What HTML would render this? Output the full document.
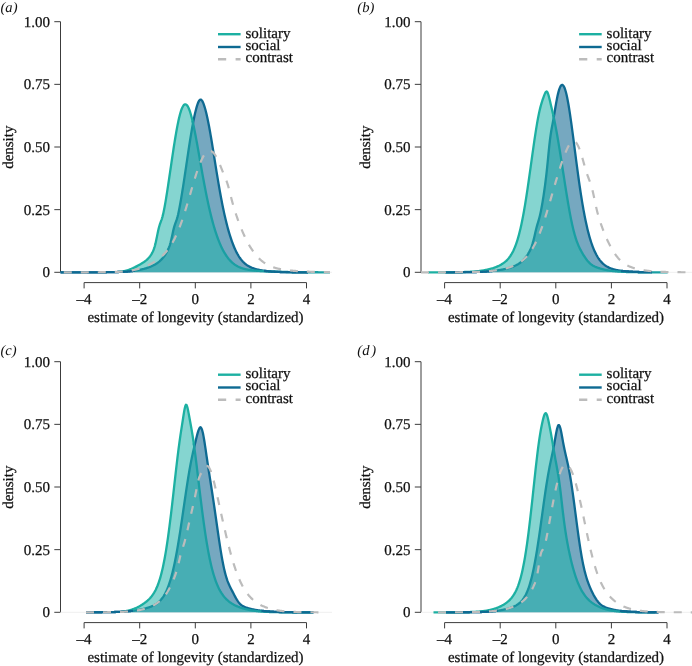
<!DOCTYPE html>
<html><head><meta charset="utf-8"><style>
html,body{margin:0;padding:0;background:#fff;}
svg{display:block;will-change:transform;text-rendering:geometricPrecision;}
.tk{font-family:"Liberation Serif",serif;font-size:15px;fill:#111;stroke:#111;stroke-width:0.25px;}
.it{font-family:"Liberation Serif",serif;font-style:italic;font-size:14.6px;fill:#111;}
.ax{stroke:#3c3c3c;stroke-width:1.0;fill:none;}
</style></head><body>
<svg width="692" height="666" viewBox="0 0 692 666">
<rect width="692" height="666" fill="#fff"/>
<g transform="translate(0,0)">
<text x="0.5" y="11.9" class="it">(a<tspan dx="0">)</tspan></text>
<line x1="60.5" y1="21.7" x2="60.5" y2="272.3" class="ax"/>
<line x1="54.3" y1="272.30" x2="60.5" y2="272.30" class="ax"/>
<text x="50" y="277.20" class="tk" text-anchor="end">0</text>
<line x1="54.3" y1="209.65" x2="60.5" y2="209.65" class="ax"/>
<text x="50" y="214.55" class="tk" text-anchor="end">0.25</text>
<line x1="54.3" y1="147.00" x2="60.5" y2="147.00" class="ax"/>
<text x="50" y="151.90" class="tk" text-anchor="end">0.50</text>
<line x1="54.3" y1="84.35" x2="60.5" y2="84.35" class="ax"/>
<text x="50" y="89.25" class="tk" text-anchor="end">0.75</text>
<line x1="54.3" y1="21.70" x2="60.5" y2="21.70" class="ax"/>
<text x="50" y="26.60" class="tk" text-anchor="end">1.00</text>
<line x1="84.10" y1="282.6" x2="306.50" y2="282.6" class="ax"/>
<line x1="84.10" y1="282.6" x2="84.10" y2="288.40000000000003" class="ax"/>
<text x="84.10" y="304.3" class="tk" text-anchor="middle">–4</text>
<line x1="139.70" y1="282.6" x2="139.70" y2="288.40000000000003" class="ax"/>
<text x="139.70" y="304.3" class="tk" text-anchor="middle">–2</text>
<line x1="195.30" y1="282.6" x2="195.30" y2="288.40000000000003" class="ax"/>
<text x="195.30" y="304.3" class="tk" text-anchor="middle">0</text>
<line x1="250.90" y1="282.6" x2="250.90" y2="288.40000000000003" class="ax"/>
<text x="250.90" y="304.3" class="tk" text-anchor="middle">2</text>
<line x1="306.50" y1="282.6" x2="306.50" y2="288.40000000000003" class="ax"/>
<text x="306.50" y="304.3" class="tk" text-anchor="middle">4</text>
<text x="195.5" y="322.1" class="tk" text-anchor="middle">estimate of longevity (standardized)</text>
<text transform="translate(13.3,147.2) rotate(-90)" class="tk" text-anchor="middle">density</text>
<line x1="60.5" y1="272.3" x2="332" y2="272.3" stroke="#efefef" stroke-width="1"/>
<path d="M60.50,272.30 L61.00,272.30 L61.50,272.30 L62.00,272.30 L62.50,272.30 L63.00,272.30 L63.50,272.30 L64.00,272.30 L64.50,272.30 L65.00,272.30 L65.50,272.30 L66.00,272.30 L66.50,272.30 L67.00,272.30 L67.50,272.30 L68.00,272.30 L68.50,272.30 L69.00,272.30 L69.50,272.30 L70.00,272.30 L70.50,272.30 L71.00,272.30 L71.50,272.30 L72.00,272.30 L72.50,272.30 L73.00,272.30 L73.50,272.30 L74.00,272.30 L74.50,272.30 L75.00,272.30 L75.50,272.30 L76.00,272.30 L76.50,272.30 L77.00,272.30 L77.50,272.30 L78.00,272.30 L78.50,272.30 L79.00,272.30 L79.50,272.30 L80.00,272.30 L80.50,272.30 L81.00,272.30 L81.50,272.30 L82.00,272.30 L82.50,272.30 L83.00,272.30 L83.50,272.30 L84.00,272.30 L84.50,272.30 L85.00,272.30 L85.50,272.30 L86.00,272.30 L86.50,272.30 L87.00,272.30 L87.50,272.30 L88.00,272.29 L88.50,272.29 L89.00,272.29 L89.50,272.29 L90.00,272.29 L90.50,272.29 L91.00,272.29 L91.50,272.29 L92.00,272.29 L92.50,272.29 L93.00,272.29 L93.50,272.29 L94.00,272.29 L94.50,272.29 L95.00,272.28 L95.50,272.28 L96.00,272.28 L96.50,272.28 L97.00,272.28 L97.50,272.28 L98.00,272.28 L98.50,272.27 L99.00,272.27 L99.50,272.27 L100.00,272.27 L100.50,272.27 L101.00,272.26 L101.50,272.26 L102.00,272.26 L102.50,272.26 L103.00,272.25 L103.50,272.25 L104.00,272.25 L104.50,272.24 L105.00,272.24 L105.50,272.24 L106.00,272.23 L106.50,272.23 L107.00,272.22 L107.50,272.22 L108.00,272.21 L108.50,272.21 L109.00,272.20 L109.50,272.19 L110.00,272.19 L110.50,272.18 L111.00,272.17 L111.50,272.16 L112.00,272.15 L112.50,272.15 L113.00,272.14 L113.50,272.13 L114.00,272.12 L114.50,272.10 L115.00,272.09 L115.50,272.08 L116.00,272.07 L116.50,272.05 L117.00,272.04 L117.50,272.02 L118.00,272.01 L118.50,271.99 L119.00,271.97 L119.50,271.95 L120.00,271.93 L120.50,271.91 L121.00,271.89 L121.50,271.87 L122.00,271.85 L122.50,271.82 L123.00,271.79 L123.50,271.77 L124.00,271.74 L124.50,271.71 L125.00,271.68 L125.50,271.65 L126.00,271.61 L126.50,271.58 L127.00,271.54 L127.50,271.50 L128.00,271.46 L128.50,271.42 L129.00,271.37 L129.50,271.33 L130.00,271.28 L130.50,271.23 L131.00,271.18 L131.50,271.12 L132.00,271.06 L132.50,271.01 L133.00,270.94 L133.50,270.88 L134.00,270.82 L134.50,270.75 L135.00,270.68 L135.50,270.60 L136.00,270.53 L136.50,270.45 L137.00,270.36 L137.50,270.28 L138.00,270.19 L138.50,270.10 L139.00,270.00 L139.50,269.90 L140.00,269.80 L140.50,269.70 L141.00,269.59 L141.50,269.48 L142.00,269.36 L142.50,269.24 L143.00,269.12 L143.50,268.99 L144.00,268.86 L144.50,268.72 L145.00,268.58 L145.50,268.43 L146.00,268.28 L146.50,268.12 L147.00,267.96 L147.50,267.80 L148.00,267.62 L148.50,267.45 L149.00,267.26 L149.50,267.07 L150.00,266.88 L150.50,266.67 L151.00,266.46 L151.50,266.25 L152.00,266.02 L152.50,265.79 L153.00,265.54 L153.50,265.29 L154.00,265.03 L154.50,264.76 L155.00,264.47 L155.50,264.18 L156.00,263.87 L156.50,263.55 L157.00,263.22 L157.50,262.87 L158.00,262.51 L158.50,262.13 L159.00,261.73 L159.50,261.31 L160.00,260.87 L160.50,260.41 L161.00,259.93 L161.50,259.42 L162.00,258.88 L162.50,258.32 L163.00,257.73 L163.50,257.11 L164.00,256.45 L164.50,255.76 L165.00,255.03 L165.50,254.27 L166.00,253.46 L166.50,252.60 L167.00,251.69 L167.50,250.73 L168.00,249.70 L168.50,248.59 L169.00,247.38 L169.50,246.04 L170.00,244.53 L170.50,242.83 L171.00,240.91 L171.50,238.79 L172.00,236.51 L172.50,234.15 L173.00,231.81 L173.50,229.60 L174.00,227.60 L174.50,225.85 L175.00,224.32 L175.50,222.95 L176.00,221.62 L176.50,220.22 L177.00,218.67 L177.50,216.90 L178.00,214.91 L178.50,212.70 L179.00,210.29 L179.50,207.73 L180.00,205.03 L180.50,202.23 L181.00,199.34 L181.50,196.37 L182.00,193.33 L182.50,190.23 L183.00,187.08 L183.50,183.87 L184.00,180.62 L184.50,177.33 L185.00,174.01 L185.50,170.66 L186.00,167.30 L186.50,163.93 L187.00,160.55 L187.50,157.19 L188.00,153.84 L188.50,150.51 L189.00,147.22 L189.50,143.97 L190.00,140.78 L190.50,137.65 L191.00,134.59 L191.50,131.60 L192.00,128.71 L192.50,125.91 L193.00,123.22 L193.50,120.63 L194.00,118.15 L194.50,115.78 L195.00,113.54 L195.50,111.42 L196.00,109.43 L196.50,107.58 L197.00,105.88 L197.50,104.35 L198.00,102.99 L198.50,101.84 L199.00,100.91 L199.50,100.22 L200.00,99.78 L200.50,99.60 L201.00,99.68 L201.50,100.02 L202.00,100.60 L202.50,101.41 L203.00,102.43 L203.50,103.64 L204.00,105.02 L204.50,106.56 L205.00,108.23 L205.50,110.05 L206.00,111.98 L206.50,114.04 L207.00,116.22 L207.50,118.51 L208.00,120.91 L208.50,123.41 L209.00,126.01 L209.50,128.70 L210.00,131.48 L210.50,134.33 L211.00,137.25 L211.50,140.23 L212.00,143.26 L212.50,146.32 L213.00,149.42 L213.50,152.54 L214.00,155.68 L214.50,158.82 L215.00,161.96 L215.50,165.10 L216.00,168.21 L216.50,171.31 L217.00,174.38 L217.50,177.42 L218.00,180.42 L218.50,183.38 L219.00,186.30 L219.50,189.16 L220.00,191.98 L220.50,194.74 L221.00,197.44 L221.50,200.08 L222.00,202.67 L222.50,205.19 L223.00,207.65 L223.50,210.05 L224.00,212.38 L224.50,214.65 L225.00,216.86 L225.50,219.01 L226.00,221.10 L226.50,223.12 L227.00,225.09 L227.50,226.99 L228.00,228.84 L228.50,230.63 L229.00,232.36 L229.50,234.03 L230.00,235.65 L230.50,237.22 L231.00,238.73 L231.50,240.19 L232.00,241.61 L232.50,242.97 L233.00,244.28 L233.50,245.54 L234.00,246.76 L234.50,247.93 L235.00,249.05 L235.50,250.14 L236.00,251.17 L236.50,252.17 L237.00,253.12 L237.50,254.04 L238.00,254.91 L238.50,255.75 L239.00,256.54 L239.50,257.31 L240.00,258.03 L240.50,258.72 L241.00,259.38 L241.50,260.01 L242.00,260.61 L242.50,261.17 L243.00,261.71 L243.50,262.22 L244.00,262.71 L244.50,263.17 L245.00,263.60 L245.50,264.02 L246.00,264.41 L246.50,264.78 L247.00,265.13 L247.50,265.46 L248.00,265.78 L248.50,266.08 L249.00,266.36 L249.50,266.63 L250.00,266.89 L250.50,267.13 L251.00,267.36 L251.50,267.58 L252.00,267.78 L252.50,267.98 L253.00,268.17 L253.50,268.35 L254.00,268.52 L254.50,268.68 L255.00,268.83 L255.50,268.98 L256.00,269.12 L256.50,269.26 L257.00,269.39 L257.50,269.51 L258.00,269.63 L258.50,269.74 L259.00,269.85 L259.50,269.96 L260.00,270.06 L260.50,270.16 L261.00,270.25 L261.50,270.34 L262.00,270.42 L262.50,270.51 L263.00,270.58 L263.50,270.66 L264.00,270.73 L264.50,270.80 L265.00,270.87 L265.50,270.93 L266.00,271.00 L266.50,271.06 L267.00,271.11 L267.50,271.17 L268.00,271.22 L268.50,271.27 L269.00,271.32 L269.50,271.37 L270.00,271.41 L270.50,271.45 L271.00,271.49 L271.50,271.53 L272.00,271.57 L272.50,271.61 L273.00,271.64 L273.50,271.67 L274.00,271.71 L274.50,271.74 L275.00,271.76 L275.50,271.79 L276.00,271.82 L276.50,271.84 L277.00,271.87 L277.50,271.89 L278.00,271.91 L278.50,271.93 L279.00,271.95 L279.50,271.97 L280.00,271.99 L280.50,272.01 L281.00,272.02 L281.50,272.04 L282.00,272.05 L282.50,272.07 L283.00,272.08 L283.50,272.09 L284.00,272.10 L284.50,272.11 L285.00,272.12 L285.50,272.14 L286.00,272.14 L286.50,272.15 L287.00,272.16 L287.50,272.17 L288.00,272.18 L288.50,272.19 L289.00,272.19 L289.50,272.20 L290.00,272.20 L290.50,272.21 L291.00,272.22 L291.50,272.22 L292.00,272.23 L292.50,272.23 L293.00,272.24 L293.50,272.24 L294.00,272.24 L294.50,272.25 L295.00,272.25 L295.50,272.25 L296.00,272.26 L296.50,272.26 L297.00,272.26 L297.50,272.26 L298.00,272.27 L298.50,272.27 L299.00,272.27 L299.50,272.27 L300.00,272.27 L300.50,272.28 L301.00,272.28 L301.50,272.28 L302.00,272.28 L302.50,272.28 L303.00,272.28 L303.50,272.28 L304.00,272.29 L304.50,272.29 L305.00,272.29 L305.50,272.29 L306.00,272.29 L306.50,272.29 L307.00,272.29 L307.50,272.29 L308.00,272.29 L308.00,272.30 L60.50,272.30 Z" fill="#1a6e96" fill-opacity="0.6" stroke="none"/>
<path d="M60.50,272.30 L61.00,272.30 L61.50,272.30 L62.00,272.30 L62.50,272.30 L63.00,272.30 L63.50,272.30 L64.00,272.30 L64.50,272.30 L65.00,272.30 L65.50,272.30 L66.00,272.30 L66.50,272.30 L67.00,272.30 L67.50,272.30 L68.00,272.30 L68.50,272.30 L69.00,272.30 L69.50,272.30 L70.00,272.30 L70.50,272.30 L71.00,272.30 L71.50,272.30 L72.00,272.30 L72.50,272.30 L73.00,272.30 L73.50,272.30 L74.00,272.30 L74.50,272.30 L75.00,272.30 L75.50,272.30 L76.00,272.30 L76.50,272.30 L77.00,272.30 L77.50,272.30 L78.00,272.30 L78.50,272.30 L79.00,272.30 L79.50,272.30 L80.00,272.30 L80.50,272.30 L81.00,272.30 L81.50,272.30 L82.00,272.30 L82.50,272.30 L83.00,272.30 L83.50,272.30 L84.00,272.30 L84.50,272.30 L85.00,272.30 L85.50,272.30 L86.00,272.30 L86.50,272.30 L87.00,272.30 L87.50,272.30 L88.00,272.29 L88.50,272.29 L89.00,272.29 L89.50,272.29 L90.00,272.29 L90.50,272.29 L91.00,272.29 L91.50,272.29 L92.00,272.29 L92.50,272.29 L93.00,272.29 L93.50,272.29 L94.00,272.29 L94.50,272.29 L95.00,272.28 L95.50,272.28 L96.00,272.28 L96.50,272.28 L97.00,272.28 L97.50,272.28 L98.00,272.28 L98.50,272.27 L99.00,272.27 L99.50,272.27 L100.00,272.27 L100.50,272.27 L101.00,272.26 L101.50,272.26 L102.00,272.26 L102.50,272.26 L103.00,272.25 L103.50,272.25 L104.00,272.25 L104.50,272.24 L105.00,272.24 L105.50,272.24 L106.00,272.23 L106.50,272.23 L107.00,272.22 L107.50,272.22 L108.00,272.21 L108.50,272.21 L109.00,272.20 L109.50,272.19 L110.00,272.19 L110.50,272.18 L111.00,272.17 L111.50,272.16 L112.00,272.15 L112.50,272.15 L113.00,272.14 L113.50,272.13 L114.00,272.12 L114.50,272.10 L115.00,272.09 L115.50,272.08 L116.00,272.07 L116.50,272.05 L117.00,272.04 L117.50,272.02 L118.00,272.01 L118.50,271.99 L119.00,271.97 L119.50,271.95 L120.00,271.93 L120.50,271.91 L121.00,271.89 L121.50,271.87 L122.00,271.85 L122.50,271.82 L123.00,271.79 L123.50,271.77 L124.00,271.74 L124.50,271.71 L125.00,271.68 L125.50,271.65 L126.00,271.61 L126.50,271.58 L127.00,271.54 L127.50,271.50 L128.00,271.46 L128.50,271.42 L129.00,271.37 L129.50,271.33 L130.00,271.28 L130.50,271.23 L131.00,271.18 L131.50,271.12 L132.00,271.06 L132.50,271.01 L133.00,270.94 L133.50,270.88 L134.00,270.82 L134.50,270.75 L135.00,270.68 L135.50,270.60 L136.00,270.53 L136.50,270.45 L137.00,270.36 L137.50,270.28 L138.00,270.19 L138.50,270.10 L139.00,270.00 L139.50,269.90 L140.00,269.80 L140.50,269.70 L141.00,269.59 L141.50,269.48 L142.00,269.36 L142.50,269.24 L143.00,269.12 L143.50,268.99 L144.00,268.86 L144.50,268.72 L145.00,268.58 L145.50,268.43 L146.00,268.28 L146.50,268.12 L147.00,267.96 L147.50,267.80 L148.00,267.62 L148.50,267.45 L149.00,267.26 L149.50,267.07 L150.00,266.88 L150.50,266.67 L151.00,266.46 L151.50,266.25 L152.00,266.02 L152.50,265.79 L153.00,265.54 L153.50,265.29 L154.00,265.03 L154.50,264.76 L155.00,264.47 L155.50,264.18 L156.00,263.87 L156.50,263.55 L157.00,263.22 L157.50,262.87 L158.00,262.51 L158.50,262.13 L159.00,261.73 L159.50,261.31 L160.00,260.87 L160.50,260.41 L161.00,259.93 L161.50,259.42 L162.00,258.88 L162.50,258.32 L163.00,257.73 L163.50,257.11 L164.00,256.45 L164.50,255.76 L165.00,255.03 L165.50,254.27 L166.00,253.46 L166.50,252.60 L167.00,251.69 L167.50,250.73 L168.00,249.70 L168.50,248.59 L169.00,247.38 L169.50,246.04 L170.00,244.53 L170.50,242.83 L171.00,240.91 L171.50,238.79 L172.00,236.51 L172.50,234.15 L173.00,231.81 L173.50,229.60 L174.00,227.60 L174.50,225.85 L175.00,224.32 L175.50,222.95 L176.00,221.62 L176.50,220.22 L177.00,218.67 L177.50,216.90 L178.00,214.91 L178.50,212.70 L179.00,210.29 L179.50,207.73 L180.00,205.03 L180.50,202.23 L181.00,199.34 L181.50,196.37 L182.00,193.33 L182.50,190.23 L183.00,187.08 L183.50,183.87 L184.00,180.62 L184.50,177.33 L185.00,174.01 L185.50,170.66 L186.00,167.30 L186.50,163.93 L187.00,160.55 L187.50,157.19 L188.00,153.84 L188.50,150.51 L189.00,147.22 L189.50,143.97 L190.00,140.78 L190.50,137.65 L191.00,134.59 L191.50,131.60 L192.00,128.71 L192.50,125.91 L193.00,123.22 L193.50,120.63 L194.00,118.15 L194.50,115.78 L195.00,113.54 L195.50,111.42 L196.00,109.43 L196.50,107.58 L197.00,105.88 L197.50,104.35 L198.00,102.99 L198.50,101.84 L199.00,100.91 L199.50,100.22 L200.00,99.78 L200.50,99.60 L201.00,99.68 L201.50,100.02 L202.00,100.60 L202.50,101.41 L203.00,102.43 L203.50,103.64 L204.00,105.02 L204.50,106.56 L205.00,108.23 L205.50,110.05 L206.00,111.98 L206.50,114.04 L207.00,116.22 L207.50,118.51 L208.00,120.91 L208.50,123.41 L209.00,126.01 L209.50,128.70 L210.00,131.48 L210.50,134.33 L211.00,137.25 L211.50,140.23 L212.00,143.26 L212.50,146.32 L213.00,149.42 L213.50,152.54 L214.00,155.68 L214.50,158.82 L215.00,161.96 L215.50,165.10 L216.00,168.21 L216.50,171.31 L217.00,174.38 L217.50,177.42 L218.00,180.42 L218.50,183.38 L219.00,186.30 L219.50,189.16 L220.00,191.98 L220.50,194.74 L221.00,197.44 L221.50,200.08 L222.00,202.67 L222.50,205.19 L223.00,207.65 L223.50,210.05 L224.00,212.38 L224.50,214.65 L225.00,216.86 L225.50,219.01 L226.00,221.10 L226.50,223.12 L227.00,225.09 L227.50,226.99 L228.00,228.84 L228.50,230.63 L229.00,232.36 L229.50,234.03 L230.00,235.65 L230.50,237.22 L231.00,238.73 L231.50,240.19 L232.00,241.61 L232.50,242.97 L233.00,244.28 L233.50,245.54 L234.00,246.76 L234.50,247.93 L235.00,249.05 L235.50,250.14 L236.00,251.17 L236.50,252.17 L237.00,253.12 L237.50,254.04 L238.00,254.91 L238.50,255.75 L239.00,256.54 L239.50,257.31 L240.00,258.03 L240.50,258.72 L241.00,259.38 L241.50,260.01 L242.00,260.61 L242.50,261.17 L243.00,261.71 L243.50,262.22 L244.00,262.71 L244.50,263.17 L245.00,263.60 L245.50,264.02 L246.00,264.41 L246.50,264.78 L247.00,265.13 L247.50,265.46 L248.00,265.78 L248.50,266.08 L249.00,266.36 L249.50,266.63 L250.00,266.89 L250.50,267.13 L251.00,267.36 L251.50,267.58 L252.00,267.78 L252.50,267.98 L253.00,268.17 L253.50,268.35 L254.00,268.52 L254.50,268.68 L255.00,268.83 L255.50,268.98 L256.00,269.12 L256.50,269.26 L257.00,269.39 L257.50,269.51 L258.00,269.63 L258.50,269.74 L259.00,269.85 L259.50,269.96 L260.00,270.06 L260.50,270.16 L261.00,270.25 L261.50,270.34 L262.00,270.42 L262.50,270.51 L263.00,270.58 L263.50,270.66 L264.00,270.73 L264.50,270.80 L265.00,270.87 L265.50,270.93 L266.00,271.00 L266.50,271.06 L267.00,271.11 L267.50,271.17 L268.00,271.22 L268.50,271.27 L269.00,271.32 L269.50,271.37 L270.00,271.41 L270.50,271.45 L271.00,271.49 L271.50,271.53 L272.00,271.57 L272.50,271.61 L273.00,271.64 L273.50,271.67 L274.00,271.71 L274.50,271.74 L275.00,271.76 L275.50,271.79 L276.00,271.82 L276.50,271.84 L277.00,271.87 L277.50,271.89 L278.00,271.91 L278.50,271.93 L279.00,271.95 L279.50,271.97 L280.00,271.99 L280.50,272.01 L281.00,272.02 L281.50,272.04 L282.00,272.05 L282.50,272.07 L283.00,272.08 L283.50,272.09 L284.00,272.10 L284.50,272.11 L285.00,272.12 L285.50,272.14 L286.00,272.14 L286.50,272.15 L287.00,272.16 L287.50,272.17 L288.00,272.18 L288.50,272.19 L289.00,272.19 L289.50,272.20 L290.00,272.20 L290.50,272.21 L291.00,272.22 L291.50,272.22 L292.00,272.23 L292.50,272.23 L293.00,272.24 L293.50,272.24 L294.00,272.24 L294.50,272.25 L295.00,272.25 L295.50,272.25 L296.00,272.26 L296.50,272.26 L297.00,272.26 L297.50,272.26 L298.00,272.27 L298.50,272.27 L299.00,272.27 L299.50,272.27 L300.00,272.27 L300.50,272.28 L301.00,272.28 L301.50,272.28 L302.00,272.28 L302.50,272.28 L303.00,272.28 L303.50,272.28 L304.00,272.29 L304.50,272.29 L305.00,272.29 L305.50,272.29 L306.00,272.29 L306.50,272.29 L307.00,272.29 L307.50,272.29 L308.00,272.29" fill="none" stroke="#0e6a92" stroke-width="2.3"/>
<path d="M118.00,271.94 L118.50,271.90 L119.00,271.86 L119.50,271.81 L120.00,271.75 L120.50,271.69 L121.00,271.63 L121.50,271.56 L122.00,271.49 L122.50,271.41 L123.00,271.32 L123.50,271.23 L124.00,271.13 L124.50,271.02 L125.00,270.91 L125.50,270.79 L126.00,270.66 L126.50,270.52 L127.00,270.38 L127.50,270.23 L128.00,270.07 L128.50,269.91 L129.00,269.73 L129.50,269.55 L130.00,269.36 L130.50,269.17 L131.00,268.97 L131.50,268.76 L132.00,268.54 L132.50,268.32 L133.00,268.10 L133.50,267.86 L134.00,267.63 L134.50,267.38 L135.00,267.14 L135.50,266.88 L136.00,266.63 L136.50,266.37 L137.00,266.11 L137.50,265.84 L138.00,265.57 L138.50,265.30 L139.00,265.02 L139.50,264.74 L140.00,264.46 L140.50,264.17 L141.00,263.88 L141.50,263.58 L142.00,263.27 L142.50,262.96 L143.00,262.64 L143.50,262.31 L144.00,261.97 L144.50,261.61 L145.00,261.25 L145.50,260.86 L146.00,260.46 L146.50,260.04 L147.00,259.59 L147.50,259.12 L148.00,258.62 L148.50,258.09 L149.00,257.52 L149.50,256.92 L150.00,256.28 L150.50,255.59 L151.00,254.85 L151.50,254.05 L152.00,253.19 L152.50,252.24 L153.00,251.18 L153.50,249.99 L154.00,248.65 L154.50,247.11 L155.00,245.36 L155.50,243.39 L156.00,241.20 L156.50,238.84 L157.00,236.37 L157.50,233.88 L158.00,231.48 L158.50,229.25 L159.00,227.24 L159.50,225.48 L160.00,223.94 L160.50,222.55 L161.00,221.21 L161.50,219.82 L162.00,218.31 L162.50,216.60 L163.00,214.66 L163.50,212.48 L164.00,210.08 L164.50,207.49 L165.00,204.73 L165.50,201.84 L166.00,198.84 L166.50,195.74 L167.00,192.58 L167.50,189.35 L168.00,186.07 L168.50,182.75 L169.00,179.40 L169.50,176.02 L170.00,172.62 L170.50,169.21 L171.00,165.80 L171.50,162.40 L172.00,159.01 L172.50,155.64 L173.00,152.31 L173.50,149.03 L174.00,145.79 L174.50,142.62 L175.00,139.52 L175.50,136.50 L176.00,133.57 L176.50,130.73 L177.00,128.00 L177.50,125.39 L178.00,122.90 L178.50,120.54 L179.00,118.32 L179.50,116.25 L180.00,114.32 L180.50,112.55 L181.00,110.95 L181.50,109.50 L182.00,108.23 L182.50,107.14 L183.00,106.22 L183.50,105.47 L184.00,104.91 L184.50,104.52 L185.00,104.32 L185.50,104.29 L186.00,104.45 L186.50,104.78 L187.00,105.28 L187.50,105.95 L188.00,106.78 L188.50,107.78 L189.00,108.93 L189.50,110.24 L190.00,111.69 L190.50,113.28 L191.00,115.00 L191.50,116.85 L192.00,118.81 L192.50,120.89 L193.00,123.07 L193.50,125.35 L194.00,127.71 L194.50,130.16 L195.00,132.68 L195.50,135.26 L196.00,137.90 L196.50,140.59 L197.00,143.33 L197.50,146.10 L198.00,148.89 L198.50,151.71 L199.00,154.55 L199.50,157.39 L200.00,160.24 L200.50,163.08 L201.00,165.92 L201.50,168.74 L202.00,171.55 L202.50,174.34 L203.00,177.10 L203.50,179.82 L204.00,182.52 L204.50,185.18 L205.00,187.80 L205.50,190.38 L206.00,192.92 L206.50,195.41 L207.00,197.86 L207.50,200.26 L208.00,202.60 L208.50,204.90 L209.00,207.15 L209.50,209.34 L210.00,211.48 L210.50,213.57 L211.00,215.61 L211.50,217.60 L212.00,219.53 L212.50,221.41 L213.00,223.24 L213.50,225.02 L214.00,226.75 L214.50,228.43 L215.00,230.06 L215.50,231.65 L216.00,233.18 L216.50,234.67 L217.00,236.11 L217.50,237.51 L218.00,238.87 L218.50,240.18 L219.00,241.45 L219.50,242.67 L220.00,243.86 L220.50,245.01 L221.00,246.11 L221.50,247.18 L222.00,248.22 L222.50,249.21 L223.00,250.18 L223.50,251.10 L224.00,252.00 L224.50,252.86 L225.00,253.68 L225.50,254.48 L226.00,255.25 L226.50,255.99 L227.00,256.69 L227.50,257.37 L228.00,258.03 L228.50,258.66 L229.00,259.26 L229.50,259.83 L230.00,260.39 L230.50,260.91 L231.00,261.42 L231.50,261.90 L232.00,262.37 L232.50,262.81 L233.00,263.23 L233.50,263.64 L234.00,264.02 L234.50,264.39 L235.00,264.74 L235.50,265.07 L236.00,265.39 L236.50,265.69 L237.00,265.98 L237.50,266.26 L238.00,266.52 L238.50,266.76 L239.00,267.00 L239.50,267.22 L240.00,267.44 L240.50,267.64 L241.00,267.83 L241.50,268.01 L242.00,268.18 L242.50,268.35 L243.00,268.50 L243.50,268.65 L244.00,268.79 L244.50,268.92 L245.00,269.05 L245.50,269.17 L246.00,269.28 L246.50,269.39 L247.00,269.49 L247.50,269.59 L248.00,269.68 L248.50,269.77 L249.00,269.85 L249.50,269.93 L250.00,270.00 L250.50,270.08 L251.00,270.14 L251.50,270.21 L252.00,270.27 L252.50,270.33 L253.00,270.39 L253.50,270.44 L254.00,270.50 L254.50,270.55 L255.00,270.59 L255.50,270.64 L256.00,270.69 L256.50,270.73 L257.00,270.77 L257.50,270.81 L258.00,270.85 L258.50,270.88 L259.00,270.92 L259.50,270.96 L260.00,270.99 L260.50,271.02 L261.00,271.05 L261.50,271.08 L262.00,271.11 L262.50,271.14 L263.00,271.17 L263.50,271.20 L264.00,271.23 L264.50,271.25 L265.00,271.28 L265.50,271.30 L266.00,271.33 L266.50,271.35 L267.00,271.38 L267.50,271.40 L268.00,271.42 L268.50,271.44 L269.00,271.46 L269.50,271.49 L270.00,271.51 L270.50,271.53 L271.00,271.55 L271.50,271.57 L272.00,271.58 L272.50,271.60 L273.00,271.62 L273.50,271.64 L274.00,271.66 L274.50,271.67 L275.00,271.69 L275.50,271.71 L276.00,271.72 L276.50,271.74 L277.00,271.76 L277.50,271.77 L278.00,271.79 L278.50,271.80 L279.00,271.81 L279.50,271.83 L280.00,271.84 L280.50,271.86 L281.00,271.87 L281.50,271.88 L282.00,271.89 L282.50,271.91 L283.00,271.92 L283.50,271.93 L284.00,271.94 L284.50,271.95 L285.00,271.96 L285.50,271.97 L286.00,271.98 L286.50,271.99 L287.00,272.00 L287.50,272.01 L288.00,272.02 L288.50,272.03 L289.00,272.04 L289.50,272.05 L290.00,272.06 L290.50,272.06 L291.00,272.07 L291.50,272.08 L292.00,272.09 L292.50,272.10 L293.00,272.10 L293.50,272.11 L294.00,272.12 L294.50,272.12 L295.00,272.13 L295.50,272.13 L296.00,272.14 L296.50,272.15 L297.00,272.15 L297.50,272.16 L298.00,272.16 L298.50,272.17 L299.00,272.17 L299.50,272.18 L300.00,272.18 L300.50,272.19 L301.00,272.19 L301.50,272.20 L302.00,272.20 L302.50,272.20 L303.00,272.21 L303.50,272.21 L304.00,272.21 L304.50,272.22 L305.00,272.22 L305.50,272.22 L306.00,272.23 L306.50,272.23 L307.00,272.23 L307.50,272.24 L308.00,272.24 L308.50,272.24 L309.00,272.24 L309.50,272.25 L310.00,272.25 L310.50,272.25 L311.00,272.25 L311.50,272.25 L312.00,272.26 L312.50,272.26 L313.00,272.26 L313.50,272.26 L314.00,272.26 L314.50,272.27 L315.00,272.27 L315.50,272.27 L316.00,272.27 L316.50,272.27 L317.00,272.27 L317.50,272.27 L318.00,272.27 L318.50,272.28 L319.00,272.28 L319.50,272.28 L320.00,272.28 L320.50,272.28 L321.00,272.28 L321.50,272.28 L322.00,272.28 L322.50,272.28 L323.00,272.28 L323.50,272.29 L324.00,272.29 L324.50,272.29 L325.00,272.29 L325.50,272.29 L326.00,272.29 L326.50,272.29 L327.00,272.29 L327.50,272.29 L328.00,272.29 L328.50,272.29 L329.00,272.29 L329.50,272.29 L330.00,272.29 L330.00,272.30 L118.00,272.30 Z" fill="#20b2aa" fill-opacity="0.55" stroke="none"/>
<path d="M118.00,271.94 L118.50,271.90 L119.00,271.86 L119.50,271.81 L120.00,271.75 L120.50,271.69 L121.00,271.63 L121.50,271.56 L122.00,271.49 L122.50,271.41 L123.00,271.32 L123.50,271.23 L124.00,271.13 L124.50,271.02 L125.00,270.91 L125.50,270.79 L126.00,270.66 L126.50,270.52 L127.00,270.38 L127.50,270.23 L128.00,270.07 L128.50,269.91 L129.00,269.73 L129.50,269.55 L130.00,269.36 L130.50,269.17 L131.00,268.97 L131.50,268.76 L132.00,268.54 L132.50,268.32 L133.00,268.10 L133.50,267.86 L134.00,267.63 L134.50,267.38 L135.00,267.14 L135.50,266.88 L136.00,266.63 L136.50,266.37 L137.00,266.11 L137.50,265.84 L138.00,265.57 L138.50,265.30 L139.00,265.02 L139.50,264.74 L140.00,264.46 L140.50,264.17 L141.00,263.88 L141.50,263.58 L142.00,263.27 L142.50,262.96 L143.00,262.64 L143.50,262.31 L144.00,261.97 L144.50,261.61 L145.00,261.25 L145.50,260.86 L146.00,260.46 L146.50,260.04 L147.00,259.59 L147.50,259.12 L148.00,258.62 L148.50,258.09 L149.00,257.52 L149.50,256.92 L150.00,256.28 L150.50,255.59 L151.00,254.85 L151.50,254.05 L152.00,253.19 L152.50,252.24 L153.00,251.18 L153.50,249.99 L154.00,248.65 L154.50,247.11 L155.00,245.36 L155.50,243.39 L156.00,241.20 L156.50,238.84 L157.00,236.37 L157.50,233.88 L158.00,231.48 L158.50,229.25 L159.00,227.24 L159.50,225.48 L160.00,223.94 L160.50,222.55 L161.00,221.21 L161.50,219.82 L162.00,218.31 L162.50,216.60 L163.00,214.66 L163.50,212.48 L164.00,210.08 L164.50,207.49 L165.00,204.73 L165.50,201.84 L166.00,198.84 L166.50,195.74 L167.00,192.58 L167.50,189.35 L168.00,186.07 L168.50,182.75 L169.00,179.40 L169.50,176.02 L170.00,172.62 L170.50,169.21 L171.00,165.80 L171.50,162.40 L172.00,159.01 L172.50,155.64 L173.00,152.31 L173.50,149.03 L174.00,145.79 L174.50,142.62 L175.00,139.52 L175.50,136.50 L176.00,133.57 L176.50,130.73 L177.00,128.00 L177.50,125.39 L178.00,122.90 L178.50,120.54 L179.00,118.32 L179.50,116.25 L180.00,114.32 L180.50,112.55 L181.00,110.95 L181.50,109.50 L182.00,108.23 L182.50,107.14 L183.00,106.22 L183.50,105.47 L184.00,104.91 L184.50,104.52 L185.00,104.32 L185.50,104.29 L186.00,104.45 L186.50,104.78 L187.00,105.28 L187.50,105.95 L188.00,106.78 L188.50,107.78 L189.00,108.93 L189.50,110.24 L190.00,111.69 L190.50,113.28 L191.00,115.00 L191.50,116.85 L192.00,118.81 L192.50,120.89 L193.00,123.07" fill="none" stroke="#1cb0a2" stroke-width="2.3"/>
<path d="M192.50,120.89 L193.00,123.07 L193.50,125.35 L194.00,127.71 L194.50,130.16 L195.00,132.68 L195.50,135.26 L196.00,137.90 L196.50,140.59 L197.00,143.33 L197.50,146.10 L198.00,148.89 L198.50,151.71 L199.00,154.55 L199.50,157.39 L200.00,160.24 L200.50,163.08 L201.00,165.92 L201.50,168.74 L202.00,171.55 L202.50,174.34 L203.00,177.10 L203.50,179.82 L204.00,182.52 L204.50,185.18 L205.00,187.80 L205.50,190.38 L206.00,192.92 L206.50,195.41 L207.00,197.86 L207.50,200.26 L208.00,202.60 L208.50,204.90 L209.00,207.15 L209.50,209.34 L210.00,211.48 L210.50,213.57 L211.00,215.61 L211.50,217.60 L212.00,219.53 L212.50,221.41 L213.00,223.24 L213.50,225.02 L214.00,226.75 L214.50,228.43 L215.00,230.06 L215.50,231.65 L216.00,233.18 L216.50,234.67 L217.00,236.11 L217.50,237.51 L218.00,238.87 L218.50,240.18 L219.00,241.45 L219.50,242.67 L220.00,243.86 L220.50,245.01 L221.00,246.11 L221.50,247.18 L222.00,248.22 L222.50,249.21 L223.00,250.18 L223.50,251.10 L224.00,252.00 L224.50,252.86 L225.00,253.68 L225.50,254.48 L226.00,255.25 L226.50,255.99 L227.00,256.69 L227.50,257.37 L228.00,258.03 L228.50,258.66 L229.00,259.26 L229.50,259.83 L230.00,260.39 L230.50,260.91 L231.00,261.42 L231.50,261.90 L232.00,262.37 L232.50,262.81 L233.00,263.23 L233.50,263.64 L234.00,264.02 L234.50,264.39 L235.00,264.74 L235.50,265.07 L236.00,265.39 L236.50,265.69 L237.00,265.98 L237.50,266.26 L238.00,266.52 L238.50,266.76 L239.00,267.00 L239.50,267.22 L240.00,267.44 L240.50,267.64 L241.00,267.83 L241.50,268.01 L242.00,268.18 L242.50,268.35 L243.00,268.50 L243.50,268.65 L244.00,268.79 L244.50,268.92 L245.00,269.05 L245.50,269.17 L246.00,269.28 L246.50,269.39 L247.00,269.49 L247.50,269.59 L248.00,269.68 L248.50,269.77 L249.00,269.85 L249.50,269.93 L250.00,270.00 L250.50,270.08 L251.00,270.14 L251.50,270.21 L252.00,270.27 L252.50,270.33 L253.00,270.39 L253.50,270.44 L254.00,270.50 L254.50,270.55 L255.00,270.59 L255.50,270.64 L256.00,270.69 L256.50,270.73 L257.00,270.77 L257.50,270.81 L258.00,270.85 L258.50,270.88 L259.00,270.92 L259.50,270.96 L260.00,270.99 L260.50,271.02 L261.00,271.05 L261.50,271.08 L262.00,271.11 L262.50,271.14 L263.00,271.17 L263.50,271.20 L264.00,271.23 L264.50,271.25 L265.00,271.28 L265.50,271.30 L266.00,271.33 L266.50,271.35 L267.00,271.38 L267.50,271.40 L268.00,271.42 L268.50,271.44 L269.00,271.46 L269.50,271.49 L270.00,271.51 L270.50,271.53 L271.00,271.55 L271.50,271.57 L272.00,271.58 L272.50,271.60 L273.00,271.62 L273.50,271.64 L274.00,271.66 L274.50,271.67 L275.00,271.69 L275.50,271.71 L276.00,271.72 L276.50,271.74 L277.00,271.76 L277.50,271.77 L278.00,271.79 L278.50,271.80 L279.00,271.81 L279.50,271.83 L280.00,271.84 L280.50,271.86 L281.00,271.87 L281.50,271.88 L282.00,271.89 L282.50,271.91 L283.00,271.92 L283.50,271.93 L284.00,271.94 L284.50,271.95 L285.00,271.96 L285.50,271.97 L286.00,271.98 L286.50,271.99 L287.00,272.00 L287.50,272.01 L288.00,272.02 L288.50,272.03 L289.00,272.04 L289.50,272.05 L290.00,272.06 L290.50,272.06 L291.00,272.07 L291.50,272.08 L292.00,272.09 L292.50,272.10 L293.00,272.10 L293.50,272.11 L294.00,272.12 L294.50,272.12 L295.00,272.13 L295.50,272.13 L296.00,272.14 L296.50,272.15 L297.00,272.15 L297.50,272.16 L298.00,272.16 L298.50,272.17 L299.00,272.17 L299.50,272.18 L300.00,272.18 L300.50,272.19 L301.00,272.19 L301.50,272.20 L302.00,272.20 L302.50,272.20 L303.00,272.21 L303.50,272.21 L304.00,272.21 L304.50,272.22 L305.00,272.22 L305.50,272.22 L306.00,272.23 L306.50,272.23 L307.00,272.23 L307.50,272.24 L308.00,272.24 L308.50,272.24 L309.00,272.24 L309.50,272.25 L310.00,272.25 L310.50,272.25 L311.00,272.25 L311.50,272.25 L312.00,272.26 L312.50,272.26 L313.00,272.26 L313.50,272.26 L314.00,272.26 L314.50,272.27 L315.00,272.27 L315.50,272.27 L316.00,272.27 L316.50,272.27 L317.00,272.27 L317.50,272.27 L318.00,272.27 L318.50,272.28 L319.00,272.28 L319.50,272.28 L320.00,272.28 L320.50,272.28 L321.00,272.28 L321.50,272.28 L322.00,272.28 L322.50,272.28 L323.00,272.28 L323.50,272.29 L324.00,272.29 L324.50,272.29 L325.00,272.29 L325.50,272.29 L326.00,272.29 L326.50,272.29 L327.00,272.29 L327.50,272.29 L328.00,272.29 L328.50,272.29 L329.00,272.29 L329.50,272.29 L330.00,272.29" fill="none" stroke="#1a9fa3" stroke-width="2.3"/>
<path d="M60.50,272.30 L61.00,272.30 L61.50,272.30 L62.00,272.30 L62.50,272.30 L63.00,272.30 L63.50,272.30 L64.00,272.30 L64.50,272.30 L65.00,272.30 L65.50,272.30 L66.00,272.30 L66.50,272.30 L67.00,272.30 L67.50,272.30 L68.00,272.30 L68.50,272.30 L69.00,272.30 L69.50,272.30 L70.00,272.30 L70.50,272.30 L71.00,272.30 L71.50,272.30 L72.00,272.30 L72.50,272.30 L73.00,272.30 L73.50,272.30 L74.00,272.30 L74.50,272.30 L75.00,272.30 L75.50,272.30 L76.00,272.30 L76.50,272.30 L77.00,272.30 L77.50,272.30 L78.00,272.30 L78.50,272.30 L79.00,272.30 L79.50,272.30 L80.00,272.30 L80.50,272.30 L81.00,272.30 L81.50,272.30 L82.00,272.30 L82.50,272.30 L83.00,272.30 L83.50,272.30 L84.00,272.30 L84.50,272.30 L85.00,272.30 L85.50,272.30 L86.00,272.30 L86.50,272.30 L87.00,272.30 L87.50,272.30 L88.00,272.29 L88.50,272.29 L89.00,272.29 L89.50,272.29 L90.00,272.29 L90.50,272.29 L91.00,272.29 L91.50,272.29 L92.00,272.29 L92.50,272.29 L93.00,272.29 L93.50,272.29 L94.00,272.29 L94.50,272.29 L95.00,272.28 L95.50,272.28 L96.00,272.28 L96.50,272.28 L97.00,272.28 L97.50,272.28 L98.00,272.28 L98.50,272.27 L99.00,272.27 L99.50,272.27 L100.00,272.27 L100.50,272.27 L101.00,272.26 L101.50,272.26 L102.00,272.26 L102.50,272.26 L103.00,272.25 L103.50,272.25 L104.00,272.25 L104.50,272.24 L105.00,272.24 L105.50,272.24 L106.00,272.23 L106.50,272.23 L107.00,272.22 L107.50,272.22 L108.00,272.21 L108.50,272.21 L109.00,272.20 L109.50,272.19 L110.00,272.19 L110.50,272.18 L111.00,272.17 L111.50,272.16 L112.00,272.15 L112.50,272.15 L113.00,272.14 L113.50,272.13 L114.00,272.12 L114.50,272.10 L115.00,272.09 L115.50,272.08 L116.00,272.07 L116.50,272.05 L117.00,272.04 L117.50,272.02 L118.00,272.01 L118.50,271.99 L119.00,271.97 L119.50,271.95 L120.00,271.93 L120.50,271.91 L121.00,271.89 L121.50,271.87 L122.00,271.85 L122.50,271.82 L123.00,271.79 L123.50,271.77 L124.00,271.74 L124.50,271.71 L125.00,271.68 L125.50,271.65 L126.00,271.61 L126.50,271.58 L127.00,271.54 L127.50,271.50 L128.00,271.46 L128.50,271.42 L129.00,271.37 L129.50,271.33 L130.00,271.28 L130.50,271.23 L131.00,271.18 L131.50,271.12 L132.00,271.06 L132.50,271.01 L133.00,270.94 L133.50,270.88 L134.00,270.82 L134.50,270.75" fill="none" stroke="#0e6a92" stroke-width="2.3"/>
<path d="M264.00,270.73 L264.50,270.80 L265.00,270.87 L265.50,270.93 L266.00,271.00 L266.50,271.06 L267.00,271.11 L267.50,271.17 L268.00,271.22 L268.50,271.27 L269.00,271.32 L269.50,271.37 L270.00,271.41 L270.50,271.45 L271.00,271.49 L271.50,271.53 L272.00,271.57 L272.50,271.61 L273.00,271.64 L273.50,271.67 L274.00,271.71 L274.50,271.74 L275.00,271.76 L275.50,271.79 L276.00,271.82 L276.50,271.84 L277.00,271.87 L277.50,271.89 L278.00,271.91 L278.50,271.93 L279.00,271.95 L279.50,271.97 L280.00,271.99 L280.50,272.01 L281.00,272.02 L281.50,272.04 L282.00,272.05 L282.50,272.07 L283.00,272.08 L283.50,272.09 L284.00,272.10 L284.50,272.11 L285.00,272.12 L285.50,272.14 L286.00,272.14 L286.50,272.15 L287.00,272.16 L287.50,272.17 L288.00,272.18 L288.50,272.19 L289.00,272.19 L289.50,272.20 L290.00,272.20 L290.50,272.21 L291.00,272.22 L291.50,272.22 L292.00,272.23 L292.50,272.23 L293.00,272.24 L293.50,272.24 L294.00,272.24 L294.50,272.25 L295.00,272.25 L295.50,272.25 L296.00,272.26 L296.50,272.26 L297.00,272.26 L297.50,272.26 L298.00,272.27 L298.50,272.27 L299.00,272.27 L299.50,272.27 L300.00,272.27 L300.50,272.28 L301.00,272.28 L301.50,272.28 L302.00,272.28 L302.50,272.28 L303.00,272.28 L303.50,272.28 L304.00,272.29 L304.50,272.29 L305.00,272.29 L305.50,272.29 L306.00,272.29 L306.50,272.29 L307.00,272.29 L307.50,272.29 L308.00,272.29" fill="none" stroke="#0e6a92" stroke-width="2.3"/>
<path d="M60.50,272.30 L61.00,272.30 L61.50,272.30 L62.00,272.30 L62.50,272.30 L63.00,272.30 L63.50,272.30 L64.00,272.30 L64.50,272.30 L65.00,272.30 L65.50,272.30 L66.00,272.30 L66.50,272.30 L67.00,272.30 L67.50,272.30 L68.00,272.30 L68.50,272.30 L69.00,272.30 L69.50,272.30 L70.00,272.30 L70.50,272.30 L71.00,272.30 L71.50,272.29 L72.00,272.29 L72.50,272.29 L73.00,272.29 L73.50,272.29 L74.00,272.29 L74.50,272.29 L75.00,272.29 L75.50,272.29 L76.00,272.29 L76.50,272.29 L77.00,272.29 L77.50,272.29 L78.00,272.29 L78.50,272.29 L79.00,272.29 L79.50,272.29 L80.00,272.29 L80.50,272.29 L81.00,272.29 L81.50,272.29 L82.00,272.29 L82.50,272.28 L83.00,272.28 L83.50,272.28 L84.00,272.28 L84.50,272.28 L85.00,272.28 L85.50,272.28 L86.00,272.28 L86.50,272.28 L87.00,272.28 L87.50,272.27 L88.00,272.27 L88.50,272.27 L89.00,272.27 L89.50,272.27 L90.00,272.27 L90.50,272.27 L91.00,272.26 L91.50,272.26 L92.00,272.26 L92.50,272.26 L93.00,272.26 L93.50,272.26 L94.00,272.25 L94.50,272.25 L95.00,272.25 L95.50,272.25 L96.00,272.24 L96.50,272.24 L97.00,272.24 L97.50,272.24 L98.00,272.23 L98.50,272.23 L99.00,272.23 L99.50,272.22 L100.00,272.22 L100.50,272.22 L101.00,272.21 L101.50,272.21 L102.00,272.20 L102.50,272.20 L103.00,272.19 L103.50,272.19 L104.00,272.18 L104.50,272.18 L105.00,272.17 L105.50,272.17 L106.00,272.16 L106.50,272.15 L107.00,272.14 L107.50,272.14 L108.00,272.13 L108.50,272.12 L109.00,272.11 L109.50,272.10 L110.00,272.09 L110.50,272.08 L111.00,272.07 L111.50,272.06 L112.00,272.05 L112.50,272.03 L113.00,272.02 L113.50,272.01 L114.00,271.99 L114.50,271.98 L115.00,271.96 L115.50,271.94 L116.00,271.92 L116.50,271.90 L117.00,271.88 L117.50,271.86 L118.00,271.84 L118.50,271.81 L119.00,271.79 L119.50,271.76 L120.00,271.73 L120.50,271.70 L121.00,271.67 L121.50,271.63 L122.00,271.60 L122.50,271.56 L123.00,271.52 L123.50,271.48 L124.00,271.44 L124.50,271.39 L125.00,271.35 L125.50,271.30 L126.00,271.24 L126.50,271.19 L127.00,271.13 L127.50,271.07 L128.00,271.01 L128.50,270.94 L129.00,270.87 L129.50,270.80 L130.00,270.73 L130.50,270.65 L131.00,270.57 L131.50,270.48 L132.00,270.39 L132.50,270.30 L133.00,270.20 L133.50,270.10 L134.00,270.00 L134.50,269.89 L135.00,269.78 L135.50,269.66 L136.00,269.54 L136.50,269.42 L137.00,269.29 L137.50,269.16 L138.00,269.02 L138.50,268.88 L139.00,268.73 L139.50,268.58 L140.00,268.42 L140.50,268.26 L141.00,268.10 L141.50,267.93 L142.00,267.75 L142.50,267.57 L143.00,267.39 L143.50,267.20 L144.00,267.00 L144.50,266.80 L145.00,266.60 L145.50,266.39 L146.00,266.17 L146.50,265.95 L147.00,265.73 L147.50,265.50 L148.00,265.27 L148.50,265.03 L149.00,264.78 L149.50,264.53 L150.00,264.27 L150.50,264.01 L151.00,263.75 L151.50,263.47 L152.00,263.20 L152.50,262.91 L153.00,262.62 L153.50,262.33 L154.00,262.02 L154.50,261.71 L155.00,261.40 L155.50,261.07 L156.00,260.74 L156.50,260.41 L157.00,260.06 L157.50,259.70 L158.00,259.34 L158.50,258.97 L159.00,258.59 L159.50,258.20 L160.00,257.80 L160.50,257.38 L161.00,256.96 L161.50,256.53 L162.00,256.08 L162.50,255.62 L163.00,255.14 L163.50,254.65 L164.00,254.15 L164.50,253.63 L165.00,253.10 L165.50,252.55 L166.00,251.98 L166.50,251.39 L167.00,250.78 L167.50,250.16 L168.00,249.51 L168.50,248.84 L169.00,248.15 L169.50,247.44 L170.00,246.70 L170.50,245.94 L171.00,245.15 L171.50,244.34 L172.00,243.50 L172.50,242.64 L173.00,241.74 L173.50,240.82 L174.00,239.87 L174.50,238.90 L175.00,237.89 L175.50,236.85 L176.00,235.78 L176.50,234.68 L177.00,233.56 L177.50,232.40 L178.00,231.21 L178.50,229.98 L179.00,228.73 L179.50,227.45 L180.00,226.14 L180.50,224.79 L181.00,223.42 L181.50,222.02 L182.00,220.59 L182.50,219.13 L183.00,217.65 L183.50,216.14 L184.00,214.61 L184.50,213.05 L185.00,211.47 L185.50,209.87 L186.00,208.25 L186.50,206.61 L187.00,204.96 L187.50,203.29 L188.00,201.61 L188.50,199.91 L189.00,198.21 L189.50,196.51 L190.00,194.79 L190.50,193.08 L191.00,191.37 L191.50,189.66 L192.00,187.95 L192.50,186.25 L193.00,184.56 L193.50,182.89 L194.00,181.23 L194.50,179.58 L195.00,177.96 L195.50,176.36 L196.00,174.79 L196.50,173.24 L197.00,171.73 L197.50,170.25 L198.00,168.81 L198.50,167.41 L199.00,166.05 L199.50,164.73 L200.00,163.46 L200.50,162.24 L201.00,161.07 L201.50,159.95 L202.00,158.89 L202.50,157.89 L203.00,156.94 L203.50,156.06 L204.00,155.24 L204.50,154.49 L205.00,153.80 L205.50,153.18 L206.00,152.63 L206.50,152.14 L207.00,151.73 L207.50,151.39 L208.00,151.12 L208.50,150.92 L209.00,150.80 L209.50,150.75 L210.00,150.77 L210.50,150.86 L211.00,151.02 L211.50,151.26 L212.00,151.57 L212.50,151.94 L213.00,152.39 L213.50,152.90 L214.00,153.49 L214.50,154.13 L215.00,154.84 L215.50,155.62 L216.00,156.45 L216.50,157.34 L217.00,158.29 L217.50,159.29 L218.00,160.35 L218.50,161.45 L219.00,162.59 L219.50,163.77 L220.00,164.98 L220.50,166.21 L221.00,167.45 L221.50,168.70 L222.00,169.94 L222.50,171.16 L223.00,172.37 L223.50,173.56 L224.00,174.73 L224.50,175.89 L225.00,177.06 L225.50,178.26 L226.00,179.51 L226.50,180.84 L227.00,182.26 L227.50,183.80 L228.00,185.44 L228.50,187.20 L229.00,189.06 L229.50,190.99 L230.00,192.97 L230.50,194.97 L231.00,196.97 L231.50,198.94 L232.00,200.86 L232.50,202.73 L233.00,204.54 L233.50,206.28 L234.00,207.97 L234.50,209.61 L235.00,211.19 L235.50,212.74 L236.00,214.25 L236.50,215.73 L237.00,217.18 L237.50,218.61 L238.00,220.01 L238.50,221.39 L239.00,222.74 L239.50,224.07 L240.00,225.38 L240.50,226.66 L241.00,227.92 L241.50,229.16 L242.00,230.37 L242.50,231.56 L243.00,232.72 L243.50,233.86 L244.00,234.98 L244.50,236.07 L245.00,237.14 L245.50,238.19 L246.00,239.21 L246.50,240.21 L247.00,241.18 L247.50,242.14 L248.00,243.07 L248.50,243.98 L249.00,244.86 L249.50,245.73 L250.00,246.57 L250.50,247.39 L251.00,248.19 L251.50,248.98 L252.00,249.73 L252.50,250.47 L253.00,251.19 L253.50,251.89 L254.00,252.57 L254.50,253.24 L255.00,253.88 L255.50,254.50 L256.00,255.11 L256.50,255.70 L257.00,256.27 L257.50,256.82 L258.00,257.36 L258.50,257.88 L259.00,258.38 L259.50,258.87 L260.00,259.35 L260.50,259.80 L261.00,260.24 L261.50,260.67 L262.00,261.08 L262.50,261.48 L263.00,261.87 L263.50,262.24 L264.00,262.60 L264.50,262.94 L265.00,263.27 L265.50,263.60 L266.00,263.90 L266.50,264.20 L267.00,264.49 L267.50,264.76 L268.00,265.03 L268.50,265.28 L269.00,265.53 L269.50,265.76 L270.00,265.99 L270.50,266.21 L271.00,266.41 L271.50,266.62 L272.00,266.81 L272.50,266.99 L273.00,267.17 L273.50,267.34 L274.00,267.50 L274.50,267.66 L275.00,267.81 L275.50,267.96 L276.00,268.10 L276.50,268.23 L277.00,268.36 L277.50,268.48 L278.00,268.60 L278.50,268.71 L279.00,268.82 L279.50,268.93 L280.00,269.03 L280.50,269.13 L281.00,269.22 L281.50,269.31 L282.00,269.40 L282.50,269.49 L283.00,269.57 L283.50,269.65 L284.00,269.72 L284.50,269.80 L285.00,269.87 L285.50,269.94 L286.00,270.00 L286.50,270.07 L287.00,270.13 L287.50,270.19 L288.00,270.25 L288.50,270.31 L289.00,270.36 L289.50,270.42 L290.00,270.47 L290.50,270.52 L291.00,270.57 L291.50,270.62 L292.00,270.67 L292.50,270.71 L293.00,270.76 L293.50,270.80 L294.00,270.84 L294.50,270.88 L295.00,270.92 L295.50,270.96 L296.00,271.00 L296.50,271.04 L297.00,271.07 L297.50,271.11 L298.00,271.14 L298.50,271.18 L299.00,271.21 L299.50,271.24 L300.00,271.27 L300.50,271.30 L301.00,271.33 L301.50,271.36 L302.00,271.39 L302.50,271.41 L303.00,271.44 L303.50,271.47 L304.00,271.49 L304.50,271.52 L305.00,271.54 L305.50,271.56 L306.00,271.59 L306.50,271.61 L307.00,271.63 L307.50,271.65 L308.00,271.67 L308.50,271.69 L309.00,271.71 L309.50,271.73 L310.00,271.75 L310.50,271.77 L311.00,271.78 L311.50,271.80 L312.00,271.82 L312.50,271.83 L313.00,271.85 L313.50,271.86 L314.00,271.88 L314.50,271.89 L315.00,271.91 L315.50,271.92 L316.00,271.93 L316.50,271.95 L317.00,271.96 L317.50,271.97 L318.00,271.98 L318.50,271.99 L319.00,272.00 L319.50,272.01 L320.00,272.03 L320.50,272.03 L321.00,272.04 L321.50,272.05 L322.00,272.06 L322.50,272.07 L323.00,272.08 L323.50,272.09 L324.00,272.10 L324.50,272.10 L325.00,272.11 L325.50,272.12 L326.00,272.12 L326.50,272.13 L327.00,272.14 L327.50,272.14 L328.00,272.15 L328.50,272.16 L329.00,272.16 L329.50,272.17 L330.00,272.17" fill="none" stroke="#bcbcbc" stroke-width="2.2" stroke-dasharray="8 9" stroke-dashoffset="13.7"/>
<g transform="translate(0,0)">
<line x1="218" y1="34.2" x2="240.6" y2="34.2" stroke="#1cb0a2" stroke-width="2.4"/>
<line x1="218" y1="47.0" x2="240.6" y2="47.0" stroke="#0e6a92" stroke-width="2.4"/>
<line x1="218" y1="59.2" x2="240.6" y2="59.2" stroke="#bcbcbc" stroke-width="2.4" stroke-dasharray="8.2 9.4"/>
<text x="245.5" y="37.8" class="tk">solitary</text>
<text x="245.5" y="49.9" class="tk">social</text>
<text x="245.5" y="62" class="tk">contrast</text>
</g>
</g>
<g transform="translate(360.5,0)">
<text x="-3.2" y="11.9" class="it">(b<tspan dx="0">)</tspan></text>
<line x1="60.5" y1="21.7" x2="60.5" y2="272.3" class="ax"/>
<line x1="54.3" y1="272.30" x2="60.5" y2="272.30" class="ax"/>
<text x="50" y="277.20" class="tk" text-anchor="end">0</text>
<line x1="54.3" y1="209.65" x2="60.5" y2="209.65" class="ax"/>
<text x="50" y="214.55" class="tk" text-anchor="end">0.25</text>
<line x1="54.3" y1="147.00" x2="60.5" y2="147.00" class="ax"/>
<text x="50" y="151.90" class="tk" text-anchor="end">0.50</text>
<line x1="54.3" y1="84.35" x2="60.5" y2="84.35" class="ax"/>
<text x="50" y="89.25" class="tk" text-anchor="end">0.75</text>
<line x1="54.3" y1="21.70" x2="60.5" y2="21.70" class="ax"/>
<text x="50" y="26.60" class="tk" text-anchor="end">1.00</text>
<line x1="84.10" y1="282.6" x2="306.50" y2="282.6" class="ax"/>
<line x1="84.10" y1="282.6" x2="84.10" y2="288.40000000000003" class="ax"/>
<text x="84.10" y="304.3" class="tk" text-anchor="middle">–4</text>
<line x1="139.70" y1="282.6" x2="139.70" y2="288.40000000000003" class="ax"/>
<text x="139.70" y="304.3" class="tk" text-anchor="middle">–2</text>
<line x1="195.30" y1="282.6" x2="195.30" y2="288.40000000000003" class="ax"/>
<text x="195.30" y="304.3" class="tk" text-anchor="middle">0</text>
<line x1="250.90" y1="282.6" x2="250.90" y2="288.40000000000003" class="ax"/>
<text x="250.90" y="304.3" class="tk" text-anchor="middle">2</text>
<line x1="306.50" y1="282.6" x2="306.50" y2="288.40000000000003" class="ax"/>
<text x="306.50" y="304.3" class="tk" text-anchor="middle">4</text>
<text x="195.5" y="322.1" class="tk" text-anchor="middle">estimate of longevity (standardized)</text>
<text transform="translate(9.8,147.2) rotate(-90)" class="tk" text-anchor="middle">density</text>
<line x1="60.5" y1="272.3" x2="332" y2="272.3" stroke="#efefef" stroke-width="1"/>
<path d="M84.50,272.29 L85.00,272.29 L85.50,272.29 L86.00,272.29 L86.50,272.29 L87.00,272.29 L87.50,272.29 L88.00,272.29 L88.50,272.29 L89.00,272.29 L89.50,272.28 L90.00,272.28 L90.50,272.28 L91.00,272.28 L91.50,272.28 L92.00,272.28 L92.50,272.28 L93.00,272.28 L93.50,272.27 L94.00,272.27 L94.50,272.27 L95.00,272.27 L95.50,272.27 L96.00,272.27 L96.50,272.26 L97.00,272.26 L97.50,272.26 L98.00,272.26 L98.50,272.25 L99.00,272.25 L99.50,272.25 L100.00,272.24 L100.50,272.24 L101.00,272.24 L101.50,272.23 L102.00,272.23 L102.50,272.22 L103.00,272.22 L103.50,272.22 L104.00,272.21 L104.50,272.21 L105.00,272.20 L105.50,272.19 L106.00,272.19 L106.50,272.18 L107.00,272.18 L107.50,272.17 L108.00,272.16 L108.50,272.15 L109.00,272.14 L109.50,272.14 L110.00,272.13 L110.50,272.12 L111.00,272.11 L111.50,272.10 L112.00,272.09 L112.50,272.08 L113.00,272.06 L113.50,272.05 L114.00,272.04 L114.50,272.03 L115.00,272.01 L115.50,272.00 L116.00,271.98 L116.50,271.97 L117.00,271.95 L117.50,271.93 L118.00,271.91 L118.50,271.89 L119.00,271.87 L119.50,271.85 L120.00,271.83 L120.50,271.81 L121.00,271.79 L121.50,271.76 L122.00,271.74 L122.50,271.71 L123.00,271.68 L123.50,271.66 L124.00,271.63 L124.50,271.60 L125.00,271.57 L125.50,271.53 L126.00,271.50 L126.50,271.46 L127.00,271.43 L127.50,271.39 L128.00,271.35 L128.50,271.31 L129.00,271.27 L129.50,271.22 L130.00,271.18 L130.50,271.13 L131.00,271.08 L131.50,271.03 L132.00,270.98 L132.50,270.93 L133.00,270.87 L133.50,270.82 L134.00,270.76 L134.50,270.70 L135.00,270.64 L135.50,270.57 L136.00,270.50 L136.50,270.44 L137.00,270.37 L137.50,270.29 L138.00,270.22 L138.50,270.14 L139.00,270.06 L139.50,269.98 L140.00,269.89 L140.50,269.80 L141.00,269.71 L141.50,269.62 L142.00,269.53 L142.50,269.43 L143.00,269.33 L143.50,269.22 L144.00,269.11 L144.50,269.00 L145.00,268.89 L145.50,268.77 L146.00,268.64 L146.50,268.52 L147.00,268.39 L147.50,268.25 L148.00,268.11 L148.50,267.97 L149.00,267.82 L149.50,267.66 L150.00,267.50 L150.50,267.34 L151.00,267.16 L151.50,266.99 L152.00,266.80 L152.50,266.61 L153.00,266.41 L153.50,266.20 L154.00,265.98 L154.50,265.76 L155.00,265.52 L155.50,265.28 L156.00,265.02 L156.50,264.75 L157.00,264.47 L157.50,264.18 L158.00,263.87 L158.50,263.55 L159.00,263.22 L159.50,262.86 L160.00,262.49 L160.50,262.11 L161.00,261.70 L161.50,261.27 L162.00,260.82 L162.50,260.35 L163.00,259.86 L163.50,259.34 L164.00,258.79 L164.50,258.21 L165.00,257.60 L165.50,256.96 L166.00,256.29 L166.50,255.58 L167.00,254.83 L167.50,254.04 L168.00,253.20 L168.50,252.32 L169.00,251.38 L169.50,250.38 L170.00,249.30 L170.50,248.14 L171.00,246.86 L171.50,245.45 L172.00,243.89 L172.50,242.18 L173.00,240.31 L173.50,238.30 L174.00,236.18 L174.50,234.02 L175.00,231.86 L175.50,229.77 L176.00,227.78 L176.50,225.92 L177.00,224.16 L177.50,222.48 L178.00,220.80 L178.50,219.07 L179.00,217.22 L179.50,215.21 L180.00,213.01 L180.50,210.62 L181.00,208.03 L181.50,205.27 L182.00,202.35 L182.50,199.28 L183.00,196.07 L183.50,192.73 L184.00,189.25 L184.50,185.60 L185.00,181.75 L185.50,177.68 L186.00,173.34 L186.50,168.72 L187.00,163.84 L187.50,158.78 L188.00,153.66 L188.50,148.66 L189.00,143.93 L189.50,139.63 L190.00,135.81 L190.50,132.46 L191.00,129.49 L191.50,126.74 L192.00,124.09 L192.50,121.39 L193.00,118.60 L193.50,115.71 L194.00,112.73 L194.50,109.72 L195.00,106.74 L195.50,103.85 L196.00,101.08 L196.50,98.48 L197.00,96.07 L197.50,93.86 L198.00,91.88 L198.50,90.13 L199.00,88.62 L199.50,87.36 L200.00,86.36 L200.50,85.62 L201.00,85.14 L201.50,84.92 L202.00,84.98 L202.50,85.29 L203.00,85.87 L203.50,86.71 L204.00,87.81 L204.50,89.15 L205.00,90.74 L205.50,92.56 L206.00,94.60 L206.50,96.85 L207.00,99.31 L207.50,101.95 L208.00,104.78 L208.50,107.76 L209.00,110.90 L209.50,114.17 L210.00,117.56 L210.50,121.07 L211.00,124.66 L211.50,128.34 L212.00,132.08 L212.50,135.88 L213.00,139.71 L213.50,143.57 L214.00,147.45 L214.50,151.32 L215.00,155.19 L215.50,159.05 L216.00,162.87 L216.50,166.66 L217.00,170.40 L217.50,174.10 L218.00,177.73 L218.50,181.30 L219.00,184.79 L219.50,188.22 L220.00,191.56 L220.50,194.82 L221.00,198.00 L221.50,201.09 L222.00,204.10 L222.50,207.01 L223.00,209.83 L223.50,212.56 L224.00,215.20 L224.50,217.75 L225.00,220.21 L225.50,222.59 L226.00,224.87 L226.50,227.07 L227.00,229.18 L227.50,231.21 L228.00,233.16 L228.50,235.03 L229.00,236.82 L229.50,238.54 L230.00,240.18 L230.50,241.76 L231.00,243.26 L231.50,244.70 L232.00,246.08 L232.50,247.39 L233.00,248.64 L233.50,249.83 L234.00,250.97 L234.50,252.06 L235.00,253.09 L235.50,254.07 L236.00,255.01 L236.50,255.89 L237.00,256.74 L237.50,257.54 L238.00,258.31 L238.50,259.03 L239.00,259.72 L239.50,260.37 L240.00,260.98 L240.50,261.57 L241.00,262.12 L241.50,262.65 L242.00,263.15 L242.50,263.62 L243.00,264.06 L243.50,264.48 L244.00,264.88 L244.50,265.26 L245.00,265.61 L245.50,265.95 L246.00,266.27 L246.50,266.57 L247.00,266.85 L247.50,267.12 L248.00,267.38 L248.50,267.62 L249.00,267.85 L249.50,268.06 L250.00,268.26 L250.50,268.46 L251.00,268.64 L251.50,268.81 L252.00,268.97 L252.50,269.13 L253.00,269.28 L253.50,269.42 L254.00,269.55 L254.50,269.67 L255.00,269.79 L255.50,269.90 L256.00,270.01 L256.50,270.11 L257.00,270.21 L257.50,270.30 L258.00,270.39 L258.50,270.48 L259.00,270.56 L259.50,270.63 L260.00,270.70 L260.50,270.77 L261.00,270.84 L261.50,270.90 L262.00,270.96 L262.50,271.02 L263.00,271.08 L263.50,271.13 L264.00,271.18 L264.50,271.23 L265.00,271.28 L265.50,271.32 L266.00,271.36 L266.50,271.41 L267.00,271.45 L267.50,271.48 L268.00,271.52 L268.50,271.55 L269.00,271.59 L269.50,271.62 L270.00,271.65 L270.50,271.68 L271.00,271.71 L271.50,271.73 L272.00,271.76 L272.50,271.78 L273.00,271.81 L273.50,271.83 L274.00,271.85 L274.50,271.87 L275.00,271.89 L275.50,271.91 L276.00,271.93 L276.50,271.95 L277.00,271.97 L277.50,271.98 L278.00,272.00 L278.50,272.01 L279.00,272.03 L279.50,272.04 L280.00,272.05 L280.50,272.06 L281.00,272.08 L281.50,272.09 L282.00,272.10 L282.50,272.11 L283.00,272.12 L283.50,272.13 L284.00,272.14 L284.50,272.15 L285.00,272.15 L285.50,272.16 L286.00,272.17 L286.50,272.18 L287.00,272.18 L287.50,272.19 L288.00,272.19 L288.50,272.20 L289.00,272.21 L289.50,272.21 L290.00,272.22 L290.50,272.22 L291.00,272.22 L291.50,272.23 L291.50,272.30 L84.50,272.30 Z" fill="#1a6e96" fill-opacity="0.6" stroke="none"/>
<path d="M84.50,272.29 L85.00,272.29 L85.50,272.29 L86.00,272.29 L86.50,272.29 L87.00,272.29 L87.50,272.29 L88.00,272.29 L88.50,272.29 L89.00,272.29 L89.50,272.28 L90.00,272.28 L90.50,272.28 L91.00,272.28 L91.50,272.28 L92.00,272.28 L92.50,272.28 L93.00,272.28 L93.50,272.27 L94.00,272.27 L94.50,272.27 L95.00,272.27 L95.50,272.27 L96.00,272.27 L96.50,272.26 L97.00,272.26 L97.50,272.26 L98.00,272.26 L98.50,272.25 L99.00,272.25 L99.50,272.25 L100.00,272.24 L100.50,272.24 L101.00,272.24 L101.50,272.23 L102.00,272.23 L102.50,272.22 L103.00,272.22 L103.50,272.22 L104.00,272.21 L104.50,272.21 L105.00,272.20 L105.50,272.19 L106.00,272.19 L106.50,272.18 L107.00,272.18 L107.50,272.17 L108.00,272.16 L108.50,272.15 L109.00,272.14 L109.50,272.14 L110.00,272.13 L110.50,272.12 L111.00,272.11 L111.50,272.10 L112.00,272.09 L112.50,272.08 L113.00,272.06 L113.50,272.05 L114.00,272.04 L114.50,272.03 L115.00,272.01 L115.50,272.00 L116.00,271.98 L116.50,271.97 L117.00,271.95 L117.50,271.93 L118.00,271.91 L118.50,271.89 L119.00,271.87 L119.50,271.85 L120.00,271.83 L120.50,271.81 L121.00,271.79 L121.50,271.76 L122.00,271.74 L122.50,271.71 L123.00,271.68 L123.50,271.66 L124.00,271.63 L124.50,271.60 L125.00,271.57 L125.50,271.53 L126.00,271.50 L126.50,271.46 L127.00,271.43 L127.50,271.39 L128.00,271.35 L128.50,271.31 L129.00,271.27 L129.50,271.22 L130.00,271.18 L130.50,271.13 L131.00,271.08 L131.50,271.03 L132.00,270.98 L132.50,270.93 L133.00,270.87 L133.50,270.82 L134.00,270.76 L134.50,270.70 L135.00,270.64 L135.50,270.57 L136.00,270.50 L136.50,270.44 L137.00,270.37 L137.50,270.29 L138.00,270.22 L138.50,270.14 L139.00,270.06 L139.50,269.98 L140.00,269.89 L140.50,269.80 L141.00,269.71 L141.50,269.62 L142.00,269.53 L142.50,269.43 L143.00,269.33 L143.50,269.22 L144.00,269.11 L144.50,269.00 L145.00,268.89 L145.50,268.77 L146.00,268.64 L146.50,268.52 L147.00,268.39 L147.50,268.25 L148.00,268.11 L148.50,267.97 L149.00,267.82 L149.50,267.66 L150.00,267.50 L150.50,267.34 L151.00,267.16 L151.50,266.99 L152.00,266.80 L152.50,266.61 L153.00,266.41 L153.50,266.20 L154.00,265.98 L154.50,265.76 L155.00,265.52 L155.50,265.28 L156.00,265.02 L156.50,264.75 L157.00,264.47 L157.50,264.18 L158.00,263.87 L158.50,263.55 L159.00,263.22 L159.50,262.86 L160.00,262.49 L160.50,262.11 L161.00,261.70 L161.50,261.27 L162.00,260.82 L162.50,260.35 L163.00,259.86 L163.50,259.34 L164.00,258.79 L164.50,258.21 L165.00,257.60 L165.50,256.96 L166.00,256.29 L166.50,255.58 L167.00,254.83 L167.50,254.04 L168.00,253.20 L168.50,252.32 L169.00,251.38 L169.50,250.38 L170.00,249.30 L170.50,248.14 L171.00,246.86 L171.50,245.45 L172.00,243.89 L172.50,242.18 L173.00,240.31 L173.50,238.30 L174.00,236.18 L174.50,234.02 L175.00,231.86 L175.50,229.77 L176.00,227.78 L176.50,225.92 L177.00,224.16 L177.50,222.48 L178.00,220.80 L178.50,219.07 L179.00,217.22 L179.50,215.21 L180.00,213.01 L180.50,210.62 L181.00,208.03 L181.50,205.27 L182.00,202.35 L182.50,199.28 L183.00,196.07 L183.50,192.73 L184.00,189.25 L184.50,185.60 L185.00,181.75 L185.50,177.68 L186.00,173.34 L186.50,168.72 L187.00,163.84 L187.50,158.78 L188.00,153.66 L188.50,148.66 L189.00,143.93 L189.50,139.63 L190.00,135.81 L190.50,132.46 L191.00,129.49 L191.50,126.74 L192.00,124.09 L192.50,121.39 L193.00,118.60 L193.50,115.71 L194.00,112.73 L194.50,109.72 L195.00,106.74 L195.50,103.85 L196.00,101.08 L196.50,98.48 L197.00,96.07 L197.50,93.86 L198.00,91.88 L198.50,90.13 L199.00,88.62 L199.50,87.36 L200.00,86.36 L200.50,85.62 L201.00,85.14 L201.50,84.92 L202.00,84.98 L202.50,85.29 L203.00,85.87 L203.50,86.71 L204.00,87.81 L204.50,89.15 L205.00,90.74 L205.50,92.56 L206.00,94.60 L206.50,96.85 L207.00,99.31 L207.50,101.95 L208.00,104.78 L208.50,107.76 L209.00,110.90 L209.50,114.17 L210.00,117.56 L210.50,121.07 L211.00,124.66 L211.50,128.34 L212.00,132.08 L212.50,135.88 L213.00,139.71 L213.50,143.57 L214.00,147.45 L214.50,151.32 L215.00,155.19 L215.50,159.05 L216.00,162.87 L216.50,166.66 L217.00,170.40 L217.50,174.10 L218.00,177.73 L218.50,181.30 L219.00,184.79 L219.50,188.22 L220.00,191.56 L220.50,194.82 L221.00,198.00 L221.50,201.09 L222.00,204.10 L222.50,207.01 L223.00,209.83 L223.50,212.56 L224.00,215.20 L224.50,217.75 L225.00,220.21 L225.50,222.59 L226.00,224.87 L226.50,227.07 L227.00,229.18 L227.50,231.21 L228.00,233.16 L228.50,235.03 L229.00,236.82 L229.50,238.54 L230.00,240.18 L230.50,241.76 L231.00,243.26 L231.50,244.70 L232.00,246.08 L232.50,247.39 L233.00,248.64 L233.50,249.83 L234.00,250.97 L234.50,252.06 L235.00,253.09 L235.50,254.07 L236.00,255.01 L236.50,255.89 L237.00,256.74 L237.50,257.54 L238.00,258.31 L238.50,259.03 L239.00,259.72 L239.50,260.37 L240.00,260.98 L240.50,261.57 L241.00,262.12 L241.50,262.65 L242.00,263.15 L242.50,263.62 L243.00,264.06 L243.50,264.48 L244.00,264.88 L244.50,265.26 L245.00,265.61 L245.50,265.95 L246.00,266.27 L246.50,266.57 L247.00,266.85 L247.50,267.12 L248.00,267.38 L248.50,267.62 L249.00,267.85 L249.50,268.06 L250.00,268.26 L250.50,268.46 L251.00,268.64 L251.50,268.81 L252.00,268.97 L252.50,269.13 L253.00,269.28 L253.50,269.42 L254.00,269.55 L254.50,269.67 L255.00,269.79 L255.50,269.90 L256.00,270.01 L256.50,270.11 L257.00,270.21 L257.50,270.30 L258.00,270.39 L258.50,270.48 L259.00,270.56 L259.50,270.63 L260.00,270.70 L260.50,270.77 L261.00,270.84 L261.50,270.90 L262.00,270.96 L262.50,271.02 L263.00,271.08 L263.50,271.13 L264.00,271.18 L264.50,271.23 L265.00,271.28 L265.50,271.32 L266.00,271.36 L266.50,271.41 L267.00,271.45 L267.50,271.48 L268.00,271.52 L268.50,271.55 L269.00,271.59 L269.50,271.62 L270.00,271.65 L270.50,271.68 L271.00,271.71 L271.50,271.73 L272.00,271.76 L272.50,271.78 L273.00,271.81 L273.50,271.83 L274.00,271.85 L274.50,271.87 L275.00,271.89 L275.50,271.91 L276.00,271.93 L276.50,271.95 L277.00,271.97 L277.50,271.98 L278.00,272.00 L278.50,272.01 L279.00,272.03 L279.50,272.04 L280.00,272.05 L280.50,272.06 L281.00,272.08 L281.50,272.09 L282.00,272.10 L282.50,272.11 L283.00,272.12 L283.50,272.13 L284.00,272.14 L284.50,272.15 L285.00,272.15 L285.50,272.16 L286.00,272.17 L286.50,272.18 L287.00,272.18 L287.50,272.19 L288.00,272.19 L288.50,272.20 L289.00,272.21 L289.50,272.21 L290.00,272.22 L290.50,272.22 L291.00,272.22 L291.50,272.23" fill="none" stroke="#0e6a92" stroke-width="2.3"/>
<path d="M67.50,272.30 L68.00,272.30 L68.50,272.30 L69.00,272.30 L69.50,272.30 L70.00,272.30 L70.50,272.30 L71.00,272.30 L71.50,272.30 L72.00,272.30 L72.50,272.30 L73.00,272.30 L73.50,272.30 L74.00,272.30 L74.50,272.29 L75.00,272.29 L75.50,272.29 L76.00,272.29 L76.50,272.29 L77.00,272.29 L77.50,272.29 L78.00,272.29 L78.50,272.29 L79.00,272.29 L79.50,272.29 L80.00,272.29 L80.50,272.29 L81.00,272.29 L81.50,272.28 L82.00,272.28 L82.50,272.28 L83.00,272.28 L83.50,272.28 L84.00,272.28 L84.50,272.28 L85.00,272.28 L85.50,272.27 L86.00,272.27 L86.50,272.27 L87.00,272.27 L87.50,272.26 L88.00,272.26 L88.50,272.26 L89.00,272.26 L89.50,272.25 L90.00,272.25 L90.50,272.25 L91.00,272.24 L91.50,272.24 L92.00,272.24 L92.50,272.23 L93.00,272.23 L93.50,272.22 L94.00,272.22 L94.50,272.21 L95.00,272.20 L95.50,272.20 L96.00,272.19 L96.50,272.18 L97.00,272.18 L97.50,272.17 L98.00,272.16 L98.50,272.15 L99.00,272.14 L99.50,272.13 L100.00,272.12 L100.50,272.11 L101.00,272.10 L101.50,272.09 L102.00,272.08 L102.50,272.06 L103.00,272.05 L103.50,272.03 L104.00,272.02 L104.50,272.00 L105.00,271.98 L105.50,271.96 L106.00,271.95 L106.50,271.92 L107.00,271.90 L107.50,271.88 L108.00,271.86 L108.50,271.83 L109.00,271.81 L109.50,271.78 L110.00,271.75 L110.50,271.72 L111.00,271.69 L111.50,271.66 L112.00,271.62 L112.50,271.59 L113.00,271.55 L113.50,271.51 L114.00,271.47 L114.50,271.43 L115.00,271.38 L115.50,271.34 L116.00,271.29 L116.50,271.24 L117.00,271.19 L117.50,271.13 L118.00,271.08 L118.50,271.02 L119.00,270.95 L119.50,270.89 L120.00,270.82 L120.50,270.75 L121.00,270.68 L121.50,270.61 L122.00,270.53 L122.50,270.45 L123.00,270.37 L123.50,270.28 L124.00,270.19 L124.50,270.10 L125.00,270.00 L125.50,269.90 L126.00,269.80 L126.50,269.69 L127.00,269.58 L127.50,269.46 L128.00,269.35 L128.50,269.22 L129.00,269.10 L129.50,268.97 L130.00,268.83 L130.50,268.69 L131.00,268.55 L131.50,268.40 L132.00,268.24 L132.50,268.09 L133.00,267.92 L133.50,267.75 L134.00,267.58 L134.50,267.39 L135.00,267.21 L135.50,267.01 L136.00,266.81 L136.50,266.60 L137.00,266.39 L137.50,266.17 L138.00,265.93 L138.50,265.69 L139.00,265.45 L139.50,265.19 L140.00,264.92 L140.50,264.64 L141.00,264.35 L141.50,264.04 L142.00,263.72 L142.50,263.39 L143.00,263.04 L143.50,262.68 L144.00,262.29 L144.50,261.89 L145.00,261.47 L145.50,261.03 L146.00,260.56 L146.50,260.07 L147.00,259.55 L147.50,259.00 L148.00,258.42 L148.50,257.81 L149.00,257.16 L149.50,256.48 L150.00,255.75 L150.50,254.98 L151.00,254.17 L151.50,253.30 L152.00,252.39 L152.50,251.42 L153.00,250.40 L153.50,249.31 L154.00,248.16 L154.50,246.95 L155.00,245.67 L155.50,244.31 L156.00,242.88 L156.50,241.37 L157.00,239.79 L157.50,238.11 L158.00,236.36 L158.50,234.51 L159.00,232.58 L159.50,230.55 L160.00,228.43 L160.50,226.21 L161.00,223.90 L161.50,221.50 L162.00,219.00 L162.50,216.40 L163.00,213.71 L163.50,210.93 L164.00,208.06 L164.50,205.10 L165.00,202.05 L165.50,198.92 L166.00,195.72 L166.50,192.45 L167.00,189.10 L167.50,185.70 L168.00,182.25 L168.50,178.74 L169.00,175.20 L169.50,171.63 L170.00,168.04 L170.50,164.43 L171.00,160.82 L171.50,157.22 L172.00,153.63 L172.50,150.07 L173.00,146.55 L173.50,143.08 L174.00,139.66 L174.50,136.32 L175.00,133.06 L175.50,129.89 L176.00,126.82 L176.50,123.85 L177.00,121.01 L177.50,118.30 L178.00,115.73 L178.50,113.30 L179.00,111.01 L179.50,108.88 L180.00,106.89 L180.50,105.05 L181.00,103.33 L181.50,101.72 L182.00,100.19 L182.50,98.72 L183.00,97.29 L183.50,95.91 L184.00,94.60 L184.50,93.42 L185.00,92.45 L185.50,91.78 L186.00,91.51 L186.50,91.71 L187.00,92.40 L187.50,93.55 L188.00,95.09 L188.50,96.93 L189.00,98.97 L189.50,101.10 L190.00,103.27 L190.50,105.43 L191.00,107.58 L191.50,109.72 L192.00,111.88 L192.50,114.08 L193.00,116.33 L193.50,118.65 L194.00,121.04 L194.50,123.52 L195.00,126.08 L195.50,128.71 L196.00,131.42 L196.50,134.19 L197.00,137.04 L197.50,139.94 L198.00,142.90 L198.50,145.90 L199.00,148.96 L199.50,152.05 L200.00,155.18 L200.50,158.34 L201.00,161.53 L201.50,164.73 L202.00,167.95 L202.50,171.18 L203.00,174.40 L203.50,177.63 L204.00,180.84 L204.50,184.04 L205.00,187.22 L205.50,190.37 L206.00,193.48 L206.50,196.55 L207.00,199.58 L207.50,202.55 L208.00,205.46 L208.50,208.31 L209.00,211.08 L209.50,213.78 L210.00,216.40 L210.50,218.94 L211.00,221.38 L211.50,223.73 L212.00,225.98 L212.50,228.14 L213.00,230.19 L213.50,232.14 L214.00,234.00 L214.50,235.75 L215.00,237.41 L215.50,238.97 L216.00,240.45 L216.50,241.84 L217.00,243.16 L217.50,244.40 L218.00,245.57 L218.50,246.69 L219.00,247.76 L219.50,248.78 L220.00,249.76 L220.50,250.70 L221.00,251.62 L221.50,252.51 L222.00,253.37 L222.50,254.22 L223.00,255.04 L223.50,255.85 L224.00,256.63 L224.50,257.38 L225.00,258.12 L225.50,258.83 L226.00,259.51 L226.50,260.16 L227.00,260.78 L227.50,261.37 L228.00,261.92 L228.50,262.45 L229.00,262.94 L229.50,263.40 L230.00,263.83 L230.50,264.23 L231.00,264.60 L231.50,264.95 L232.00,265.28 L232.50,265.58 L233.00,265.87 L233.50,266.13 L234.00,266.38 L234.50,266.62 L235.00,266.84 L235.50,267.06 L236.00,267.26 L236.50,267.45 L237.00,267.64 L237.50,267.81 L238.00,267.98 L238.50,268.15 L239.00,268.31 L239.50,268.46 L240.00,268.61 L240.50,268.75 L241.00,268.89 L241.50,269.02 L242.00,269.15 L242.50,269.27 L243.00,269.39 L243.50,269.51 L244.00,269.62 L244.50,269.73 L245.00,269.84 L245.50,269.94 L246.00,270.04 L246.50,270.13 L247.00,270.22 L247.50,270.31 L248.00,270.40 L248.50,270.48 L249.00,270.56 L249.50,270.64 L250.00,270.71 L250.50,270.78 L251.00,270.85 L251.50,270.91 L252.00,270.98 L252.50,271.04 L253.00,271.10 L253.50,271.15 L254.00,271.21 L254.50,271.26 L255.00,271.31 L255.50,271.35 L256.00,271.40 L256.50,271.44 L257.00,271.49 L257.50,271.53 L258.00,271.56 L258.50,271.60 L259.00,271.64 L259.50,271.67 L260.00,271.70 L260.50,271.73 L261.00,271.76 L261.50,271.79 L262.00,271.82 L262.50,271.84 L263.00,271.87 L263.50,271.89 L264.00,271.91 L264.50,271.93 L265.00,271.95 L265.50,271.97 L266.00,271.99 L266.50,272.01 L267.00,272.02 L267.50,272.04 L268.00,272.05 L268.50,272.07 L269.00,272.08 L269.50,272.09 L270.00,272.10 L270.50,272.12 L271.00,272.13 L271.50,272.14 L272.00,272.15 L272.50,272.16 L273.00,272.16 L273.50,272.17 L274.00,272.18 L274.50,272.19 L275.00,272.19 L275.50,272.20 L276.00,272.21 L276.50,272.21 L277.00,272.22 L277.50,272.22 L278.00,272.23 L278.50,272.23 L279.00,272.24 L279.50,272.24 L280.00,272.24 L280.50,272.25 L281.00,272.25 L281.50,272.25 L282.00,272.26 L282.50,272.26 L283.00,272.26 L283.50,272.27 L284.00,272.27 L284.50,272.27 L285.00,272.27 L285.50,272.27 L286.00,272.28 L286.50,272.28 L287.00,272.28 L287.50,272.28 L288.00,272.28 L288.50,272.28 L289.00,272.28 L289.50,272.29 L290.00,272.29 L290.50,272.29 L291.00,272.29 L291.50,272.29 L292.00,272.29 L292.50,272.29 L293.00,272.29 L293.50,272.29 L294.00,272.29 L294.50,272.29 L295.00,272.29 L295.50,272.29 L296.00,272.29 L296.50,272.29 L297.00,272.30 L297.50,272.30 L298.00,272.30 L298.50,272.30 L299.00,272.30 L299.50,272.30 L300.00,272.30 L300.50,272.30 L301.00,272.30 L301.50,272.30 L302.00,272.30 L302.50,272.30 L303.00,272.30 L303.50,272.30 L304.00,272.30 L304.50,272.30 L305.00,272.30 L305.50,272.30 L306.00,272.30 L306.50,272.30 L307.00,272.30 L307.50,272.30 L307.50,272.30 L67.50,272.30 Z" fill="#20b2aa" fill-opacity="0.55" stroke="none"/>
<path d="M67.50,272.30 L68.00,272.30 L68.50,272.30 L69.00,272.30 L69.50,272.30 L70.00,272.30 L70.50,272.30 L71.00,272.30 L71.50,272.30 L72.00,272.30 L72.50,272.30 L73.00,272.30 L73.50,272.30 L74.00,272.30 L74.50,272.29 L75.00,272.29 L75.50,272.29 L76.00,272.29 L76.50,272.29 L77.00,272.29 L77.50,272.29 L78.00,272.29 L78.50,272.29 L79.00,272.29 L79.50,272.29 L80.00,272.29 L80.50,272.29 L81.00,272.29 L81.50,272.28 L82.00,272.28 L82.50,272.28 L83.00,272.28 L83.50,272.28 L84.00,272.28 L84.50,272.28 L85.00,272.28 L85.50,272.27 L86.00,272.27 L86.50,272.27 L87.00,272.27 L87.50,272.26 L88.00,272.26 L88.50,272.26 L89.00,272.26 L89.50,272.25 L90.00,272.25 L90.50,272.25 L91.00,272.24 L91.50,272.24 L92.00,272.24 L92.50,272.23 L93.00,272.23 L93.50,272.22 L94.00,272.22 L94.50,272.21 L95.00,272.20 L95.50,272.20 L96.00,272.19 L96.50,272.18 L97.00,272.18 L97.50,272.17 L98.00,272.16 L98.50,272.15 L99.00,272.14 L99.50,272.13 L100.00,272.12 L100.50,272.11 L101.00,272.10 L101.50,272.09 L102.00,272.08 L102.50,272.06 L103.00,272.05 L103.50,272.03 L104.00,272.02 L104.50,272.00 L105.00,271.98 L105.50,271.96 L106.00,271.95 L106.50,271.92 L107.00,271.90 L107.50,271.88 L108.00,271.86 L108.50,271.83 L109.00,271.81 L109.50,271.78 L110.00,271.75 L110.50,271.72 L111.00,271.69 L111.50,271.66 L112.00,271.62 L112.50,271.59 L113.00,271.55 L113.50,271.51 L114.00,271.47 L114.50,271.43 L115.00,271.38 L115.50,271.34 L116.00,271.29 L116.50,271.24 L117.00,271.19 L117.50,271.13 L118.00,271.08 L118.50,271.02 L119.00,270.95 L119.50,270.89 L120.00,270.82 L120.50,270.75 L121.00,270.68 L121.50,270.61 L122.00,270.53 L122.50,270.45 L123.00,270.37 L123.50,270.28 L124.00,270.19 L124.50,270.10 L125.00,270.00 L125.50,269.90 L126.00,269.80 L126.50,269.69 L127.00,269.58 L127.50,269.46 L128.00,269.35 L128.50,269.22 L129.00,269.10 L129.50,268.97 L130.00,268.83 L130.50,268.69 L131.00,268.55 L131.50,268.40 L132.00,268.24 L132.50,268.09 L133.00,267.92 L133.50,267.75 L134.00,267.58 L134.50,267.39 L135.00,267.21 L135.50,267.01 L136.00,266.81 L136.50,266.60 L137.00,266.39 L137.50,266.17 L138.00,265.93 L138.50,265.69 L139.00,265.45 L139.50,265.19 L140.00,264.92 L140.50,264.64 L141.00,264.35 L141.50,264.04 L142.00,263.72 L142.50,263.39 L143.00,263.04 L143.50,262.68 L144.00,262.29 L144.50,261.89 L145.00,261.47 L145.50,261.03 L146.00,260.56 L146.50,260.07 L147.00,259.55 L147.50,259.00 L148.00,258.42 L148.50,257.81 L149.00,257.16 L149.50,256.48 L150.00,255.75 L150.50,254.98 L151.00,254.17 L151.50,253.30 L152.00,252.39 L152.50,251.42 L153.00,250.40 L153.50,249.31 L154.00,248.16 L154.50,246.95 L155.00,245.67 L155.50,244.31 L156.00,242.88 L156.50,241.37 L157.00,239.79 L157.50,238.11 L158.00,236.36 L158.50,234.51 L159.00,232.58 L159.50,230.55 L160.00,228.43 L160.50,226.21 L161.00,223.90 L161.50,221.50 L162.00,219.00 L162.50,216.40 L163.00,213.71 L163.50,210.93 L164.00,208.06 L164.50,205.10 L165.00,202.05 L165.50,198.92 L166.00,195.72 L166.50,192.45 L167.00,189.10 L167.50,185.70 L168.00,182.25 L168.50,178.74 L169.00,175.20 L169.50,171.63 L170.00,168.04 L170.50,164.43 L171.00,160.82 L171.50,157.22 L172.00,153.63 L172.50,150.07 L173.00,146.55 L173.50,143.08 L174.00,139.66 L174.50,136.32 L175.00,133.06 L175.50,129.89 L176.00,126.82 L176.50,123.85 L177.00,121.01 L177.50,118.30 L178.00,115.73 L178.50,113.30 L179.00,111.01 L179.50,108.88 L180.00,106.89 L180.50,105.05 L181.00,103.33 L181.50,101.72 L182.00,100.19 L182.50,98.72 L183.00,97.29 L183.50,95.91 L184.00,94.60 L184.50,93.42 L185.00,92.45 L185.50,91.78 L186.00,91.51 L186.50,91.71 L187.00,92.40 L187.50,93.55 L188.00,95.09 L188.50,96.93 L189.00,98.97 L189.50,101.10 L190.00,103.27 L190.50,105.43 L191.00,107.58 L191.50,109.72 L192.00,111.88 L192.50,114.08 L193.00,116.33" fill="none" stroke="#1cb0a2" stroke-width="2.3"/>
<path d="M192.70,114.97 L193.20,117.25 L193.70,119.60 L194.20,122.02 L194.70,124.53 L195.20,127.12 L195.70,129.78 L196.20,132.52 L196.70,135.32 L197.20,138.19 L197.70,141.12 L198.20,144.09 L198.70,147.12 L199.20,150.19 L199.70,153.30 L200.20,156.44 L200.70,159.61 L201.20,162.81 L201.70,166.02 L202.20,169.24 L202.70,172.47 L203.20,175.69 L203.70,178.92 L204.20,182.12 L204.70,185.31 L205.20,188.48 L205.70,191.61 L206.20,194.71 L206.70,197.77 L207.20,200.77 L207.70,203.72 L208.20,206.61 L208.70,209.43 L209.20,212.17 L209.70,214.84 L210.20,217.43 L210.70,219.92 L211.20,222.33 L211.70,224.64 L212.20,226.86 L212.70,228.97 L213.20,230.98 L213.70,232.90 L214.20,234.71 L214.70,236.43 L215.20,238.05 L215.70,239.58 L216.20,241.02 L216.70,242.38 L217.20,243.66 L217.70,244.87 L218.20,246.03 L218.70,247.12 L219.20,248.17 L219.70,249.17 L220.20,250.14 L220.70,251.07 L221.20,251.98 L221.70,252.86 L222.20,253.72 L222.70,254.55 L223.20,255.37 L223.70,256.16 L224.20,256.93 L224.70,257.68 L225.20,258.40 L225.70,259.10 L226.20,259.77 L226.70,260.41 L227.20,261.02 L227.70,261.59 L228.20,262.13 L228.70,262.65 L229.20,263.12 L229.70,263.57 L230.20,263.99 L230.70,264.38 L231.20,264.75 L231.70,265.08 L232.20,265.40 L232.70,265.70 L233.20,265.97 L233.70,266.23 L234.20,266.48 L234.70,266.71 L235.20,266.93 L235.70,267.14 L236.20,267.34 L236.70,267.53 L237.20,267.71 L237.70,267.88 L238.20,268.05 L238.70,268.21 L239.20,268.37 L239.70,268.52 L240.20,268.66 L240.70,268.80 L241.20,268.94 L241.70,269.07 L242.20,269.20 L242.70,269.32 L243.20,269.44 L243.70,269.56 L244.20,269.67 L244.70,269.77 L245.20,269.88 L245.70,269.98 L246.20,270.07 L246.70,270.17 L247.20,270.26 L247.70,270.35 L248.20,270.43 L248.70,270.51 L249.20,270.59 L249.70,270.66 L250.20,270.74 L250.70,270.81 L251.20,270.87 L251.70,270.94 L252.20,271.00 L252.70,271.06 L253.20,271.12 L253.70,271.17 L254.20,271.23 L254.70,271.28 L255.20,271.33 L255.70,271.37 L256.20,271.42 L256.70,271.46 L257.20,271.50 L257.70,271.54 L258.20,271.58 L258.70,271.62 L259.20,271.65 L259.70,271.68 L260.20,271.71 L260.70,271.74 L261.20,271.77 L261.70,271.80 L262.20,271.83 L262.70,271.85 L263.20,271.88 L263.70,271.90 L264.20,271.92 L264.70,271.94 L265.20,271.96 L265.70,271.98 L266.20,272.00 L266.70,272.01 L267.20,272.03 L267.70,272.04 L268.20,272.06 L268.70,272.07 L269.20,272.09 L269.70,272.10 L270.20,272.11 L270.70,272.12 L271.20,272.13 L271.70,272.14 L272.20,272.15 L272.70,272.16 L273.20,272.17 L273.70,272.18 L274.20,272.18 L274.70,272.19 L275.20,272.20 L275.70,272.20 L276.20,272.21 L276.70,272.21 L277.20,272.22 L277.70,272.23 L278.20,272.23 L278.70,272.23 L279.20,272.24 L279.70,272.24 L280.20,272.25 L280.70,272.25 L281.20,272.25 L281.70,272.26 L282.20,272.26 L282.70,272.26 L283.20,272.26 L283.70,272.27 L284.20,272.27 L284.70,272.27 L285.20,272.27 L285.70,272.27 L286.20,272.28 L286.70,272.28 L287.20,272.28 L287.70,272.28 L288.20,272.28 L288.70,272.28 L289.20,272.28 L289.70,272.29 L290.20,272.29 L290.70,272.29 L291.20,272.29 L291.70,272.29 L292.20,272.29 L292.70,272.29 L293.20,272.29 L293.70,272.29 L294.20,272.29 L294.70,272.29 L295.20,272.29 L295.70,272.29 L296.20,272.29 L296.70,272.30 L297.20,272.30 L297.70,272.30 L298.20,272.30 L298.70,272.30 L299.20,272.30 L299.70,272.30 L300.20,272.30 L300.70,272.30 L301.20,272.30 L301.70,272.30 L302.20,272.30 L302.70,272.30 L303.20,272.30 L303.70,272.30 L304.20,272.30 L304.70,272.30 L305.20,272.30 L305.70,272.30 L306.20,272.30 L306.70,272.30 L307.20,272.30" fill="none" stroke="#1a9fa3" stroke-width="2.3"/>
<path d="M84.50,272.29 L85.00,272.29 L85.50,272.29 L86.00,272.29 L86.50,272.29 L87.00,272.29 L87.50,272.29 L88.00,272.29 L88.50,272.29 L89.00,272.29 L89.50,272.28 L90.00,272.28 L90.50,272.28 L91.00,272.28 L91.50,272.28 L92.00,272.28 L92.50,272.28 L93.00,272.28 L93.50,272.27 L94.00,272.27 L94.50,272.27 L95.00,272.27 L95.50,272.27 L96.00,272.27 L96.50,272.26 L97.00,272.26 L97.50,272.26 L98.00,272.26 L98.50,272.25 L99.00,272.25 L99.50,272.25 L100.00,272.24 L100.50,272.24 L101.00,272.24 L101.50,272.23 L102.00,272.23 L102.50,272.22 L103.00,272.22 L103.50,272.22 L104.00,272.21 L104.50,272.21 L105.00,272.20 L105.50,272.19 L106.00,272.19 L106.50,272.18 L107.00,272.18 L107.50,272.17 L108.00,272.16 L108.50,272.15 L109.00,272.14 L109.50,272.14 L110.00,272.13 L110.50,272.12 L111.00,272.11 L111.50,272.10 L112.00,272.09 L112.50,272.08 L113.00,272.06 L113.50,272.05 L114.00,272.04 L114.50,272.03 L115.00,272.01 L115.50,272.00 L116.00,271.98 L116.50,271.97 L117.00,271.95 L117.50,271.93 L118.00,271.91 L118.50,271.89 L119.00,271.87 L119.50,271.85 L120.00,271.83 L120.50,271.81 L121.00,271.79 L121.50,271.76 L122.00,271.74 L122.50,271.71 L123.00,271.68 L123.50,271.66 L124.00,271.63 L124.50,271.60 L125.00,271.57 L125.50,271.53 L126.00,271.50 L126.50,271.46 L127.00,271.43 L127.50,271.39 L128.00,271.35 L128.50,271.31 L129.00,271.27 L129.50,271.22 L130.00,271.18 L130.50,271.13 L131.00,271.08 L131.50,271.03 L132.00,270.98 L132.50,270.93 L133.00,270.87 L133.50,270.82 L134.00,270.76" fill="none" stroke="#0e6a92" stroke-width="2.3"/>
<path d="M260.50,270.77 L261.00,270.84 L261.50,270.90 L262.00,270.96 L262.50,271.02 L263.00,271.08 L263.50,271.13 L264.00,271.18 L264.50,271.23 L265.00,271.28 L265.50,271.32 L266.00,271.36 L266.50,271.41 L267.00,271.45 L267.50,271.48 L268.00,271.52 L268.50,271.55 L269.00,271.59 L269.50,271.62 L270.00,271.65 L270.50,271.68 L271.00,271.71 L271.50,271.73 L272.00,271.76 L272.50,271.78 L273.00,271.81 L273.50,271.83 L274.00,271.85 L274.50,271.87 L275.00,271.89 L275.50,271.91 L276.00,271.93 L276.50,271.95 L277.00,271.97 L277.50,271.98 L278.00,272.00 L278.50,272.01 L279.00,272.03 L279.50,272.04 L280.00,272.05 L280.50,272.06 L281.00,272.08 L281.50,272.09 L282.00,272.10 L282.50,272.11 L283.00,272.12 L283.50,272.13 L284.00,272.14 L284.50,272.15 L285.00,272.15 L285.50,272.16 L286.00,272.17 L286.50,272.18 L287.00,272.18 L287.50,272.19 L288.00,272.19 L288.50,272.20 L289.00,272.21 L289.50,272.21 L290.00,272.22 L290.50,272.22 L291.00,272.22 L291.50,272.23" fill="none" stroke="#0e6a92" stroke-width="2.3"/>
<path d="M60.50,272.30 L61.00,272.30 L61.50,272.30 L62.00,272.30 L62.50,272.30 L63.00,272.30 L63.50,272.30 L64.00,272.30 L64.50,272.30 L65.00,272.30 L65.50,272.30 L66.00,272.30 L66.50,272.30 L67.00,272.30 L67.50,272.30 L68.00,272.30 L68.50,272.30 L69.00,272.30 L69.50,272.30 L70.00,272.30 L70.50,272.30 L71.00,272.30 L71.50,272.30 L72.00,272.30 L72.50,272.30 L73.00,272.30 L73.50,272.30 L74.00,272.30 L74.50,272.30 L75.00,272.30 L75.50,272.30 L76.00,272.30 L76.50,272.29 L77.00,272.29 L77.50,272.29 L78.00,272.29 L78.50,272.29 L79.00,272.29 L79.50,272.29 L80.00,272.29 L80.50,272.29 L81.00,272.29 L81.50,272.29 L82.00,272.29 L82.50,272.29 L83.00,272.29 L83.50,272.29 L84.00,272.29 L84.50,272.29 L85.00,272.29 L85.50,272.28 L86.00,272.28 L86.50,272.28 L87.00,272.28 L87.50,272.28 L88.00,272.28 L88.50,272.28 L89.00,272.28 L89.50,272.27 L90.00,272.27 L90.50,272.27 L91.00,272.27 L91.50,272.27 L92.00,272.27 L92.50,272.26 L93.00,272.26 L93.50,272.26 L94.00,272.26 L94.50,272.26 L95.00,272.25 L95.50,272.25 L96.00,272.25 L96.50,272.24 L97.00,272.24 L97.50,272.24 L98.00,272.23 L98.50,272.23 L99.00,272.23 L99.50,272.22 L100.00,272.22 L100.50,272.21 L101.00,272.21 L101.50,272.21 L102.00,272.20 L102.50,272.19 L103.00,272.19 L103.50,272.18 L104.00,272.18 L104.50,272.17 L105.00,272.16 L105.50,272.16 L106.00,272.15 L106.50,272.14 L107.00,272.13 L107.50,272.12 L108.00,272.12 L108.50,272.11 L109.00,272.10 L109.50,272.09 L110.00,272.08 L110.50,272.06 L111.00,272.05 L111.50,272.04 L112.00,272.03 L112.50,272.02 L113.00,272.00 L113.50,271.99 L114.00,271.97 L114.50,271.96 L115.00,271.94 L115.50,271.92 L116.00,271.91 L116.50,271.89 L117.00,271.87 L117.50,271.85 L118.00,271.83 L118.50,271.81 L119.00,271.78 L119.50,271.76 L120.00,271.74 L120.50,271.71 L121.00,271.69 L121.50,271.66 L122.00,271.63 L122.50,271.60 L123.00,271.57 L123.50,271.54 L124.00,271.51 L124.50,271.47 L125.00,271.44 L125.50,271.40 L126.00,271.37 L126.50,271.33 L127.00,271.29 L127.50,271.25 L128.00,271.20 L128.50,271.16 L129.00,271.11 L129.50,271.06 L130.00,271.01 L130.50,270.96 L131.00,270.91 L131.50,270.86 L132.00,270.80 L132.50,270.74 L133.00,270.68 L133.50,270.62 L134.00,270.56 L134.50,270.49 L135.00,270.42 L135.50,270.35 L136.00,270.28 L136.50,270.21 L137.00,270.13 L137.50,270.05 L138.00,269.97 L138.50,269.88 L139.00,269.79 L139.50,269.70 L140.00,269.61 L140.50,269.52 L141.00,269.42 L141.50,269.32 L142.00,269.21 L142.50,269.10 L143.00,268.99 L143.50,268.88 L144.00,268.76 L144.50,268.64 L145.00,268.51 L145.50,268.38 L146.00,268.25 L146.50,268.11 L147.00,267.97 L147.50,267.82 L148.00,267.67 L148.50,267.51 L149.00,267.35 L149.50,267.19 L150.00,267.02 L150.50,266.84 L151.00,266.65 L151.50,266.47 L152.00,266.27 L152.50,266.07 L153.00,265.86 L153.50,265.64 L154.00,265.42 L154.50,265.19 L155.00,264.95 L155.50,264.70 L156.00,264.44 L156.50,264.17 L157.00,263.90 L157.50,263.61 L158.00,263.32 L158.50,263.01 L159.00,262.69 L159.50,262.36 L160.00,262.01 L160.50,261.66 L161.00,261.29 L161.50,260.90 L162.00,260.51 L162.50,260.09 L163.00,259.66 L163.50,259.22 L164.00,258.75 L164.50,258.27 L165.00,257.77 L165.50,257.26 L166.00,256.72 L166.50,256.16 L167.00,255.58 L167.50,254.98 L168.00,254.36 L168.50,253.71 L169.00,253.04 L169.50,252.35 L170.00,251.63 L170.50,250.88 L171.00,250.11 L171.50,249.31 L172.00,248.49 L172.50,247.63 L173.00,246.75 L173.50,245.84 L174.00,244.90 L174.50,243.93 L175.00,242.93 L175.50,241.89 L176.00,240.83 L176.50,239.74 L177.00,238.61 L177.50,237.46 L178.00,236.27 L178.50,235.05 L179.00,233.80 L179.50,232.52 L180.00,231.21 L180.50,229.87 L181.00,228.50 L181.50,227.10 L182.00,225.67 L182.50,224.22 L183.00,222.73 L183.50,221.22 L184.00,219.69 L184.50,218.13 L185.00,216.55 L185.50,214.95 L186.00,213.33 L186.50,211.69 L187.00,210.04 L187.50,208.36 L188.00,206.68 L188.50,204.98 L189.00,203.27 L189.50,201.56 L190.00,199.83 L190.50,198.10 L191.00,196.37 L191.50,194.64 L192.00,192.91 L192.50,191.17 L193.00,189.45 L193.50,187.72 L194.00,186.01 L194.50,184.30 L195.00,182.60 L195.50,180.92 L196.00,179.24 L196.50,177.58 L197.00,175.94 L197.50,174.31 L198.00,172.70 L198.50,171.10 L199.00,169.53 L199.50,167.97 L200.00,166.44 L200.50,164.93 L201.00,163.44 L201.50,161.98 L202.00,160.54 L202.50,159.14 L203.00,157.76 L203.50,156.41 L204.00,155.09 L204.50,153.81 L205.00,152.58 L205.50,151.38 L206.00,150.22 L206.50,149.12 L207.00,148.07 L207.50,147.08 L208.00,146.14 L208.50,145.27 L209.00,144.48 L209.50,143.75 L210.00,143.11 L210.50,142.55 L211.00,142.09 L211.50,141.71 L212.00,141.44 L212.50,141.27 L213.00,141.20 L213.50,141.24 L214.00,141.40 L214.50,141.67 L215.00,142.05 L215.50,142.55 L216.00,143.17 L216.50,143.90 L217.00,144.74 L217.50,145.70 L218.00,146.76 L218.50,147.93 L219.00,149.20 L219.50,150.56 L220.00,152.01 L220.50,153.54 L221.00,155.15 L221.50,156.81 L222.00,158.53 L222.50,160.29 L223.00,162.07 L223.50,163.86 L224.00,165.65 L224.50,167.41 L225.00,169.13 L225.50,170.79 L226.00,172.38 L226.50,173.89 L227.00,175.32 L227.50,176.69 L228.00,178.00 L228.50,179.29 L229.00,180.59 L229.50,181.93 L230.00,183.35 L230.50,184.89 L231.00,186.57 L231.50,188.40 L232.00,190.39 L232.50,192.52 L233.00,194.76 L233.50,197.09 L234.00,199.46 L234.50,201.83 L235.00,204.17 L235.50,206.44 L236.00,208.63 L236.50,210.73 L237.00,212.71 L237.50,214.59 L238.00,216.38 L238.50,218.07 L239.00,219.69 L239.50,221.24 L240.00,222.74 L240.50,224.19 L241.00,225.60 L241.50,226.98 L242.00,228.32 L242.50,229.64 L243.00,230.93 L243.50,232.20 L244.00,233.45 L244.50,234.67 L245.00,235.87 L245.50,237.05 L246.00,238.20 L246.50,239.33 L247.00,240.44 L247.50,241.52 L248.00,242.57 L248.50,243.61 L249.00,244.61 L249.50,245.59 L250.00,246.55 L250.50,247.48 L251.00,248.38 L251.50,249.26 L252.00,250.12 L252.50,250.95 L253.00,251.75 L253.50,252.53 L254.00,253.28 L254.50,254.01 L255.00,254.71 L255.50,255.39 L256.00,256.05 L256.50,256.68 L257.00,257.29 L257.50,257.88 L258.00,258.44 L258.50,258.99 L259.00,259.51 L259.50,260.01 L260.00,260.50 L260.50,260.96 L261.00,261.40 L261.50,261.83 L262.00,262.24 L262.50,262.63 L263.00,263.01 L263.50,263.37 L264.00,263.71 L264.50,264.04 L265.00,264.36 L265.50,264.66 L266.00,264.96 L266.50,265.23 L267.00,265.50 L267.50,265.76 L268.00,266.00 L268.50,266.24 L269.00,266.46 L269.50,266.68 L270.00,266.88 L270.50,267.08 L271.00,267.27 L271.50,267.45 L272.00,267.63 L272.50,267.80 L273.00,267.96 L273.50,268.12 L274.00,268.27 L274.50,268.41 L275.00,268.55 L275.50,268.68 L276.00,268.81 L276.50,268.94 L277.00,269.06 L277.50,269.17 L278.00,269.28 L278.50,269.39 L279.00,269.49 L279.50,269.59 L280.00,269.69 L280.50,269.78 L281.00,269.87 L281.50,269.96 L282.00,270.05 L282.50,270.13 L283.00,270.21 L283.50,270.28 L284.00,270.36 L284.50,270.43 L285.00,270.50 L285.50,270.56 L286.00,270.63 L286.50,270.69 L287.00,270.75 L287.50,270.81 L288.00,270.86 L288.50,270.92 L289.00,270.97 L289.50,271.02 L290.00,271.07 L290.50,271.12 L291.00,271.17 L291.50,271.21 L292.00,271.25 L292.50,271.29 L293.00,271.33 L293.50,271.37 L294.00,271.41 L294.50,271.45 L295.00,271.48 L295.50,271.51 L296.00,271.55 L296.50,271.58 L297.00,271.61 L297.50,271.64 L298.00,271.66 L298.50,271.69 L299.00,271.72 L299.50,271.74 L300.00,271.77 L300.50,271.79 L301.00,271.81 L301.50,271.83 L302.00,271.85 L302.50,271.87 L303.00,271.89 L303.50,271.91 L304.00,271.93 L304.50,271.94 L305.00,271.96 L305.50,271.98 L306.00,271.99 L306.50,272.00 L307.00,272.02 L307.50,272.03 L308.00,272.04 L308.50,272.06 L309.00,272.07 L309.50,272.08 L310.00,272.09 L310.50,272.10 L311.00,272.11 L311.50,272.12 L312.00,272.13 L312.50,272.13 L313.00,272.14 L313.50,272.15 L314.00,272.16 L314.50,272.16 L315.00,272.17 L315.50,272.18 L316.00,272.18 L316.50,272.19 L317.00,272.20 L317.50,272.20 L318.00,272.21 L318.50,272.21 L319.00,272.22 L319.50,272.22 L320.00,272.22 L320.50,272.23 L321.00,272.23 L321.50,272.24 L322.00,272.24 L322.50,272.24 L323.00,272.25 L323.50,272.25 L324.00,272.25 L324.50,272.25 L325.00,272.26 L325.50,272.26 L326.00,272.26 L326.50,272.26 L327.00,272.26 L327.50,272.27 L328.00,272.27 L328.50,272.27 L329.00,272.27 L329.50,272.27 L330.00,272.28 L330.50,272.28 L331.00,272.28 L331.50,272.28" fill="none" stroke="#bcbcbc" stroke-width="2.2" stroke-dasharray="8 9" stroke-dashoffset="0"/>
<g transform="translate(0.6,0)">
<line x1="218" y1="34.2" x2="240.6" y2="34.2" stroke="#1cb0a2" stroke-width="2.4"/>
<line x1="218" y1="47.0" x2="240.6" y2="47.0" stroke="#0e6a92" stroke-width="2.4"/>
<line x1="218" y1="59.2" x2="240.6" y2="59.2" stroke="#bcbcbc" stroke-width="2.4" stroke-dasharray="8.2 9.4"/>
<text x="245.5" y="37.8" class="tk">solitary</text>
<text x="245.5" y="49.9" class="tk">social</text>
<text x="245.5" y="62" class="tk">contrast</text>
</g>
</g>
<g transform="translate(0,340)">
<text x="0.5" y="15.2" class="it">(c<tspan dx="0">)</tspan></text>
<line x1="60.5" y1="21.7" x2="60.5" y2="272.3" class="ax"/>
<line x1="54.3" y1="272.30" x2="60.5" y2="272.30" class="ax"/>
<text x="50" y="277.20" class="tk" text-anchor="end">0</text>
<line x1="54.3" y1="209.65" x2="60.5" y2="209.65" class="ax"/>
<text x="50" y="214.55" class="tk" text-anchor="end">0.25</text>
<line x1="54.3" y1="147.00" x2="60.5" y2="147.00" class="ax"/>
<text x="50" y="151.90" class="tk" text-anchor="end">0.50</text>
<line x1="54.3" y1="84.35" x2="60.5" y2="84.35" class="ax"/>
<text x="50" y="89.25" class="tk" text-anchor="end">0.75</text>
<line x1="54.3" y1="21.70" x2="60.5" y2="21.70" class="ax"/>
<text x="50" y="26.60" class="tk" text-anchor="end">1.00</text>
<line x1="84.10" y1="282.6" x2="306.50" y2="282.6" class="ax"/>
<line x1="84.10" y1="282.6" x2="84.10" y2="288.40000000000003" class="ax"/>
<text x="84.10" y="304.3" class="tk" text-anchor="middle">–4</text>
<line x1="139.70" y1="282.6" x2="139.70" y2="288.40000000000003" class="ax"/>
<text x="139.70" y="304.3" class="tk" text-anchor="middle">–2</text>
<line x1="195.30" y1="282.6" x2="195.30" y2="288.40000000000003" class="ax"/>
<text x="195.30" y="304.3" class="tk" text-anchor="middle">0</text>
<line x1="250.90" y1="282.6" x2="250.90" y2="288.40000000000003" class="ax"/>
<text x="250.90" y="304.3" class="tk" text-anchor="middle">2</text>
<line x1="306.50" y1="282.6" x2="306.50" y2="288.40000000000003" class="ax"/>
<text x="306.50" y="304.3" class="tk" text-anchor="middle">4</text>
<text x="195.5" y="322.1" class="tk" text-anchor="middle">estimate of longevity (standardized)</text>
<text transform="translate(13.3,147.2) rotate(-90)" class="tk" text-anchor="middle">density</text>
<line x1="60.5" y1="272.3" x2="332" y2="272.3" stroke="#efefef" stroke-width="1"/>
<path d="M86.00,272.29 L86.50,272.29 L87.00,272.29 L87.50,272.29 L88.00,272.29 L88.50,272.29 L89.00,272.29 L89.50,272.29 L90.00,272.28 L90.50,272.28 L91.00,272.28 L91.50,272.28 L92.00,272.28 L92.50,272.28 L93.00,272.28 L93.50,272.27 L94.00,272.27 L94.50,272.27 L95.00,272.27 L95.50,272.27 L96.00,272.27 L96.50,272.26 L97.00,272.26 L97.50,272.26 L98.00,272.26 L98.50,272.25 L99.00,272.25 L99.50,272.25 L100.00,272.24 L100.50,272.24 L101.00,272.24 L101.50,272.23 L102.00,272.23 L102.50,272.22 L103.00,272.22 L103.50,272.21 L104.00,272.21 L104.50,272.20 L105.00,272.20 L105.50,272.19 L106.00,272.19 L106.50,272.18 L107.00,272.17 L107.50,272.16 L108.00,272.16 L108.50,272.15 L109.00,272.14 L109.50,272.13 L110.00,272.12 L110.50,272.11 L111.00,272.10 L111.50,272.09 L112.00,272.08 L112.50,272.07 L113.00,272.05 L113.50,272.04 L114.00,272.03 L114.50,272.01 L115.00,272.00 L115.50,271.98 L116.00,271.96 L116.50,271.95 L117.00,271.93 L117.50,271.91 L118.00,271.89 L118.50,271.87 L119.00,271.85 L119.50,271.83 L120.00,271.80 L120.50,271.78 L121.00,271.75 L121.50,271.73 L122.00,271.70 L122.50,271.67 L123.00,271.64 L123.50,271.61 L124.00,271.58 L124.50,271.54 L125.00,271.51 L125.50,271.47 L126.00,271.43 L126.50,271.40 L127.00,271.36 L127.50,271.31 L128.00,271.27 L128.50,271.22 L129.00,271.18 L129.50,271.13 L130.00,271.08 L130.50,271.03 L131.00,270.97 L131.50,270.92 L132.00,270.86 L132.50,270.80 L133.00,270.74 L133.50,270.68 L134.00,270.61 L134.50,270.54 L135.00,270.47 L135.50,270.40 L136.00,270.33 L136.50,270.25 L137.00,270.17 L137.50,270.09 L138.00,270.01 L138.50,269.92 L139.00,269.83 L139.50,269.74 L140.00,269.64 L140.50,269.54 L141.00,269.44 L141.50,269.34 L142.00,269.23 L142.50,269.12 L143.00,269.01 L143.50,268.89 L144.00,268.77 L144.50,268.65 L145.00,268.52 L145.50,268.38 L146.00,268.25 L146.50,268.11 L147.00,267.96 L147.50,267.81 L148.00,267.65 L148.50,267.49 L149.00,267.32 L149.50,267.14 L150.00,266.96 L150.50,266.77 L151.00,266.58 L151.50,266.37 L152.00,266.16 L152.50,265.93 L153.00,265.70 L153.50,265.45 L154.00,265.20 L154.50,264.93 L155.00,264.64 L155.50,264.34 L156.00,264.03 L156.50,263.70 L157.00,263.35 L157.50,262.97 L158.00,262.58 L158.50,262.17 L159.00,261.73 L159.50,261.26 L160.00,260.77 L160.50,260.25 L161.00,259.69 L161.50,259.10 L162.00,258.47 L162.50,257.81 L163.00,257.10 L163.50,256.35 L164.00,255.55 L164.50,254.71 L165.00,253.81 L165.50,252.86 L166.00,251.85 L166.50,250.79 L167.00,249.66 L167.50,248.46 L168.00,247.20 L168.50,245.87 L169.00,244.47 L169.50,242.99 L170.00,241.43 L170.50,239.80 L171.00,238.08 L171.50,236.28 L172.00,234.39 L172.50,232.42 L173.00,230.36 L173.50,228.21 L174.00,225.97 L174.50,223.64 L175.00,221.23 L175.50,218.73 L176.00,216.14 L176.50,213.46 L177.00,210.70 L177.50,207.86 L178.00,204.94 L178.50,201.95 L179.00,198.89 L179.50,195.76 L180.00,192.57 L180.50,189.32 L181.00,186.02 L181.50,182.68 L182.00,179.30 L182.50,175.90 L183.00,172.47 L183.50,169.03 L184.00,165.58 L184.50,162.14 L185.00,158.71 L185.50,155.31 L186.00,151.93 L186.50,148.60 L187.00,145.32 L187.50,142.11 L188.00,138.96 L188.50,135.88 L189.00,132.90 L189.50,130.00 L190.00,127.20 L190.50,124.50 L191.00,121.89 L191.50,119.38 L192.00,116.96 L192.50,114.62 L193.00,112.34 L193.50,110.13 L194.00,107.96 L194.50,105.83 L195.00,103.72 L195.50,101.62 L196.00,99.56 L196.50,97.52 L197.00,95.55 L197.50,93.67 L198.00,91.93 L198.50,90.39 L199.00,89.10 L199.50,88.13 L200.00,87.54 L200.50,87.37 L201.00,87.67 L201.50,88.45 L202.00,89.71 L202.50,91.44 L203.00,93.59 L203.50,96.12 L204.00,98.96 L204.50,102.05 L205.00,105.31 L205.50,108.68 L206.00,112.11 L206.50,115.55 L207.00,118.98 L207.50,122.36 L208.00,125.69 L208.50,128.97 L209.00,132.21 L209.50,135.42 L210.00,138.61 L210.50,141.79 L211.00,144.99 L211.50,148.21 L212.00,151.45 L212.50,154.74 L213.00,158.07 L213.50,161.43 L214.00,164.84 L214.50,168.28 L215.00,171.75 L215.50,175.25 L216.00,178.76 L216.50,182.27 L217.00,185.78 L217.50,189.28 L218.00,192.75 L218.50,196.18 L219.00,199.57 L219.50,202.89 L220.00,206.14 L220.50,209.31 L221.00,212.39 L221.50,215.36 L222.00,218.22 L222.50,220.96 L223.00,223.57 L223.50,226.04 L224.00,228.38 L224.50,230.57 L225.00,232.62 L225.50,234.53 L226.00,236.30 L226.50,237.94 L227.00,239.46 L227.50,240.87 L228.00,242.18 L228.50,243.40 L229.00,244.55 L229.50,245.64 L230.00,246.69 L230.50,247.70 L231.00,248.69 L231.50,249.67 L232.00,250.64 L232.50,251.61 L233.00,252.58 L233.50,253.55 L234.00,254.52 L234.50,255.47 L235.00,256.41 L235.50,257.33 L236.00,258.23 L236.50,259.09 L237.00,259.91 L237.50,260.69 L238.00,261.42 L238.50,262.10 L239.00,262.73 L239.50,263.30 L240.00,263.83 L240.50,264.31 L241.00,264.75 L241.50,265.15 L242.00,265.51 L242.50,265.83 L243.00,266.13 L243.50,266.40 L244.00,266.65 L244.50,266.88 L245.00,267.09 L245.50,267.29 L246.00,267.47 L246.50,267.65 L247.00,267.82 L247.50,267.97 L248.00,268.12 L248.50,268.27 L249.00,268.41 L249.50,268.54 L250.00,268.67 L250.50,268.80 L251.00,268.92 L251.50,269.03 L252.00,269.15 L252.50,269.26 L253.00,269.36 L253.50,269.47 L254.00,269.57 L254.50,269.67 L255.00,269.76 L255.50,269.85 L256.00,269.94 L256.50,270.03 L257.00,270.11 L257.50,270.19 L258.00,270.27 L258.50,270.35 L259.00,270.42 L259.50,270.49 L260.00,270.56 L260.50,270.63 L261.00,270.69 L261.50,270.76 L262.00,270.82 L262.50,270.88 L263.00,270.93 L263.50,270.99 L264.00,271.04 L264.50,271.09 L265.00,271.14 L265.50,271.19 L266.00,271.24 L266.50,271.28 L267.00,271.32 L267.50,271.37 L268.00,271.41 L268.50,271.44 L269.00,271.48 L269.50,271.52 L270.00,271.55 L270.50,271.59 L271.00,271.62 L271.50,271.65 L272.00,271.68 L272.50,271.71 L273.00,271.73 L273.50,271.76 L274.00,271.78 L274.50,271.81 L275.00,271.83 L275.50,271.85 L276.00,271.88 L276.50,271.90 L277.00,271.92 L277.50,271.93 L278.00,271.95 L278.50,271.97 L279.00,271.99 L279.50,272.00 L280.00,272.02 L280.50,272.03 L281.00,272.04 L281.50,272.06 L282.00,272.07 L282.50,272.08 L283.00,272.09 L283.50,272.10 L284.00,272.11 L284.50,272.12 L285.00,272.13 L285.50,272.14 L286.00,272.15 L286.50,272.16 L287.00,272.17 L287.50,272.17 L288.00,272.18 L288.50,272.19 L289.00,272.19 L289.50,272.20 L290.00,272.20 L290.50,272.21 L291.00,272.22 L291.50,272.22 L292.00,272.22 L292.50,272.23 L293.00,272.23 L293.50,272.24 L294.00,272.24 L294.50,272.24 L295.00,272.25 L295.50,272.25 L296.00,272.25 L296.50,272.26 L297.00,272.26 L297.50,272.26 L298.00,272.26 L298.50,272.27 L299.00,272.27 L299.50,272.27 L300.00,272.27 L300.50,272.27 L301.00,272.28 L301.50,272.28 L302.00,272.28 L302.50,272.28 L303.00,272.28 L303.50,272.28 L304.00,272.28 L304.50,272.28 L305.00,272.29 L305.50,272.29 L306.00,272.29 L306.50,272.29 L307.00,272.29 L307.50,272.29 L308.00,272.29 L308.50,272.29 L309.00,272.29 L309.50,272.29 L310.00,272.29 L310.50,272.29 L311.00,272.29 L311.50,272.29 L312.00,272.29 L312.50,272.29 L313.00,272.30 L313.50,272.30 L313.50,272.30 L86.00,272.30 Z" fill="#1a6e96" fill-opacity="0.6" stroke="none"/>
<path d="M86.00,272.29 L86.50,272.29 L87.00,272.29 L87.50,272.29 L88.00,272.29 L88.50,272.29 L89.00,272.29 L89.50,272.29 L90.00,272.28 L90.50,272.28 L91.00,272.28 L91.50,272.28 L92.00,272.28 L92.50,272.28 L93.00,272.28 L93.50,272.27 L94.00,272.27 L94.50,272.27 L95.00,272.27 L95.50,272.27 L96.00,272.27 L96.50,272.26 L97.00,272.26 L97.50,272.26 L98.00,272.26 L98.50,272.25 L99.00,272.25 L99.50,272.25 L100.00,272.24 L100.50,272.24 L101.00,272.24 L101.50,272.23 L102.00,272.23 L102.50,272.22 L103.00,272.22 L103.50,272.21 L104.00,272.21 L104.50,272.20 L105.00,272.20 L105.50,272.19 L106.00,272.19 L106.50,272.18 L107.00,272.17 L107.50,272.16 L108.00,272.16 L108.50,272.15 L109.00,272.14 L109.50,272.13 L110.00,272.12 L110.50,272.11 L111.00,272.10 L111.50,272.09 L112.00,272.08 L112.50,272.07 L113.00,272.05 L113.50,272.04 L114.00,272.03 L114.50,272.01 L115.00,272.00 L115.50,271.98 L116.00,271.96 L116.50,271.95 L117.00,271.93 L117.50,271.91 L118.00,271.89 L118.50,271.87 L119.00,271.85 L119.50,271.83 L120.00,271.80 L120.50,271.78 L121.00,271.75 L121.50,271.73 L122.00,271.70 L122.50,271.67 L123.00,271.64 L123.50,271.61 L124.00,271.58 L124.50,271.54 L125.00,271.51 L125.50,271.47 L126.00,271.43 L126.50,271.40 L127.00,271.36 L127.50,271.31 L128.00,271.27 L128.50,271.22 L129.00,271.18 L129.50,271.13 L130.00,271.08 L130.50,271.03 L131.00,270.97 L131.50,270.92 L132.00,270.86 L132.50,270.80 L133.00,270.74 L133.50,270.68 L134.00,270.61 L134.50,270.54 L135.00,270.47 L135.50,270.40 L136.00,270.33 L136.50,270.25 L137.00,270.17 L137.50,270.09 L138.00,270.01 L138.50,269.92 L139.00,269.83 L139.50,269.74 L140.00,269.64 L140.50,269.54 L141.00,269.44 L141.50,269.34 L142.00,269.23 L142.50,269.12 L143.00,269.01 L143.50,268.89 L144.00,268.77 L144.50,268.65 L145.00,268.52 L145.50,268.38 L146.00,268.25 L146.50,268.11 L147.00,267.96 L147.50,267.81 L148.00,267.65 L148.50,267.49 L149.00,267.32 L149.50,267.14 L150.00,266.96 L150.50,266.77 L151.00,266.58 L151.50,266.37 L152.00,266.16 L152.50,265.93 L153.00,265.70 L153.50,265.45 L154.00,265.20 L154.50,264.93 L155.00,264.64 L155.50,264.34 L156.00,264.03 L156.50,263.70 L157.00,263.35 L157.50,262.97 L158.00,262.58 L158.50,262.17 L159.00,261.73 L159.50,261.26 L160.00,260.77 L160.50,260.25 L161.00,259.69 L161.50,259.10 L162.00,258.47 L162.50,257.81 L163.00,257.10 L163.50,256.35 L164.00,255.55 L164.50,254.71 L165.00,253.81 L165.50,252.86 L166.00,251.85 L166.50,250.79 L167.00,249.66 L167.50,248.46 L168.00,247.20 L168.50,245.87 L169.00,244.47 L169.50,242.99 L170.00,241.43 L170.50,239.80 L171.00,238.08 L171.50,236.28 L172.00,234.39 L172.50,232.42 L173.00,230.36 L173.50,228.21 L174.00,225.97 L174.50,223.64 L175.00,221.23 L175.50,218.73 L176.00,216.14 L176.50,213.46 L177.00,210.70 L177.50,207.86 L178.00,204.94 L178.50,201.95 L179.00,198.89 L179.50,195.76 L180.00,192.57 L180.50,189.32 L181.00,186.02 L181.50,182.68 L182.00,179.30 L182.50,175.90 L183.00,172.47 L183.50,169.03 L184.00,165.58 L184.50,162.14 L185.00,158.71 L185.50,155.31 L186.00,151.93 L186.50,148.60 L187.00,145.32 L187.50,142.11 L188.00,138.96 L188.50,135.88 L189.00,132.90 L189.50,130.00 L190.00,127.20 L190.50,124.50 L191.00,121.89 L191.50,119.38 L192.00,116.96 L192.50,114.62 L193.00,112.34 L193.50,110.13 L194.00,107.96 L194.50,105.83 L195.00,103.72 L195.50,101.62 L196.00,99.56 L196.50,97.52 L197.00,95.55 L197.50,93.67 L198.00,91.93 L198.50,90.39 L199.00,89.10 L199.50,88.13 L200.00,87.54 L200.50,87.37 L201.00,87.67 L201.50,88.45 L202.00,89.71 L202.50,91.44 L203.00,93.59 L203.50,96.12 L204.00,98.96 L204.50,102.05 L205.00,105.31 L205.50,108.68 L206.00,112.11 L206.50,115.55 L207.00,118.98 L207.50,122.36 L208.00,125.69 L208.50,128.97 L209.00,132.21 L209.50,135.42 L210.00,138.61 L210.50,141.79 L211.00,144.99 L211.50,148.21 L212.00,151.45 L212.50,154.74 L213.00,158.07 L213.50,161.43 L214.00,164.84 L214.50,168.28 L215.00,171.75 L215.50,175.25 L216.00,178.76 L216.50,182.27 L217.00,185.78 L217.50,189.28 L218.00,192.75 L218.50,196.18 L219.00,199.57 L219.50,202.89 L220.00,206.14 L220.50,209.31 L221.00,212.39 L221.50,215.36 L222.00,218.22 L222.50,220.96 L223.00,223.57 L223.50,226.04 L224.00,228.38 L224.50,230.57 L225.00,232.62 L225.50,234.53 L226.00,236.30 L226.50,237.94 L227.00,239.46 L227.50,240.87 L228.00,242.18 L228.50,243.40 L229.00,244.55 L229.50,245.64 L230.00,246.69 L230.50,247.70 L231.00,248.69 L231.50,249.67 L232.00,250.64 L232.50,251.61 L233.00,252.58 L233.50,253.55 L234.00,254.52 L234.50,255.47 L235.00,256.41 L235.50,257.33 L236.00,258.23 L236.50,259.09 L237.00,259.91 L237.50,260.69 L238.00,261.42 L238.50,262.10 L239.00,262.73 L239.50,263.30 L240.00,263.83 L240.50,264.31 L241.00,264.75 L241.50,265.15 L242.00,265.51 L242.50,265.83 L243.00,266.13 L243.50,266.40 L244.00,266.65 L244.50,266.88 L245.00,267.09 L245.50,267.29 L246.00,267.47 L246.50,267.65 L247.00,267.82 L247.50,267.97 L248.00,268.12 L248.50,268.27 L249.00,268.41 L249.50,268.54 L250.00,268.67 L250.50,268.80 L251.00,268.92 L251.50,269.03 L252.00,269.15 L252.50,269.26 L253.00,269.36 L253.50,269.47 L254.00,269.57 L254.50,269.67 L255.00,269.76 L255.50,269.85 L256.00,269.94 L256.50,270.03 L257.00,270.11 L257.50,270.19 L258.00,270.27 L258.50,270.35 L259.00,270.42 L259.50,270.49 L260.00,270.56 L260.50,270.63 L261.00,270.69 L261.50,270.76 L262.00,270.82 L262.50,270.88 L263.00,270.93 L263.50,270.99 L264.00,271.04 L264.50,271.09 L265.00,271.14 L265.50,271.19 L266.00,271.24 L266.50,271.28 L267.00,271.32 L267.50,271.37 L268.00,271.41 L268.50,271.44 L269.00,271.48 L269.50,271.52 L270.00,271.55 L270.50,271.59 L271.00,271.62 L271.50,271.65 L272.00,271.68 L272.50,271.71 L273.00,271.73 L273.50,271.76 L274.00,271.78 L274.50,271.81 L275.00,271.83 L275.50,271.85 L276.00,271.88 L276.50,271.90 L277.00,271.92 L277.50,271.93 L278.00,271.95 L278.50,271.97 L279.00,271.99 L279.50,272.00 L280.00,272.02 L280.50,272.03 L281.00,272.04 L281.50,272.06 L282.00,272.07 L282.50,272.08 L283.00,272.09 L283.50,272.10 L284.00,272.11 L284.50,272.12 L285.00,272.13 L285.50,272.14 L286.00,272.15 L286.50,272.16 L287.00,272.17 L287.50,272.17 L288.00,272.18 L288.50,272.19 L289.00,272.19 L289.50,272.20 L290.00,272.20 L290.50,272.21 L291.00,272.22 L291.50,272.22 L292.00,272.22 L292.50,272.23 L293.00,272.23 L293.50,272.24 L294.00,272.24 L294.50,272.24 L295.00,272.25 L295.50,272.25 L296.00,272.25 L296.50,272.26 L297.00,272.26 L297.50,272.26 L298.00,272.26 L298.50,272.27 L299.00,272.27 L299.50,272.27 L300.00,272.27 L300.50,272.27 L301.00,272.28 L301.50,272.28 L302.00,272.28 L302.50,272.28 L303.00,272.28 L303.50,272.28 L304.00,272.28 L304.50,272.28 L305.00,272.29 L305.50,272.29 L306.00,272.29 L306.50,272.29 L307.00,272.29 L307.50,272.29 L308.00,272.29 L308.50,272.29 L309.00,272.29 L309.50,272.29 L310.00,272.29 L310.50,272.29 L311.00,272.29 L311.50,272.29 L312.00,272.29 L312.50,272.29 L313.00,272.30 L313.50,272.30" fill="none" stroke="#0e6a92" stroke-width="2.3"/>
<path d="M122.00,271.67 L122.50,271.62 L123.00,271.56 L123.50,271.49 L124.00,271.42 L124.50,271.35 L125.00,271.27 L125.50,271.18 L126.00,271.09 L126.50,271.00 L127.00,270.90 L127.50,270.79 L128.00,270.68 L128.50,270.56 L129.00,270.44 L129.50,270.31 L130.00,270.17 L130.50,270.03 L131.00,269.87 L131.50,269.72 L132.00,269.55 L132.50,269.38 L133.00,269.20 L133.50,269.01 L134.00,268.82 L134.50,268.62 L135.00,268.41 L135.50,268.20 L136.00,267.97 L136.50,267.74 L137.00,267.51 L137.50,267.26 L138.00,267.01 L138.50,266.75 L139.00,266.49 L139.50,266.21 L140.00,265.93 L140.50,265.64 L141.00,265.35 L141.50,265.04 L142.00,264.73 L142.50,264.41 L143.00,264.08 L143.50,263.74 L144.00,263.39 L144.50,263.04 L145.00,262.67 L145.50,262.29 L146.00,261.90 L146.50,261.49 L147.00,261.07 L147.50,260.64 L148.00,260.19 L148.50,259.72 L149.00,259.24 L149.50,258.73 L150.00,258.20 L150.50,257.64 L151.00,257.06 L151.50,256.45 L152.00,255.81 L152.50,255.13 L153.00,254.42 L153.50,253.66 L154.00,252.87 L154.50,252.02 L155.00,251.13 L155.50,250.18 L156.00,249.17 L156.50,248.11 L157.00,246.97 L157.50,245.77 L158.00,244.49 L158.50,243.13 L159.00,241.69 L159.50,240.17 L160.00,238.55 L160.50,236.83 L161.00,235.02 L161.50,233.10 L162.00,231.07 L162.50,228.93 L163.00,226.68 L163.50,224.30 L164.00,221.81 L164.50,219.19 L165.00,216.45 L165.50,213.58 L166.00,210.58 L166.50,207.46 L167.00,204.21 L167.50,200.84 L168.00,197.34 L168.50,193.72 L169.00,189.99 L169.50,186.15 L170.00,182.21 L170.50,178.17 L171.00,174.03 L171.50,169.82 L172.00,165.54 L172.50,161.19 L173.00,156.80 L173.50,152.37 L174.00,147.91 L174.50,143.45 L175.00,139.00 L175.50,134.57 L176.00,130.17 L176.50,125.83 L177.00,121.56 L177.50,117.38 L178.00,113.31 L178.50,109.35 L179.00,105.53 L179.50,101.85 L180.00,98.30 L180.50,94.89 L181.00,91.59 L181.50,88.36 L182.00,85.16 L182.50,81.95 L183.00,78.71 L183.50,75.49 L184.00,72.38 L184.50,69.56 L185.00,67.23 L185.50,65.61 L186.00,64.85 L186.50,65.01 L187.00,66.05 L187.50,67.80 L188.00,70.07 L188.50,72.63 L189.00,75.33 L189.50,78.06 L190.00,80.77 L190.50,83.47 L191.00,86.20 L191.50,89.01 L192.00,91.94 L192.50,95.00 L193.00,98.22 L193.50,101.59 L194.00,105.10 L194.50,108.76 L195.00,112.53 L195.50,116.41 L196.00,120.37 L196.50,124.42 L197.00,128.52 L197.50,132.66 L198.00,136.83 L198.50,141.01 L199.00,145.20 L199.50,149.37 L200.00,153.52 L200.50,157.64 L201.00,161.70 L201.50,165.72 L202.00,169.66 L202.50,173.54 L203.00,177.34 L203.50,181.05 L204.00,184.67 L204.50,188.20 L205.00,191.62 L205.50,194.95 L206.00,198.17 L206.50,201.29 L207.00,204.30 L207.50,207.20 L208.00,210.00 L208.50,212.69 L209.00,215.28 L209.50,217.76 L210.00,220.15 L210.50,222.43 L211.00,224.61 L211.50,226.71 L212.00,228.70 L212.50,230.61 L213.00,232.44 L213.50,234.18 L214.00,235.83 L214.50,237.42 L215.00,238.92 L215.50,240.36 L216.00,241.73 L216.50,243.03 L217.00,244.28 L217.50,245.46 L218.00,246.58 L218.50,247.65 L219.00,248.67 L219.50,249.65 L220.00,250.57 L220.50,251.45 L221.00,252.29 L221.50,253.09 L222.00,253.86 L222.50,254.58 L223.00,255.28 L223.50,255.94 L224.00,256.57 L224.50,257.17 L225.00,257.75 L225.50,258.29 L226.00,258.82 L226.50,259.32 L227.00,259.80 L227.50,260.26 L228.00,260.70 L228.50,261.12 L229.00,261.53 L229.50,261.91 L230.00,262.29 L230.50,262.64 L231.00,262.99 L231.50,263.32 L232.00,263.63 L232.50,263.94 L233.00,264.23 L233.50,264.51 L234.00,264.79 L234.50,265.05 L235.00,265.30 L235.50,265.55 L236.00,265.78 L236.50,266.01 L237.00,266.23 L237.50,266.45 L238.00,266.65 L238.50,266.85 L239.00,267.05 L239.50,267.23 L240.00,267.41 L240.50,267.59 L241.00,267.76 L241.50,267.92 L242.00,268.08 L242.50,268.24 L243.00,268.39 L243.50,268.54 L244.00,268.68 L244.50,268.81 L245.00,268.95 L245.50,269.07 L246.00,269.20 L246.50,269.32 L247.00,269.44 L247.50,269.55 L248.00,269.66 L248.50,269.77 L249.00,269.87 L249.50,269.97 L250.00,270.06 L250.50,270.16 L251.00,270.25 L251.50,270.33 L252.00,270.42 L252.50,270.50 L253.00,270.58 L253.50,270.65 L254.00,270.73 L254.50,270.80 L255.00,270.86 L255.50,270.93 L256.00,270.99 L256.50,271.05 L257.00,271.11 L257.50,271.17 L258.00,271.22 L258.50,271.27 L259.00,271.32 L259.50,271.37 L260.00,271.42 L260.50,271.46 L261.00,271.50 L261.50,271.54 L262.00,271.58 L262.50,271.62 L263.00,271.65 L263.50,271.69 L264.00,271.72 L264.50,271.75 L265.00,271.78 L265.50,271.81 L266.00,271.84 L266.50,271.86 L267.00,271.88 L267.50,271.91 L268.00,271.93 L268.50,271.95 L269.00,271.97 L269.50,271.99 L270.00,272.01 L270.50,272.02 L271.00,272.04 L271.50,272.06 L272.00,272.07 L272.50,272.08 L273.00,272.10 L273.50,272.11 L274.00,272.12 L274.50,272.13 L275.00,272.14 L275.50,272.15 L276.00,272.16 L276.50,272.17 L277.00,272.18 L277.50,272.19 L278.00,272.19 L278.50,272.20 L279.00,272.21 L279.50,272.21 L280.00,272.22 L280.50,272.22 L281.00,272.23 L281.50,272.23 L282.00,272.24 L282.50,272.24 L283.00,272.25 L283.50,272.25 L284.00,272.25 L284.50,272.26 L285.00,272.26 L285.50,272.26 L286.00,272.27 L286.50,272.27 L287.00,272.27 L287.50,272.27 L288.00,272.27 L288.50,272.28 L289.00,272.28 L289.50,272.28 L290.00,272.28 L290.50,272.28 L291.00,272.28 L291.50,272.29 L292.00,272.29 L292.50,272.29 L293.00,272.29 L293.50,272.29 L294.00,272.29 L294.50,272.29 L295.00,272.29 L295.50,272.29 L296.00,272.29 L296.50,272.29 L297.00,272.29 L297.50,272.29 L298.00,272.30 L298.50,272.30 L299.00,272.30 L299.50,272.30 L300.00,272.30 L300.50,272.30 L301.00,272.30 L301.50,272.30 L302.00,272.30 L302.50,272.30 L303.00,272.30 L303.50,272.30 L304.00,272.30 L304.50,272.30 L305.00,272.30 L305.50,272.30 L306.00,272.30 L306.50,272.30 L307.00,272.30 L307.50,272.30 L308.00,272.30 L308.50,272.30 L309.00,272.30 L309.50,272.30 L310.00,272.30 L310.50,272.30 L311.00,272.30 L311.50,272.30 L312.00,272.30 L312.50,272.30 L313.00,272.30 L313.00,272.30 L122.00,272.30 Z" fill="#20b2aa" fill-opacity="0.55" stroke="none"/>
<path d="M122.00,271.67 L122.50,271.62 L123.00,271.56 L123.50,271.49 L124.00,271.42 L124.50,271.35 L125.00,271.27 L125.50,271.18 L126.00,271.09 L126.50,271.00 L127.00,270.90 L127.50,270.79 L128.00,270.68 L128.50,270.56 L129.00,270.44 L129.50,270.31 L130.00,270.17 L130.50,270.03 L131.00,269.87 L131.50,269.72 L132.00,269.55 L132.50,269.38 L133.00,269.20 L133.50,269.01 L134.00,268.82 L134.50,268.62 L135.00,268.41 L135.50,268.20 L136.00,267.97 L136.50,267.74 L137.00,267.51 L137.50,267.26 L138.00,267.01 L138.50,266.75 L139.00,266.49 L139.50,266.21 L140.00,265.93 L140.50,265.64 L141.00,265.35 L141.50,265.04 L142.00,264.73 L142.50,264.41 L143.00,264.08 L143.50,263.74 L144.00,263.39 L144.50,263.04 L145.00,262.67 L145.50,262.29 L146.00,261.90 L146.50,261.49 L147.00,261.07 L147.50,260.64 L148.00,260.19 L148.50,259.72 L149.00,259.24 L149.50,258.73 L150.00,258.20 L150.50,257.64 L151.00,257.06 L151.50,256.45 L152.00,255.81 L152.50,255.13 L153.00,254.42 L153.50,253.66 L154.00,252.87 L154.50,252.02 L155.00,251.13 L155.50,250.18 L156.00,249.17 L156.50,248.11 L157.00,246.97 L157.50,245.77 L158.00,244.49 L158.50,243.13 L159.00,241.69 L159.50,240.17 L160.00,238.55 L160.50,236.83 L161.00,235.02 L161.50,233.10 L162.00,231.07 L162.50,228.93 L163.00,226.68 L163.50,224.30 L164.00,221.81 L164.50,219.19 L165.00,216.45 L165.50,213.58 L166.00,210.58 L166.50,207.46 L167.00,204.21 L167.50,200.84 L168.00,197.34 L168.50,193.72 L169.00,189.99 L169.50,186.15 L170.00,182.21 L170.50,178.17 L171.00,174.03 L171.50,169.82 L172.00,165.54 L172.50,161.19 L173.00,156.80 L173.50,152.37 L174.00,147.91 L174.50,143.45 L175.00,139.00 L175.50,134.57 L176.00,130.17 L176.50,125.83 L177.00,121.56 L177.50,117.38 L178.00,113.31 L178.50,109.35 L179.00,105.53 L179.50,101.85 L180.00,98.30 L180.50,94.89 L181.00,91.59 L181.50,88.36 L182.00,85.16 L182.50,81.95 L183.00,78.71 L183.50,75.49 L184.00,72.38 L184.50,69.56 L185.00,67.23 L185.50,65.61 L186.00,64.85 L186.50,65.01 L187.00,66.05 L187.50,67.80 L188.00,70.07 L188.50,72.63 L189.00,75.33 L189.50,78.06 L190.00,80.77 L190.50,83.47 L191.00,86.20 L191.50,89.01 L192.00,91.94 L192.50,95.00 L193.00,98.22 L193.50,101.59 L194.00,105.10" fill="none" stroke="#1cb0a2" stroke-width="2.3"/>
<path d="M193.75,103.33 L194.25,106.91 L194.75,110.63 L195.25,114.46 L195.75,118.38 L196.25,122.39 L196.75,126.46 L197.25,130.58 L197.75,134.74 L198.25,138.92 L198.75,143.11 L199.25,147.29 L199.75,151.45 L200.25,155.58 L200.75,159.68 L201.25,163.72 L201.75,167.70 L202.25,171.61 L202.75,175.45 L203.25,179.20 L203.75,182.87 L204.25,186.44 L204.75,189.92 L205.25,193.30 L205.75,196.57 L206.25,199.74 L206.75,202.81 L207.25,205.77 L207.75,208.62 L208.25,211.36 L208.75,214.00 L209.25,216.54 L209.75,218.97 L210.25,221.30 L210.75,223.53 L211.25,225.67 L211.75,227.72 L212.25,229.67 L212.75,231.54 L213.25,233.32 L213.75,235.02 L214.25,236.64 L214.75,238.18 L215.25,239.65 L215.75,241.05 L216.25,242.39 L216.75,243.66 L217.25,244.87 L217.75,246.03 L218.25,247.13 L218.75,248.17 L219.25,249.17 L219.75,250.11 L220.25,251.02 L220.75,251.88 L221.25,252.70 L221.75,253.48 L222.25,254.22 L222.75,254.93 L223.25,255.61 L223.75,256.26 L224.25,256.87 L224.75,257.46 L225.25,258.02 L225.75,258.56 L226.25,259.07 L226.75,259.56 L227.25,260.03 L227.75,260.48 L228.25,260.91 L228.75,261.33 L229.25,261.72 L229.75,262.10 L230.25,262.47 L230.75,262.82 L231.25,263.15 L231.75,263.48 L232.25,263.79 L232.75,264.09 L233.25,264.37 L233.75,264.65 L234.25,264.92 L234.75,265.18 L235.25,265.43 L235.75,265.67 L236.25,265.90 L236.75,266.12 L237.25,266.34 L237.75,266.55 L238.25,266.75 L238.75,266.95 L239.25,267.14 L239.75,267.32 L240.25,267.50 L240.75,267.68 L241.25,267.84 L241.75,268.01 L242.25,268.16 L242.75,268.32 L243.25,268.46 L243.75,268.61 L244.25,268.75 L244.75,268.88 L245.25,269.01 L245.75,269.14 L246.25,269.26 L246.75,269.38 L247.25,269.49 L247.75,269.60 L248.25,269.71 L248.75,269.82 L249.25,269.92 L249.75,270.02 L250.25,270.11 L250.75,270.20 L251.25,270.29 L251.75,270.38 L252.25,270.46 L252.75,270.54 L253.25,270.62 L253.75,270.69 L254.25,270.76 L254.75,270.83 L255.25,270.90 L255.75,270.96 L256.25,271.02 L256.75,271.08 L257.25,271.14 L257.75,271.20 L258.25,271.25 L258.75,271.30 L259.25,271.35 L259.75,271.39 L260.25,271.44 L260.75,271.48 L261.25,271.52 L261.75,271.56 L262.25,271.60 L262.75,271.64 L263.25,271.67 L263.75,271.70 L264.25,271.74 L264.75,271.77 L265.25,271.79 L265.75,271.82 L266.25,271.85 L266.75,271.87 L267.25,271.90 L267.75,271.92 L268.25,271.94 L268.75,271.96 L269.25,271.98 L269.75,272.00 L270.25,272.02 L270.75,272.03 L271.25,272.05 L271.75,272.06 L272.25,272.08 L272.75,272.09 L273.25,272.10 L273.75,272.12 L274.25,272.13 L274.75,272.14 L275.25,272.15 L275.75,272.16 L276.25,272.17 L276.75,272.18 L277.25,272.18 L277.75,272.19 L278.25,272.20 L278.75,272.20 L279.25,272.21 L279.75,272.22 L280.25,272.22 L280.75,272.23 L281.25,272.23 L281.75,272.24 L282.25,272.24 L282.75,272.25 L283.25,272.25 L283.75,272.25 L284.25,272.26 L284.75,272.26 L285.25,272.26 L285.75,272.26 L286.25,272.27 L286.75,272.27 L287.25,272.27 L287.75,272.27 L288.25,272.28 L288.75,272.28 L289.25,272.28 L289.75,272.28 L290.25,272.28 L290.75,272.28 L291.25,272.28 L291.75,272.29 L292.25,272.29 L292.75,272.29 L293.25,272.29 L293.75,272.29 L294.25,272.29 L294.75,272.29 L295.25,272.29 L295.75,272.29 L296.25,272.29 L296.75,272.29 L297.25,272.29 L297.75,272.29 L298.25,272.30 L298.75,272.30 L299.25,272.30 L299.75,272.30 L300.25,272.30 L300.75,272.30 L301.25,272.30 L301.75,272.30 L302.25,272.30 L302.75,272.30 L303.25,272.30 L303.75,272.30 L304.25,272.30 L304.75,272.30 L305.25,272.30 L305.75,272.30 L306.25,272.30 L306.75,272.30 L307.25,272.30 L307.75,272.30 L308.25,272.30 L308.75,272.30 L309.25,272.30 L309.75,272.30 L310.25,272.30 L310.75,272.30 L311.25,272.30 L311.75,272.30 L312.25,272.30 L312.75,272.30" fill="none" stroke="#1a9fa3" stroke-width="2.3"/>
<path d="M86.00,272.29 L86.50,272.29 L87.00,272.29 L87.50,272.29 L88.00,272.29 L88.50,272.29 L89.00,272.29 L89.50,272.29 L90.00,272.28 L90.50,272.28 L91.00,272.28 L91.50,272.28 L92.00,272.28 L92.50,272.28 L93.00,272.28 L93.50,272.27 L94.00,272.27 L94.50,272.27 L95.00,272.27 L95.50,272.27 L96.00,272.27 L96.50,272.26 L97.00,272.26 L97.50,272.26 L98.00,272.26 L98.50,272.25 L99.00,272.25 L99.50,272.25 L100.00,272.24 L100.50,272.24 L101.00,272.24 L101.50,272.23 L102.00,272.23 L102.50,272.22 L103.00,272.22 L103.50,272.21 L104.00,272.21 L104.50,272.20 L105.00,272.20 L105.50,272.19 L106.00,272.19 L106.50,272.18 L107.00,272.17 L107.50,272.16 L108.00,272.16 L108.50,272.15 L109.00,272.14 L109.50,272.13 L110.00,272.12 L110.50,272.11 L111.00,272.10 L111.50,272.09 L112.00,272.08 L112.50,272.07 L113.00,272.05 L113.50,272.04 L114.00,272.03 L114.50,272.01 L115.00,272.00 L115.50,271.98 L116.00,271.96 L116.50,271.95 L117.00,271.93 L117.50,271.91 L118.00,271.89 L118.50,271.87 L119.00,271.85 L119.50,271.83 L120.00,271.80 L120.50,271.78 L121.00,271.75 L121.50,271.73 L122.00,271.70 L122.50,271.67 L123.00,271.64 L123.50,271.61 L124.00,271.58 L124.50,271.54 L125.00,271.51 L125.50,271.47 L126.00,271.43 L126.50,271.40 L127.00,271.36 L127.50,271.31 L128.00,271.27 L128.50,271.22 L129.00,271.18 L129.50,271.13 L130.00,271.08 L130.50,271.03 L131.00,270.97 L131.50,270.92 L132.00,270.86 L132.50,270.80 L133.00,270.74" fill="none" stroke="#0e6a92" stroke-width="2.3"/>
<path d="M261.50,270.76 L262.00,270.82 L262.50,270.88 L263.00,270.93 L263.50,270.99 L264.00,271.04 L264.50,271.09 L265.00,271.14 L265.50,271.19 L266.00,271.24 L266.50,271.28 L267.00,271.32 L267.50,271.37 L268.00,271.41 L268.50,271.44 L269.00,271.48 L269.50,271.52 L270.00,271.55 L270.50,271.59 L271.00,271.62 L271.50,271.65 L272.00,271.68 L272.50,271.71 L273.00,271.73 L273.50,271.76 L274.00,271.78 L274.50,271.81 L275.00,271.83 L275.50,271.85 L276.00,271.88 L276.50,271.90 L277.00,271.92 L277.50,271.93 L278.00,271.95 L278.50,271.97 L279.00,271.99 L279.50,272.00 L280.00,272.02 L280.50,272.03 L281.00,272.04 L281.50,272.06 L282.00,272.07 L282.50,272.08 L283.00,272.09 L283.50,272.10 L284.00,272.11 L284.50,272.12 L285.00,272.13 L285.50,272.14 L286.00,272.15 L286.50,272.16 L287.00,272.17 L287.50,272.17 L288.00,272.18 L288.50,272.19 L289.00,272.19 L289.50,272.20 L290.00,272.20 L290.50,272.21 L291.00,272.22 L291.50,272.22 L292.00,272.22 L292.50,272.23 L293.00,272.23 L293.50,272.24 L294.00,272.24 L294.50,272.24 L295.00,272.25 L295.50,272.25 L296.00,272.25 L296.50,272.26 L297.00,272.26 L297.50,272.26 L298.00,272.26 L298.50,272.27 L299.00,272.27 L299.50,272.27 L300.00,272.27 L300.50,272.27 L301.00,272.28 L301.50,272.28 L302.00,272.28 L302.50,272.28 L303.00,272.28 L303.50,272.28 L304.00,272.28 L304.50,272.28 L305.00,272.29 L305.50,272.29 L306.00,272.29 L306.50,272.29 L307.00,272.29 L307.50,272.29 L308.00,272.29 L308.50,272.29 L309.00,272.29 L309.50,272.29 L310.00,272.29 L310.50,272.29 L311.00,272.29 L311.50,272.29 L312.00,272.29 L312.50,272.29 L313.00,272.30 L313.50,272.30" fill="none" stroke="#0e6a92" stroke-width="2.3"/>
<path d="M86.00,272.30 L86.50,272.30 L87.00,272.30 L87.50,272.29 L88.00,272.29 L88.50,272.29 L89.00,272.29 L89.50,272.29 L90.00,272.29 L90.50,272.29 L91.00,272.29 L91.50,272.29 L92.00,272.29 L92.50,272.29 L93.00,272.29 L93.50,272.29 L94.00,272.29 L94.50,272.29 L95.00,272.28 L95.50,272.28 L96.00,272.28 L96.50,272.28 L97.00,272.28 L97.50,272.28 L98.00,272.28 L98.50,272.28 L99.00,272.27 L99.50,272.27 L100.00,272.27 L100.50,272.27 L101.00,272.27 L101.50,272.26 L102.00,272.26 L102.50,272.26 L103.00,272.26 L103.50,272.25 L104.00,272.25 L104.50,272.25 L105.00,272.24 L105.50,272.24 L106.00,272.23 L106.50,272.23 L107.00,272.23 L107.50,272.22 L108.00,272.22 L108.50,272.21 L109.00,272.20 L109.50,272.20 L110.00,272.19 L110.50,272.19 L111.00,272.18 L111.50,272.17 L112.00,272.16 L112.50,272.16 L113.00,272.15 L113.50,272.14 L114.00,272.13 L114.50,272.12 L115.00,272.11 L115.50,272.09 L116.00,272.08 L116.50,272.07 L117.00,272.06 L117.50,272.04 L118.00,272.03 L118.50,272.01 L119.00,272.00 L119.50,271.98 L120.00,271.96 L120.50,271.94 L121.00,271.92 L121.50,271.90 L122.00,271.88 L122.50,271.86 L123.00,271.83 L123.50,271.81 L124.00,271.78 L124.50,271.75 L125.00,271.72 L125.50,271.69 L126.00,271.66 L126.50,271.63 L127.00,271.60 L127.50,271.56 L128.00,271.52 L128.50,271.48 L129.00,271.44 L129.50,271.40 L130.00,271.35 L130.50,271.31 L131.00,271.26 L131.50,271.21 L132.00,271.15 L132.50,271.10 L133.00,271.04 L133.50,270.98 L134.00,270.92 L134.50,270.86 L135.00,270.79 L135.50,270.72 L136.00,270.65 L136.50,270.57 L137.00,270.49 L137.50,270.41 L138.00,270.32 L138.50,270.24 L139.00,270.14 L139.50,270.05 L140.00,269.95 L140.50,269.85 L141.00,269.74 L141.50,269.63 L142.00,269.52 L142.50,269.40 L143.00,269.27 L143.50,269.15 L144.00,269.01 L144.50,268.88 L145.00,268.73 L145.50,268.59 L146.00,268.43 L146.50,268.28 L147.00,268.11 L147.50,267.94 L148.00,267.76 L148.50,267.58 L149.00,267.39 L149.50,267.19 L150.00,266.99 L150.50,266.78 L151.00,266.56 L151.50,266.33 L152.00,266.09 L152.50,265.85 L153.00,265.59 L153.50,265.33 L154.00,265.06 L154.50,264.77 L155.00,264.48 L155.50,264.17 L156.00,263.85 L156.50,263.52 L157.00,263.18 L157.50,262.82 L158.00,262.45 L158.50,262.06 L159.00,261.66 L159.50,261.25 L160.00,260.81 L160.50,260.36 L161.00,259.89 L161.50,259.40 L162.00,258.90 L162.50,258.37 L163.00,257.82 L163.50,257.25 L164.00,256.65 L164.50,256.03 L165.00,255.39 L165.50,254.72 L166.00,254.02 L166.50,253.30 L167.00,252.55 L167.50,251.77 L168.00,250.95 L168.50,250.11 L169.00,249.23 L169.50,248.32 L170.00,247.38 L170.50,246.40 L171.00,245.38 L171.50,244.33 L172.00,243.24 L172.50,242.11 L173.00,240.94 L173.50,239.73 L174.00,238.47 L174.50,237.17 L175.00,235.82 L175.50,234.40 L176.00,232.91 L176.50,231.33 L177.00,229.63 L177.50,227.80 L178.00,225.85 L178.50,223.77 L179.00,221.61 L179.50,219.42 L180.00,217.26 L180.50,215.21 L181.00,213.30 L181.50,211.56 L182.00,209.96 L182.50,208.46 L183.00,206.97 L183.50,205.45 L184.00,203.83 L184.50,202.11 L185.00,200.27 L185.50,198.32 L186.00,196.29 L186.50,194.20 L187.00,192.06 L187.50,189.89 L188.00,187.70 L188.50,185.50 L189.00,183.30 L189.50,181.09 L190.00,178.88 L190.50,176.68 L191.00,174.48 L191.50,172.29 L192.00,170.11 L192.50,167.94 L193.00,165.77 L193.50,163.58 L194.00,161.37 L194.50,159.10 L195.00,156.76 L195.50,154.33 L196.00,151.81 L196.50,149.23 L197.00,146.65 L197.50,144.15 L198.00,141.84 L198.50,139.78 L199.00,138.04 L199.50,136.61 L200.00,135.45 L200.50,134.48 L201.00,133.63 L201.50,132.81 L202.00,131.97 L202.50,131.11 L203.00,130.22 L203.50,129.35 L204.00,128.52 L204.50,127.77 L205.00,127.12 L205.50,126.61 L206.00,126.24 L206.50,126.02 L207.00,125.98 L207.50,126.11 L208.00,126.41 L208.50,126.89 L209.00,127.54 L209.50,128.37 L210.00,129.35 L210.50,130.50 L211.00,131.79 L211.50,133.22 L212.00,134.78 L212.50,136.45 L213.00,138.23 L213.50,140.10 L214.00,142.05 L214.50,144.07 L215.00,146.15 L215.50,148.28 L216.00,150.44 L216.50,152.64 L217.00,154.86 L217.50,157.09 L218.00,159.34 L218.50,161.60 L219.00,163.87 L219.50,166.13 L220.00,168.40 L220.50,170.66 L221.00,172.91 L221.50,175.16 L222.00,177.41 L222.50,179.64 L223.00,181.86 L223.50,184.07 L224.00,186.27 L224.50,188.45 L225.00,190.62 L225.50,192.76 L226.00,194.89 L226.50,197.00 L227.00,199.08 L227.50,201.13 L228.00,203.16 L228.50,205.16 L229.00,207.13 L229.50,209.06 L230.00,210.97 L230.50,212.83 L231.00,214.67 L231.50,216.46 L232.00,218.22 L232.50,219.94 L233.00,221.62 L233.50,223.26 L234.00,224.86 L234.50,226.42 L235.00,227.94 L235.50,229.42 L236.00,230.85 L236.50,232.25 L237.00,233.61 L237.50,234.92 L238.00,236.20 L238.50,237.44 L239.00,238.63 L239.50,239.79 L240.00,240.92 L240.50,242.00 L241.00,243.06 L241.50,244.07 L242.00,245.05 L242.50,246.00 L243.00,246.92 L243.50,247.80 L244.00,248.65 L244.50,249.48 L245.00,250.27 L245.50,251.04 L246.00,251.77 L246.50,252.49 L247.00,253.17 L247.50,253.84 L248.00,254.48 L248.50,255.09 L249.00,255.69 L249.50,256.26 L250.00,256.81 L250.50,257.35 L251.00,257.86 L251.50,258.36 L252.00,258.84 L252.50,259.30 L253.00,259.75 L253.50,260.18 L254.00,260.60 L254.50,261.00 L255.00,261.39 L255.50,261.77 L256.00,262.13 L256.50,262.48 L257.00,262.82 L257.50,263.15 L258.00,263.47 L258.50,263.77 L259.00,264.07 L259.50,264.36 L260.00,264.64 L260.50,264.91 L261.00,265.17 L261.50,265.42 L262.00,265.67 L262.50,265.90 L263.00,266.13 L263.50,266.35 L264.00,266.57 L264.50,266.78 L265.00,266.98 L265.50,267.17 L266.00,267.36 L266.50,267.55 L267.00,267.72 L267.50,267.90 L268.00,268.06 L268.50,268.22 L269.00,268.38 L269.50,268.53 L270.00,268.67 L270.50,268.81 L271.00,268.95 L271.50,269.08 L272.00,269.21 L272.50,269.33 L273.00,269.45 L273.50,269.57 L274.00,269.68 L274.50,269.78 L275.00,269.89 L275.50,269.99 L276.00,270.08 L276.50,270.18 L277.00,270.27 L277.50,270.35 L278.00,270.44 L278.50,270.52 L279.00,270.59 L279.50,270.67 L280.00,270.74 L280.50,270.81 L281.00,270.87 L281.50,270.94 L282.00,271.00 L282.50,271.06 L283.00,271.11 L283.50,271.17 L284.00,271.22 L284.50,271.27 L285.00,271.32 L285.50,271.36 L286.00,271.41 L286.50,271.45 L287.00,271.49 L287.50,271.53 L288.00,271.57 L288.50,271.60 L289.00,271.64 L289.50,271.67 L290.00,271.70 L290.50,271.73 L291.00,271.76 L291.50,271.79 L292.00,271.81 L292.50,271.84 L293.00,271.86 L293.50,271.88 L294.00,271.91 L294.50,271.93 L295.00,271.95 L295.50,271.97 L296.00,271.98 L296.50,272.00 L297.00,272.02 L297.50,272.03 L298.00,272.05 L298.50,272.06 L299.00,272.07 L299.50,272.09 L300.00,272.10 L300.50,272.11 L301.00,272.12 L301.50,272.13 L302.00,272.14 L302.50,272.15 L303.00,272.16 L303.50,272.17 L304.00,272.17 L304.50,272.18 L305.00,272.19 L305.50,272.19 L306.00,272.20 L306.50,272.21 L307.00,272.21 L307.50,272.22 L308.00,272.22 L308.50,272.23 L309.00,272.23 L309.50,272.24 L310.00,272.24 L310.50,272.24 L311.00,272.25 L311.50,272.25 L312.00,272.25 L312.50,272.26 L313.00,272.26 L313.50,272.26 L314.00,272.26 L314.50,272.27 L315.00,272.27 L315.50,272.27 L316.00,272.27 L316.50,272.27 L317.00,272.28 L317.50,272.28 L318.00,272.28 L318.50,272.28 L319.00,272.28 L319.50,272.28 L320.00,272.28 L320.50,272.29 L321.00,272.29" fill="none" stroke="#bcbcbc" stroke-width="2.2" stroke-dasharray="8 9" stroke-dashoffset="0"/>
<g transform="translate(0,0.5)">
<line x1="218" y1="34.2" x2="240.6" y2="34.2" stroke="#1cb0a2" stroke-width="2.4"/>
<line x1="218" y1="47.0" x2="240.6" y2="47.0" stroke="#0e6a92" stroke-width="2.4"/>
<line x1="218" y1="59.2" x2="240.6" y2="59.2" stroke="#bcbcbc" stroke-width="2.4" stroke-dasharray="8.2 9.4"/>
<text x="245.5" y="37.8" class="tk">solitary</text>
<text x="245.5" y="49.9" class="tk">social</text>
<text x="245.5" y="62" class="tk">contrast</text>
</g>
</g>
<g transform="translate(360.5,340)">
<text x="-3.2" y="15.2" class="it">(d<tspan dx="1.8">)</tspan></text>
<line x1="60.5" y1="21.7" x2="60.5" y2="272.3" class="ax"/>
<line x1="54.3" y1="272.30" x2="60.5" y2="272.30" class="ax"/>
<text x="50" y="277.20" class="tk" text-anchor="end">0</text>
<line x1="54.3" y1="209.65" x2="60.5" y2="209.65" class="ax"/>
<text x="50" y="214.55" class="tk" text-anchor="end">0.25</text>
<line x1="54.3" y1="147.00" x2="60.5" y2="147.00" class="ax"/>
<text x="50" y="151.90" class="tk" text-anchor="end">0.50</text>
<line x1="54.3" y1="84.35" x2="60.5" y2="84.35" class="ax"/>
<text x="50" y="89.25" class="tk" text-anchor="end">0.75</text>
<line x1="54.3" y1="21.70" x2="60.5" y2="21.70" class="ax"/>
<text x="50" y="26.60" class="tk" text-anchor="end">1.00</text>
<line x1="84.10" y1="282.6" x2="306.50" y2="282.6" class="ax"/>
<line x1="84.10" y1="282.6" x2="84.10" y2="288.40000000000003" class="ax"/>
<text x="84.10" y="304.3" class="tk" text-anchor="middle">–4</text>
<line x1="139.70" y1="282.6" x2="139.70" y2="288.40000000000003" class="ax"/>
<text x="139.70" y="304.3" class="tk" text-anchor="middle">–2</text>
<line x1="195.30" y1="282.6" x2="195.30" y2="288.40000000000003" class="ax"/>
<text x="195.30" y="304.3" class="tk" text-anchor="middle">0</text>
<line x1="250.90" y1="282.6" x2="250.90" y2="288.40000000000003" class="ax"/>
<text x="250.90" y="304.3" class="tk" text-anchor="middle">2</text>
<line x1="306.50" y1="282.6" x2="306.50" y2="288.40000000000003" class="ax"/>
<text x="306.50" y="304.3" class="tk" text-anchor="middle">4</text>
<text x="195.5" y="322.1" class="tk" text-anchor="middle">estimate of longevity (standardized)</text>
<text transform="translate(9.8,147.2) rotate(-90)" class="tk" text-anchor="middle">density</text>
<line x1="60.5" y1="272.3" x2="332" y2="272.3" stroke="#efefef" stroke-width="1"/>
<path d="M85.50,272.30 L86.00,272.30 L86.50,272.30 L87.00,272.30 L87.50,272.30 L88.00,272.30 L88.50,272.30 L89.00,272.30 L89.50,272.30 L90.00,272.30 L90.50,272.29 L91.00,272.29 L91.50,272.29 L92.00,272.29 L92.50,272.29 L93.00,272.29 L93.50,272.29 L94.00,272.29 L94.50,272.29 L95.00,272.29 L95.50,272.29 L96.00,272.29 L96.50,272.29 L97.00,272.29 L97.50,272.29 L98.00,272.28 L98.50,272.28 L99.00,272.28 L99.50,272.28 L100.00,272.28 L100.50,272.28 L101.00,272.28 L101.50,272.27 L102.00,272.27 L102.50,272.27 L103.00,272.27 L103.50,272.26 L104.00,272.26 L104.50,272.26 L105.00,272.26 L105.50,272.25 L106.00,272.25 L106.50,272.25 L107.00,272.24 L107.50,272.24 L108.00,272.24 L108.50,272.23 L109.00,272.23 L109.50,272.22 L110.00,272.22 L110.50,272.21 L111.00,272.21 L111.50,272.20 L112.00,272.19 L112.50,272.19 L113.00,272.18 L113.50,272.17 L114.00,272.16 L114.50,272.15 L115.00,272.14 L115.50,272.14 L116.00,272.12 L116.50,272.11 L117.00,272.10 L117.50,272.09 L118.00,272.08 L118.50,272.07 L119.00,272.05 L119.50,272.04 L120.00,272.02 L120.50,272.00 L121.00,271.99 L121.50,271.97 L122.00,271.95 L122.50,271.93 L123.00,271.91 L123.50,271.89 L124.00,271.87 L124.50,271.84 L125.00,271.82 L125.50,271.79 L126.00,271.76 L126.50,271.73 L127.00,271.70 L127.50,271.67 L128.00,271.64 L128.50,271.60 L129.00,271.57 L129.50,271.53 L130.00,271.49 L130.50,271.45 L131.00,271.41 L131.50,271.36 L132.00,271.32 L132.50,271.27 L133.00,271.22 L133.50,271.17 L134.00,271.11 L134.50,271.06 L135.00,271.00 L135.50,270.94 L136.00,270.87 L136.50,270.81 L137.00,270.74 L137.50,270.67 L138.00,270.60 L138.50,270.52 L139.00,270.44 L139.50,270.36 L140.00,270.28 L140.50,270.19 L141.00,270.10 L141.50,270.00 L142.00,269.91 L142.50,269.81 L143.00,269.70 L143.50,269.60 L144.00,269.48 L144.50,269.37 L145.00,269.25 L145.50,269.13 L146.00,269.00 L146.50,268.87 L147.00,268.74 L147.50,268.60 L148.00,268.45 L148.50,268.30 L149.00,268.14 L149.50,267.98 L150.00,267.81 L150.50,267.64 L151.00,267.46 L151.50,267.27 L152.00,267.07 L152.50,266.87 L153.00,266.65 L153.50,266.43 L154.00,266.19 L154.50,265.94 L155.00,265.68 L155.50,265.41 L156.00,265.12 L156.50,264.81 L157.00,264.49 L157.50,264.15 L158.00,263.78 L158.50,263.40 L159.00,262.99 L159.50,262.55 L160.00,262.08 L160.50,261.58 L161.00,261.05 L161.50,260.48 L162.00,259.87 L162.50,259.22 L163.00,258.52 L163.50,257.78 L164.00,256.97 L164.50,256.12 L165.00,255.20 L165.50,254.22 L166.00,253.17 L166.50,252.06 L167.00,250.86 L167.50,249.59 L168.00,248.24 L168.50,246.79 L169.00,245.26 L169.50,243.64 L170.00,241.92 L170.50,240.10 L171.00,238.18 L171.50,236.16 L172.00,234.03 L172.50,231.80 L173.00,229.46 L173.50,227.01 L174.00,224.46 L174.50,221.80 L175.00,219.04 L175.50,216.17 L176.00,213.21 L176.50,210.15 L177.00,207.00 L177.50,203.77 L178.00,200.47 L178.50,197.09 L179.00,193.64 L179.50,190.15 L180.00,186.61 L180.50,183.03 L181.00,179.43 L181.50,175.81 L182.00,172.19 L182.50,168.58 L183.00,164.98 L183.50,161.42 L184.00,157.90 L184.50,154.44 L185.00,151.04 L185.50,147.72 L186.00,144.49 L186.50,141.35 L187.00,138.32 L187.50,135.40 L188.00,132.58 L188.50,129.88 L189.00,127.28 L189.50,124.78 L190.00,122.36 L190.50,119.99 L191.00,117.65 L191.50,115.31 L192.00,112.92 L192.50,110.46 L193.00,107.90 L193.50,105.23 L194.00,102.45 L194.50,99.61 L195.00,96.75 L195.50,93.97 L196.00,91.38 L196.50,89.09 L197.00,87.23 L197.50,85.90 L198.00,85.20 L198.50,85.15 L199.00,85.78 L199.50,87.02 L200.00,88.81 L200.50,91.03 L201.00,93.56 L201.50,96.28 L202.00,99.06 L202.50,101.83 L203.00,104.51 L203.50,107.06 L204.00,109.49 L204.50,111.79 L205.00,114.00 L205.50,116.15 L206.00,118.29 L206.50,120.44 L207.00,122.65 L207.50,124.94 L208.00,127.34 L208.50,129.86 L209.00,132.52 L209.50,135.31 L210.00,138.25 L210.50,141.33 L211.00,144.53 L211.50,147.87 L212.00,151.32 L212.50,154.87 L213.00,158.51 L213.50,162.23 L214.00,166.00 L214.50,169.82 L215.00,173.66 L215.50,177.50 L216.00,181.34 L216.50,185.15 L217.00,188.91 L217.50,192.61 L218.00,196.24 L218.50,199.77 L219.00,203.20 L219.50,206.52 L220.00,209.71 L220.50,212.78 L221.00,215.71 L221.50,218.50 L222.00,221.15 L222.50,223.66 L223.00,226.04 L223.50,228.29 L224.00,230.40 L224.50,232.39 L225.00,234.27 L225.50,236.05 L226.00,237.72 L226.50,239.31 L227.00,240.81 L227.50,242.24 L228.00,243.60 L228.50,244.91 L229.00,246.16 L229.50,247.36 L230.00,248.52 L230.50,249.65 L231.00,250.73 L231.50,251.78 L232.00,252.80 L232.50,253.78 L233.00,254.74 L233.50,255.65 L234.00,256.54 L234.50,257.39 L235.00,258.20 L235.50,258.98 L236.00,259.72 L236.50,260.42 L237.00,261.08 L237.50,261.71 L238.00,262.30 L238.50,262.85 L239.00,263.36 L239.50,263.84 L240.00,264.29 L240.50,264.71 L241.00,265.09 L241.50,265.45 L242.00,265.78 L242.50,266.09 L243.00,266.38 L243.50,266.65 L244.00,266.89 L244.50,267.13 L245.00,267.35 L245.50,267.55 L246.00,267.74 L246.50,267.93 L247.00,268.10 L247.50,268.26 L248.00,268.42 L248.50,268.57 L249.00,268.71 L249.50,268.85 L250.00,268.98 L250.50,269.11 L251.00,269.23 L251.50,269.35 L252.00,269.47 L252.50,269.58 L253.00,269.69 L253.50,269.79 L254.00,269.89 L254.50,269.99 L255.00,270.08 L255.50,270.17 L256.00,270.26 L256.50,270.34 L257.00,270.43 L257.50,270.50 L258.00,270.58 L258.50,270.65 L259.00,270.73 L259.50,270.79 L260.00,270.86 L260.50,270.92 L261.00,270.99 L261.50,271.04 L262.00,271.10 L262.50,271.16 L263.00,271.21 L263.50,271.26 L264.00,271.31 L264.50,271.35 L265.00,271.40 L265.50,271.44 L266.00,271.48 L266.50,271.52 L267.00,271.56 L267.50,271.60 L268.00,271.63 L268.50,271.67 L269.00,271.70 L269.50,271.73 L270.00,271.76 L270.50,271.78 L271.00,271.81 L271.50,271.84 L272.00,271.86 L272.50,271.88 L273.00,271.91 L273.50,271.93 L274.00,271.95 L274.50,271.97 L275.00,271.98 L275.50,272.00 L276.00,272.02 L276.50,272.03 L277.00,272.05 L277.50,272.06 L278.00,272.08 L278.50,272.09 L279.00,272.10 L279.50,272.11 L280.00,272.12 L280.50,272.13 L281.00,272.14 L281.50,272.15 L282.00,272.16 L282.50,272.17 L283.00,272.18 L283.50,272.18 L284.00,272.19 L284.50,272.20 L285.00,272.20 L285.50,272.21 L286.00,272.22 L286.50,272.22 L287.00,272.23 L287.50,272.23 L288.00,272.23 L288.50,272.24 L289.00,272.24 L289.50,272.25 L290.00,272.25 L290.50,272.25 L291.00,272.26 L291.50,272.26 L292.00,272.26 L292.50,272.26 L293.00,272.27 L293.50,272.27 L294.00,272.27 L294.50,272.27 L295.00,272.27 L295.50,272.28 L296.00,272.28 L296.50,272.28 L297.00,272.28 L297.50,272.28 L298.00,272.28 L298.00,272.30 L85.50,272.30 Z" fill="#1a6e96" fill-opacity="0.6" stroke="none"/>
<path d="M85.50,272.30 L86.00,272.30 L86.50,272.30 L87.00,272.30 L87.50,272.30 L88.00,272.30 L88.50,272.30 L89.00,272.30 L89.50,272.30 L90.00,272.30 L90.50,272.29 L91.00,272.29 L91.50,272.29 L92.00,272.29 L92.50,272.29 L93.00,272.29 L93.50,272.29 L94.00,272.29 L94.50,272.29 L95.00,272.29 L95.50,272.29 L96.00,272.29 L96.50,272.29 L97.00,272.29 L97.50,272.29 L98.00,272.28 L98.50,272.28 L99.00,272.28 L99.50,272.28 L100.00,272.28 L100.50,272.28 L101.00,272.28 L101.50,272.27 L102.00,272.27 L102.50,272.27 L103.00,272.27 L103.50,272.26 L104.00,272.26 L104.50,272.26 L105.00,272.26 L105.50,272.25 L106.00,272.25 L106.50,272.25 L107.00,272.24 L107.50,272.24 L108.00,272.24 L108.50,272.23 L109.00,272.23 L109.50,272.22 L110.00,272.22 L110.50,272.21 L111.00,272.21 L111.50,272.20 L112.00,272.19 L112.50,272.19 L113.00,272.18 L113.50,272.17 L114.00,272.16 L114.50,272.15 L115.00,272.14 L115.50,272.14 L116.00,272.12 L116.50,272.11 L117.00,272.10 L117.50,272.09 L118.00,272.08 L118.50,272.07 L119.00,272.05 L119.50,272.04 L120.00,272.02 L120.50,272.00 L121.00,271.99 L121.50,271.97 L122.00,271.95 L122.50,271.93 L123.00,271.91 L123.50,271.89 L124.00,271.87 L124.50,271.84 L125.00,271.82 L125.50,271.79 L126.00,271.76 L126.50,271.73 L127.00,271.70 L127.50,271.67 L128.00,271.64 L128.50,271.60 L129.00,271.57 L129.50,271.53 L130.00,271.49 L130.50,271.45 L131.00,271.41 L131.50,271.36 L132.00,271.32 L132.50,271.27 L133.00,271.22 L133.50,271.17 L134.00,271.11 L134.50,271.06 L135.00,271.00 L135.50,270.94 L136.00,270.87 L136.50,270.81 L137.00,270.74 L137.50,270.67 L138.00,270.60 L138.50,270.52 L139.00,270.44 L139.50,270.36 L140.00,270.28 L140.50,270.19 L141.00,270.10 L141.50,270.00 L142.00,269.91 L142.50,269.81 L143.00,269.70 L143.50,269.60 L144.00,269.48 L144.50,269.37 L145.00,269.25 L145.50,269.13 L146.00,269.00 L146.50,268.87 L147.00,268.74 L147.50,268.60 L148.00,268.45 L148.50,268.30 L149.00,268.14 L149.50,267.98 L150.00,267.81 L150.50,267.64 L151.00,267.46 L151.50,267.27 L152.00,267.07 L152.50,266.87 L153.00,266.65 L153.50,266.43 L154.00,266.19 L154.50,265.94 L155.00,265.68 L155.50,265.41 L156.00,265.12 L156.50,264.81 L157.00,264.49 L157.50,264.15 L158.00,263.78 L158.50,263.40 L159.00,262.99 L159.50,262.55 L160.00,262.08 L160.50,261.58 L161.00,261.05 L161.50,260.48 L162.00,259.87 L162.50,259.22 L163.00,258.52 L163.50,257.78 L164.00,256.97 L164.50,256.12 L165.00,255.20 L165.50,254.22 L166.00,253.17 L166.50,252.06 L167.00,250.86 L167.50,249.59 L168.00,248.24 L168.50,246.79 L169.00,245.26 L169.50,243.64 L170.00,241.92 L170.50,240.10 L171.00,238.18 L171.50,236.16 L172.00,234.03 L172.50,231.80 L173.00,229.46 L173.50,227.01 L174.00,224.46 L174.50,221.80 L175.00,219.04 L175.50,216.17 L176.00,213.21 L176.50,210.15 L177.00,207.00 L177.50,203.77 L178.00,200.47 L178.50,197.09 L179.00,193.64 L179.50,190.15 L180.00,186.61 L180.50,183.03 L181.00,179.43 L181.50,175.81 L182.00,172.19 L182.50,168.58 L183.00,164.98 L183.50,161.42 L184.00,157.90 L184.50,154.44 L185.00,151.04 L185.50,147.72 L186.00,144.49 L186.50,141.35 L187.00,138.32 L187.50,135.40 L188.00,132.58 L188.50,129.88 L189.00,127.28 L189.50,124.78 L190.00,122.36 L190.50,119.99 L191.00,117.65 L191.50,115.31 L192.00,112.92 L192.50,110.46 L193.00,107.90 L193.50,105.23 L194.00,102.45 L194.50,99.61 L195.00,96.75 L195.50,93.97 L196.00,91.38 L196.50,89.09 L197.00,87.23 L197.50,85.90 L198.00,85.20 L198.50,85.15 L199.00,85.78 L199.50,87.02 L200.00,88.81 L200.50,91.03 L201.00,93.56 L201.50,96.28 L202.00,99.06 L202.50,101.83 L203.00,104.51 L203.50,107.06 L204.00,109.49 L204.50,111.79 L205.00,114.00 L205.50,116.15 L206.00,118.29 L206.50,120.44 L207.00,122.65 L207.50,124.94 L208.00,127.34 L208.50,129.86 L209.00,132.52 L209.50,135.31 L210.00,138.25 L210.50,141.33 L211.00,144.53 L211.50,147.87 L212.00,151.32 L212.50,154.87 L213.00,158.51 L213.50,162.23 L214.00,166.00 L214.50,169.82 L215.00,173.66 L215.50,177.50 L216.00,181.34 L216.50,185.15 L217.00,188.91 L217.50,192.61 L218.00,196.24 L218.50,199.77 L219.00,203.20 L219.50,206.52 L220.00,209.71 L220.50,212.78 L221.00,215.71 L221.50,218.50 L222.00,221.15 L222.50,223.66 L223.00,226.04 L223.50,228.29 L224.00,230.40 L224.50,232.39 L225.00,234.27 L225.50,236.05 L226.00,237.72 L226.50,239.31 L227.00,240.81 L227.50,242.24 L228.00,243.60 L228.50,244.91 L229.00,246.16 L229.50,247.36 L230.00,248.52 L230.50,249.65 L231.00,250.73 L231.50,251.78 L232.00,252.80 L232.50,253.78 L233.00,254.74 L233.50,255.65 L234.00,256.54 L234.50,257.39 L235.00,258.20 L235.50,258.98 L236.00,259.72 L236.50,260.42 L237.00,261.08 L237.50,261.71 L238.00,262.30 L238.50,262.85 L239.00,263.36 L239.50,263.84 L240.00,264.29 L240.50,264.71 L241.00,265.09 L241.50,265.45 L242.00,265.78 L242.50,266.09 L243.00,266.38 L243.50,266.65 L244.00,266.89 L244.50,267.13 L245.00,267.35 L245.50,267.55 L246.00,267.74 L246.50,267.93 L247.00,268.10 L247.50,268.26 L248.00,268.42 L248.50,268.57 L249.00,268.71 L249.50,268.85 L250.00,268.98 L250.50,269.11 L251.00,269.23 L251.50,269.35 L252.00,269.47 L252.50,269.58 L253.00,269.69 L253.50,269.79 L254.00,269.89 L254.50,269.99 L255.00,270.08 L255.50,270.17 L256.00,270.26 L256.50,270.34 L257.00,270.43 L257.50,270.50 L258.00,270.58 L258.50,270.65 L259.00,270.73 L259.50,270.79 L260.00,270.86 L260.50,270.92 L261.00,270.99 L261.50,271.04 L262.00,271.10 L262.50,271.16 L263.00,271.21 L263.50,271.26 L264.00,271.31 L264.50,271.35 L265.00,271.40 L265.50,271.44 L266.00,271.48 L266.50,271.52 L267.00,271.56 L267.50,271.60 L268.00,271.63 L268.50,271.67 L269.00,271.70 L269.50,271.73 L270.00,271.76 L270.50,271.78 L271.00,271.81 L271.50,271.84 L272.00,271.86 L272.50,271.88 L273.00,271.91 L273.50,271.93 L274.00,271.95 L274.50,271.97 L275.00,271.98 L275.50,272.00 L276.00,272.02 L276.50,272.03 L277.00,272.05 L277.50,272.06 L278.00,272.08 L278.50,272.09 L279.00,272.10 L279.50,272.11 L280.00,272.12 L280.50,272.13 L281.00,272.14 L281.50,272.15 L282.00,272.16 L282.50,272.17 L283.00,272.18 L283.50,272.18 L284.00,272.19 L284.50,272.20 L285.00,272.20 L285.50,272.21 L286.00,272.22 L286.50,272.22 L287.00,272.23 L287.50,272.23 L288.00,272.23 L288.50,272.24 L289.00,272.24 L289.50,272.25 L290.00,272.25 L290.50,272.25 L291.00,272.26 L291.50,272.26 L292.00,272.26 L292.50,272.26 L293.00,272.27 L293.50,272.27 L294.00,272.27 L294.50,272.27 L295.00,272.27 L295.50,272.28 L296.00,272.28 L296.50,272.28 L297.00,272.28 L297.50,272.28 L298.00,272.28" fill="none" stroke="#0e6a92" stroke-width="2.3"/>
<path d="M73.00,272.30 L73.50,272.30 L74.00,272.30 L74.50,272.30 L75.00,272.30 L75.50,272.30 L76.00,272.30 L76.50,272.30 L77.00,272.30 L77.50,272.30 L78.00,272.30 L78.50,272.30 L79.00,272.30 L79.50,272.30 L80.00,272.30 L80.50,272.30 L81.00,272.30 L81.50,272.30 L82.00,272.30 L82.50,272.30 L83.00,272.29 L83.50,272.29 L84.00,272.29 L84.50,272.29 L85.00,272.29 L85.50,272.29 L86.00,272.29 L86.50,272.29 L87.00,272.29 L87.50,272.29 L88.00,272.29 L88.50,272.29 L89.00,272.29 L89.50,272.29 L90.00,272.28 L90.50,272.28 L91.00,272.28 L91.50,272.28 L92.00,272.28 L92.50,272.28 L93.00,272.27 L93.50,272.27 L94.00,272.27 L94.50,272.27 L95.00,272.27 L95.50,272.26 L96.00,272.26 L96.50,272.26 L97.00,272.25 L97.50,272.25 L98.00,272.25 L98.50,272.24 L99.00,272.24 L99.50,272.23 L100.00,272.23 L100.50,272.22 L101.00,272.22 L101.50,272.21 L102.00,272.20 L102.50,272.20 L103.00,272.19 L103.50,272.18 L104.00,272.17 L104.50,272.17 L105.00,272.16 L105.50,272.15 L106.00,272.14 L106.50,272.12 L107.00,272.11 L107.50,272.10 L108.00,272.09 L108.50,272.07 L109.00,272.06 L109.50,272.04 L110.00,272.02 L110.50,272.01 L111.00,271.99 L111.50,271.97 L112.00,271.95 L112.50,271.92 L113.00,271.90 L113.50,271.88 L114.00,271.85 L114.50,271.82 L115.00,271.79 L115.50,271.76 L116.00,271.73 L116.50,271.70 L117.00,271.66 L117.50,271.62 L118.00,271.58 L118.50,271.54 L119.00,271.50 L119.50,271.45 L120.00,271.41 L120.50,271.35 L121.00,271.30 L121.50,271.25 L122.00,271.19 L122.50,271.13 L123.00,271.06 L123.50,271.00 L124.00,270.93 L124.50,270.86 L125.00,270.78 L125.50,270.70 L126.00,270.62 L126.50,270.53 L127.00,270.44 L127.50,270.35 L128.00,270.25 L128.50,270.15 L129.00,270.04 L129.50,269.93 L130.00,269.82 L130.50,269.70 L131.00,269.57 L131.50,269.44 L132.00,269.31 L132.50,269.17 L133.00,269.03 L133.50,268.88 L134.00,268.72 L134.50,268.56 L135.00,268.39 L135.50,268.22 L136.00,268.04 L136.50,267.85 L137.00,267.66 L137.50,267.46 L138.00,267.25 L138.50,267.04 L139.00,266.82 L139.50,266.59 L140.00,266.35 L140.50,266.10 L141.00,265.85 L141.50,265.58 L142.00,265.31 L142.50,265.02 L143.00,264.73 L143.50,264.42 L144.00,264.10 L144.50,263.77 L145.00,263.43 L145.50,263.07 L146.00,262.70 L146.50,262.31 L147.00,261.91 L147.50,261.48 L148.00,261.04 L148.50,260.58 L149.00,260.10 L149.50,259.59 L150.00,259.05 L150.50,258.49 L151.00,257.90 L151.50,257.27 L152.00,256.61 L152.50,255.92 L153.00,255.18 L153.50,254.40 L154.00,253.56 L154.50,252.68 L155.00,251.75 L155.50,250.75 L156.00,249.69 L156.50,248.56 L157.00,247.36 L157.50,246.08 L158.00,244.71 L158.50,243.26 L159.00,241.72 L159.50,240.07 L160.00,238.32 L160.50,236.46 L161.00,234.49 L161.50,232.40 L162.00,230.18 L162.50,227.83 L163.00,225.35 L163.50,222.74 L164.00,219.98 L164.50,217.09 L165.00,214.05 L165.50,210.87 L166.00,207.54 L166.50,204.08 L167.00,200.47 L167.50,196.73 L168.00,192.85 L168.50,188.85 L169.00,184.73 L169.50,180.50 L170.00,176.16 L170.50,171.74 L171.00,167.24 L171.50,162.67 L172.00,158.06 L172.50,153.40 L173.00,148.73 L173.50,144.06 L174.00,139.41 L174.50,134.79 L175.00,130.23 L175.50,125.74 L176.00,121.35 L176.50,117.07 L177.00,112.93 L177.50,108.95 L178.00,105.13 L178.50,101.50 L179.00,98.07 L179.50,94.85 L180.00,91.83 L180.50,89.03 L181.00,86.41 L181.50,83.97 L182.00,81.69 L182.50,79.57 L183.00,77.65 L183.50,75.95 L184.00,74.58 L184.50,73.62 L185.00,73.17 L185.50,73.28 L186.00,73.95 L186.50,75.16 L187.00,76.81 L187.50,78.80 L188.00,81.03 L188.50,83.41 L189.00,85.89 L189.50,88.46 L190.00,91.09 L190.50,93.81 L191.00,96.60 L191.50,99.47 L192.00,102.41 L192.50,105.38 L193.00,108.36 L193.50,111.32 L194.00,114.23 L194.50,117.08 L195.00,119.86 L195.50,122.58 L196.00,125.27 L196.50,127.96 L197.00,130.72 L197.50,133.60 L198.00,136.67 L198.50,139.97 L199.00,143.53 L199.50,147.34 L200.00,151.39 L200.50,155.63 L201.00,159.98 L201.50,164.37 L202.00,168.73 L202.50,173.00 L203.00,177.12 L203.50,181.06 L204.00,184.80 L204.50,188.34 L205.00,191.69 L205.50,194.86 L206.00,197.87 L206.50,200.75 L207.00,203.49 L207.50,206.13 L208.00,208.68 L208.50,211.13 L209.00,213.49 L209.50,215.78 L210.00,217.99 L210.50,220.12 L211.00,222.18 L211.50,224.17 L212.00,226.09 L212.50,227.94 L213.00,229.72 L213.50,231.44 L214.00,233.09 L214.50,234.67 L215.00,236.20 L215.50,237.66 L216.00,239.07 L216.50,240.42 L217.00,241.71 L217.50,242.95 L218.00,244.14 L218.50,245.28 L219.00,246.37 L219.50,247.41 L220.00,248.41 L220.50,249.37 L221.00,250.28 L221.50,251.16 L222.00,252.00 L222.50,252.80 L223.00,253.57 L223.50,254.31 L224.00,255.01 L224.50,255.69 L225.00,256.33 L225.50,256.95 L226.00,257.55 L226.50,258.12 L227.00,258.66 L227.50,259.19 L228.00,259.69 L228.50,260.17 L229.00,260.64 L229.50,261.08 L230.00,261.51 L230.50,261.93 L231.00,262.32 L231.50,262.71 L232.00,263.07 L232.50,263.43 L233.00,263.77 L233.50,264.10 L234.00,264.42 L234.50,264.73 L235.00,265.02 L235.50,265.31 L236.00,265.58 L236.50,265.85 L237.00,266.10 L237.50,266.35 L238.00,266.59 L238.50,266.82 L239.00,267.05 L239.50,267.26 L240.00,267.47 L240.50,267.67 L241.00,267.86 L241.50,268.05 L242.00,268.23 L242.50,268.40 L243.00,268.57 L243.50,268.73 L244.00,268.89 L244.50,269.04 L245.00,269.18 L245.50,269.32 L246.00,269.46 L246.50,269.58 L247.00,269.71 L247.50,269.83 L248.00,269.94 L248.50,270.05 L249.00,270.16 L249.50,270.26 L250.00,270.36 L250.50,270.45 L251.00,270.54 L251.50,270.63 L252.00,270.71 L252.50,270.79 L253.00,270.86 L253.50,270.94 L254.00,271.00 L254.50,271.07 L255.00,271.13 L255.50,271.19 L256.00,271.25 L256.50,271.31 L257.00,271.36 L257.50,271.41 L258.00,271.46 L258.50,271.50 L259.00,271.55 L259.50,271.59 L260.00,271.63 L260.50,271.67 L261.00,271.70 L261.50,271.73 L262.00,271.77 L262.50,271.80 L263.00,271.83 L263.50,271.85 L264.00,271.88 L264.50,271.90 L265.00,271.93 L265.50,271.95 L266.00,271.97 L266.50,271.99 L267.00,272.01 L267.50,272.03 L268.00,272.04 L268.50,272.06 L269.00,272.07 L269.50,272.09 L270.00,272.10 L270.50,272.11 L271.00,272.13 L271.50,272.14 L272.00,272.15 L272.50,272.16 L273.00,272.17 L273.50,272.18 L274.00,272.18 L274.50,272.19 L275.00,272.20 L275.50,272.21 L276.00,272.21 L276.50,272.22 L277.00,272.22 L277.50,272.23 L278.00,272.23 L278.50,272.24 L279.00,272.24 L279.50,272.25 L280.00,272.25 L280.50,272.25 L281.00,272.26 L281.50,272.26 L282.00,272.26 L282.50,272.27 L283.00,272.27 L283.50,272.27 L284.00,272.27 L284.50,272.27 L285.00,272.28 L285.50,272.28 L286.00,272.28 L286.50,272.28 L287.00,272.28 L287.50,272.28 L288.00,272.29 L288.50,272.29 L289.00,272.29 L289.50,272.29 L290.00,272.29 L290.50,272.29 L291.00,272.29 L291.50,272.29 L292.00,272.29 L292.50,272.29 L293.00,272.29 L293.50,272.29 L294.00,272.29 L294.50,272.29 L294.50,272.30 L73.00,272.30 Z" fill="#20b2aa" fill-opacity="0.55" stroke="none"/>
<path d="M73.00,272.30 L73.50,272.30 L74.00,272.30 L74.50,272.30 L75.00,272.30 L75.50,272.30 L76.00,272.30 L76.50,272.30 L77.00,272.30 L77.50,272.30 L78.00,272.30 L78.50,272.30 L79.00,272.30 L79.50,272.30 L80.00,272.30 L80.50,272.30 L81.00,272.30 L81.50,272.30 L82.00,272.30 L82.50,272.30 L83.00,272.29 L83.50,272.29 L84.00,272.29 L84.50,272.29 L85.00,272.29 L85.50,272.29 L86.00,272.29 L86.50,272.29 L87.00,272.29 L87.50,272.29 L88.00,272.29 L88.50,272.29 L89.00,272.29 L89.50,272.29 L90.00,272.28 L90.50,272.28 L91.00,272.28 L91.50,272.28 L92.00,272.28 L92.50,272.28 L93.00,272.27 L93.50,272.27 L94.00,272.27 L94.50,272.27 L95.00,272.27 L95.50,272.26 L96.00,272.26 L96.50,272.26 L97.00,272.25 L97.50,272.25 L98.00,272.25 L98.50,272.24 L99.00,272.24 L99.50,272.23 L100.00,272.23 L100.50,272.22 L101.00,272.22 L101.50,272.21 L102.00,272.20 L102.50,272.20 L103.00,272.19 L103.50,272.18 L104.00,272.17 L104.50,272.17 L105.00,272.16 L105.50,272.15 L106.00,272.14 L106.50,272.12 L107.00,272.11 L107.50,272.10 L108.00,272.09 L108.50,272.07 L109.00,272.06 L109.50,272.04 L110.00,272.02 L110.50,272.01 L111.00,271.99 L111.50,271.97 L112.00,271.95 L112.50,271.92 L113.00,271.90 L113.50,271.88 L114.00,271.85 L114.50,271.82 L115.00,271.79 L115.50,271.76 L116.00,271.73 L116.50,271.70 L117.00,271.66 L117.50,271.62 L118.00,271.58 L118.50,271.54 L119.00,271.50 L119.50,271.45 L120.00,271.41 L120.50,271.35 L121.00,271.30 L121.50,271.25 L122.00,271.19 L122.50,271.13 L123.00,271.06 L123.50,271.00 L124.00,270.93 L124.50,270.86 L125.00,270.78 L125.50,270.70 L126.00,270.62 L126.50,270.53 L127.00,270.44 L127.50,270.35 L128.00,270.25 L128.50,270.15 L129.00,270.04 L129.50,269.93 L130.00,269.82 L130.50,269.70 L131.00,269.57 L131.50,269.44 L132.00,269.31 L132.50,269.17 L133.00,269.03 L133.50,268.88 L134.00,268.72 L134.50,268.56 L135.00,268.39 L135.50,268.22 L136.00,268.04 L136.50,267.85 L137.00,267.66 L137.50,267.46 L138.00,267.25 L138.50,267.04 L139.00,266.82 L139.50,266.59 L140.00,266.35 L140.50,266.10 L141.00,265.85 L141.50,265.58 L142.00,265.31 L142.50,265.02 L143.00,264.73 L143.50,264.42 L144.00,264.10 L144.50,263.77 L145.00,263.43 L145.50,263.07 L146.00,262.70 L146.50,262.31 L147.00,261.91 L147.50,261.48 L148.00,261.04 L148.50,260.58 L149.00,260.10 L149.50,259.59 L150.00,259.05 L150.50,258.49 L151.00,257.90 L151.50,257.27 L152.00,256.61 L152.50,255.92 L153.00,255.18 L153.50,254.40 L154.00,253.56 L154.50,252.68 L155.00,251.75 L155.50,250.75 L156.00,249.69 L156.50,248.56 L157.00,247.36 L157.50,246.08 L158.00,244.71 L158.50,243.26 L159.00,241.72 L159.50,240.07 L160.00,238.32 L160.50,236.46 L161.00,234.49 L161.50,232.40 L162.00,230.18 L162.50,227.83 L163.00,225.35 L163.50,222.74 L164.00,219.98 L164.50,217.09 L165.00,214.05 L165.50,210.87 L166.00,207.54 L166.50,204.08 L167.00,200.47 L167.50,196.73 L168.00,192.85 L168.50,188.85 L169.00,184.73 L169.50,180.50 L170.00,176.16 L170.50,171.74 L171.00,167.24 L171.50,162.67 L172.00,158.06 L172.50,153.40 L173.00,148.73 L173.50,144.06 L174.00,139.41 L174.50,134.79 L175.00,130.23 L175.50,125.74 L176.00,121.35 L176.50,117.07 L177.00,112.93 L177.50,108.95 L178.00,105.13 L178.50,101.50 L179.00,98.07 L179.50,94.85 L180.00,91.83 L180.50,89.03 L181.00,86.41 L181.50,83.97 L182.00,81.69 L182.50,79.57 L183.00,77.65 L183.50,75.95 L184.00,74.58 L184.50,73.62 L185.00,73.17 L185.50,73.28 L186.00,73.95 L186.50,75.16 L187.00,76.81 L187.50,78.80 L188.00,81.03 L188.50,83.41 L189.00,85.89 L189.50,88.46 L190.00,91.09 L190.50,93.81 L191.00,96.60 L191.50,99.47 L192.00,102.41 L192.50,105.38" fill="none" stroke="#1cb0a2" stroke-width="2.3"/>
<path d="M192.45,105.08 L192.95,108.06 L193.45,111.02 L193.95,113.94 L194.45,116.80 L194.95,119.59 L195.45,122.31 L195.95,125.00 L196.45,127.69 L196.95,130.44 L197.45,133.31 L197.95,136.35 L198.45,139.63 L198.95,143.16 L199.45,146.95 L199.95,150.98 L200.45,155.20 L200.95,159.54 L201.45,163.93 L201.95,168.30 L202.45,172.58 L202.95,176.72 L203.45,180.67 L203.95,184.44 L204.45,188.00 L204.95,191.36 L205.45,194.55 L205.95,197.58 L206.45,200.46 L206.95,203.22 L207.45,205.88 L207.95,208.43 L208.45,210.89 L208.95,213.26 L209.45,215.56 L209.95,217.77 L210.45,219.91 L210.95,221.98 L211.45,223.98 L211.95,225.90 L212.45,227.76 L212.95,229.55 L213.45,231.27 L213.95,232.92 L214.45,234.52 L214.95,236.05 L215.45,237.52 L215.95,238.93 L216.45,240.28 L216.95,241.58 L217.45,242.83 L217.95,244.02 L218.45,245.16 L218.95,246.26 L219.45,247.31 L219.95,248.31 L220.45,249.27 L220.95,250.19 L221.45,251.07 L221.95,251.92 L222.45,252.72 L222.95,253.49 L223.45,254.23 L223.95,254.94 L224.45,255.62 L224.95,256.27 L225.45,256.89 L225.95,257.49 L226.45,258.06 L226.95,258.61 L227.45,259.13 L227.95,259.64 L228.45,260.13 L228.95,260.59 L229.45,261.04 L229.95,261.47 L230.45,261.88 L230.95,262.28 L231.45,262.67 L231.95,263.04 L232.45,263.39 L232.95,263.74 L233.45,264.07 L233.95,264.39 L234.45,264.70 L234.95,264.99 L235.45,265.28 L235.95,265.56 L236.45,265.82 L236.95,266.08 L237.45,266.33 L237.95,266.57 L238.45,266.80 L238.95,267.02 L239.45,267.24 L239.95,267.45 L240.45,267.65 L240.95,267.84 L241.45,268.03 L241.95,268.21 L242.45,268.39 L242.95,268.55 L243.45,268.72 L243.95,268.87 L244.45,269.02 L244.95,269.17 L245.45,269.31 L245.95,269.44 L246.45,269.57 L246.95,269.70 L247.45,269.82 L247.95,269.93 L248.45,270.04 L248.95,270.15 L249.45,270.25 L249.95,270.35 L250.45,270.44 L250.95,270.53 L251.45,270.62 L251.95,270.70 L252.45,270.78 L252.95,270.86 L253.45,270.93 L253.95,271.00 L254.45,271.06 L254.95,271.13 L255.45,271.19 L255.95,271.25 L256.45,271.30 L256.95,271.35 L257.45,271.41 L257.95,271.45 L258.45,271.50 L258.95,271.54 L259.45,271.58 L259.95,271.62 L260.45,271.66 L260.95,271.70 L261.45,271.73 L261.95,271.76 L262.45,271.79 L262.95,271.82 L263.45,271.85 L263.95,271.88 L264.45,271.90 L264.95,271.93 L265.45,271.95 L265.95,271.97 L266.45,271.99 L266.95,272.01 L267.45,272.02 L267.95,272.04 L268.45,272.06 L268.95,272.07 L269.45,272.09 L269.95,272.10 L270.45,272.11 L270.95,272.12 L271.45,272.14 L271.95,272.15 L272.45,272.16 L272.95,272.17 L273.45,272.17 L273.95,272.18 L274.45,272.19 L274.95,272.20 L275.45,272.20 L275.95,272.21 L276.45,272.22 L276.95,272.22 L277.45,272.23 L277.95,272.23 L278.45,272.24 L278.95,272.24 L279.45,272.25 L279.95,272.25 L280.45,272.25 L280.95,272.26 L281.45,272.26 L281.95,272.26 L282.45,272.27 L282.95,272.27 L283.45,272.27 L283.95,272.27 L284.45,272.27 L284.95,272.28 L285.45,272.28 L285.95,272.28 L286.45,272.28 L286.95,272.28 L287.45,272.28 L287.95,272.29 L288.45,272.29 L288.95,272.29 L289.45,272.29 L289.95,272.29 L290.45,272.29 L290.95,272.29 L291.45,272.29 L291.95,272.29 L292.45,272.29 L292.95,272.29 L293.45,272.29 L293.95,272.29 L294.45,272.29" fill="none" stroke="#1a9fa3" stroke-width="2.3"/>
<path d="M85.50,272.30 L86.00,272.30 L86.50,272.30 L87.00,272.30 L87.50,272.30 L88.00,272.30 L88.50,272.30 L89.00,272.30 L89.50,272.30 L90.00,272.30 L90.50,272.29 L91.00,272.29 L91.50,272.29 L92.00,272.29 L92.50,272.29 L93.00,272.29 L93.50,272.29 L94.00,272.29 L94.50,272.29 L95.00,272.29 L95.50,272.29 L96.00,272.29 L96.50,272.29 L97.00,272.29 L97.50,272.29 L98.00,272.28 L98.50,272.28 L99.00,272.28 L99.50,272.28 L100.00,272.28 L100.50,272.28 L101.00,272.28 L101.50,272.27 L102.00,272.27 L102.50,272.27 L103.00,272.27 L103.50,272.26 L104.00,272.26 L104.50,272.26 L105.00,272.26 L105.50,272.25 L106.00,272.25 L106.50,272.25 L107.00,272.24 L107.50,272.24 L108.00,272.24 L108.50,272.23 L109.00,272.23 L109.50,272.22 L110.00,272.22 L110.50,272.21 L111.00,272.21 L111.50,272.20 L112.00,272.19 L112.50,272.19 L113.00,272.18 L113.50,272.17 L114.00,272.16 L114.50,272.15 L115.00,272.14 L115.50,272.14 L116.00,272.12 L116.50,272.11 L117.00,272.10 L117.50,272.09 L118.00,272.08 L118.50,272.07 L119.00,272.05 L119.50,272.04 L120.00,272.02 L120.50,272.00 L121.00,271.99 L121.50,271.97 L122.00,271.95 L122.50,271.93 L123.00,271.91 L123.50,271.89 L124.00,271.87 L124.50,271.84 L125.00,271.82 L125.50,271.79 L126.00,271.76 L126.50,271.73 L127.00,271.70 L127.50,271.67 L128.00,271.64 L128.50,271.60 L129.00,271.57 L129.50,271.53 L130.00,271.49 L130.50,271.45 L131.00,271.41 L131.50,271.36 L132.00,271.32 L132.50,271.27 L133.00,271.22 L133.50,271.17 L134.00,271.11 L134.50,271.06 L135.00,271.00 L135.50,270.94 L136.00,270.87 L136.50,270.81 L137.00,270.74" fill="none" stroke="#0e6a92" stroke-width="2.3"/>
<path d="M259.50,270.79 L260.00,270.86 L260.50,270.92 L261.00,270.99 L261.50,271.04 L262.00,271.10 L262.50,271.16 L263.00,271.21 L263.50,271.26 L264.00,271.31 L264.50,271.35 L265.00,271.40 L265.50,271.44 L266.00,271.48 L266.50,271.52 L267.00,271.56 L267.50,271.60 L268.00,271.63 L268.50,271.67 L269.00,271.70 L269.50,271.73 L270.00,271.76 L270.50,271.78 L271.00,271.81 L271.50,271.84 L272.00,271.86 L272.50,271.88 L273.00,271.91 L273.50,271.93 L274.00,271.95 L274.50,271.97 L275.00,271.98 L275.50,272.00 L276.00,272.02 L276.50,272.03 L277.00,272.05 L277.50,272.06 L278.00,272.08 L278.50,272.09 L279.00,272.10 L279.50,272.11 L280.00,272.12 L280.50,272.13 L281.00,272.14 L281.50,272.15 L282.00,272.16 L282.50,272.17 L283.00,272.18 L283.50,272.18 L284.00,272.19 L284.50,272.20 L285.00,272.20 L285.50,272.21 L286.00,272.22 L286.50,272.22 L287.00,272.23 L287.50,272.23 L288.00,272.23 L288.50,272.24 L289.00,272.24 L289.50,272.25 L290.00,272.25 L290.50,272.25 L291.00,272.26 L291.50,272.26 L292.00,272.26 L292.50,272.26 L293.00,272.27 L293.50,272.27 L294.00,272.27 L294.50,272.27 L295.00,272.27 L295.50,272.28 L296.00,272.28 L296.50,272.28 L297.00,272.28 L297.50,272.28 L298.00,272.28" fill="none" stroke="#0e6a92" stroke-width="2.3"/>
<path d="M77.50,272.30 L78.00,272.30 L78.50,272.30 L79.00,272.29 L79.50,272.29 L80.00,272.29 L80.50,272.29 L81.00,272.29 L81.50,272.29 L82.00,272.29 L82.50,272.29 L83.00,272.29 L83.50,272.29 L84.00,272.29 L84.50,272.29 L85.00,272.29 L85.50,272.29 L86.00,272.29 L86.50,272.29 L87.00,272.29 L87.50,272.29 L88.00,272.28 L88.50,272.28 L89.00,272.28 L89.50,272.28 L90.00,272.28 L90.50,272.28 L91.00,272.28 L91.50,272.28 L92.00,272.27 L92.50,272.27 L93.00,272.27 L93.50,272.27 L94.00,272.27 L94.50,272.27 L95.00,272.26 L95.50,272.26 L96.00,272.26 L96.50,272.26 L97.00,272.26 L97.50,272.25 L98.00,272.25 L98.50,272.25 L99.00,272.25 L99.50,272.24 L100.00,272.24 L100.50,272.24 L101.00,272.23 L101.50,272.23 L102.00,272.23 L102.50,272.22 L103.00,272.22 L103.50,272.21 L104.00,272.21 L104.50,272.20 L105.00,272.20 L105.50,272.19 L106.00,272.19 L106.50,272.18 L107.00,272.18 L107.50,272.17 L108.00,272.16 L108.50,272.16 L109.00,272.15 L109.50,272.14 L110.00,272.13 L110.50,272.12 L111.00,272.12 L111.50,272.11 L112.00,272.10 L112.50,272.09 L113.00,272.08 L113.50,272.07 L114.00,272.06 L114.50,272.04 L115.00,272.03 L115.50,272.02 L116.00,272.01 L116.50,271.99 L117.00,271.98 L117.50,271.96 L118.00,271.95 L118.50,271.93 L119.00,271.91 L119.50,271.90 L120.00,271.88 L120.50,271.86 L121.00,271.84 L121.50,271.82 L122.00,271.80 L122.50,271.77 L123.00,271.75 L123.50,271.73 L124.00,271.70 L124.50,271.68 L125.00,271.65 L125.50,271.62 L126.00,271.59 L126.50,271.56 L127.00,271.53 L127.50,271.50 L128.00,271.46 L128.50,271.43 L129.00,271.39 L129.50,271.35 L130.00,271.31 L130.50,271.27 L131.00,271.23 L131.50,271.19 L132.00,271.14 L132.50,271.09 L133.00,271.05 L133.50,270.99 L134.00,270.94 L134.50,270.89 L135.00,270.83 L135.50,270.77 L136.00,270.71 L136.50,270.65 L137.00,270.58 L137.50,270.51 L138.00,270.44 L138.50,270.37 L139.00,270.29 L139.50,270.22 L140.00,270.14 L140.50,270.05 L141.00,269.96 L141.50,269.87 L142.00,269.78 L142.50,269.68 L143.00,269.58 L143.50,269.48 L144.00,269.37 L144.50,269.26 L145.00,269.14 L145.50,269.02 L146.00,268.90 L146.50,268.77 L147.00,268.64 L147.50,268.50 L148.00,268.36 L148.50,268.21 L149.00,268.06 L149.50,267.90 L150.00,267.74 L150.50,267.57 L151.00,267.39 L151.50,267.21 L152.00,267.02 L152.50,266.83 L153.00,266.62 L153.50,266.41 L154.00,266.20 L154.50,265.97 L155.00,265.74 L155.50,265.50 L156.00,265.25 L156.50,264.99 L157.00,264.72 L157.50,264.44 L158.00,264.15 L158.50,263.85 L159.00,263.54 L159.50,263.21 L160.00,262.88 L160.50,262.53 L161.00,262.16 L161.50,261.78 L162.00,261.39 L162.50,260.97 L163.00,260.55 L163.50,260.10 L164.00,259.63 L164.50,259.15 L165.00,258.64 L165.50,258.11 L166.00,257.55 L166.50,256.97 L167.00,256.37 L167.50,255.73 L168.00,255.07 L168.50,254.37 L169.00,253.64 L169.50,252.88 L170.00,252.08 L170.50,251.24 L171.00,250.36 L171.50,249.44 L172.00,248.48 L172.50,247.46 L173.00,246.40 L173.50,245.27 L174.00,244.07 L174.50,242.78 L175.00,241.36 L175.50,239.76 L176.00,237.93 L176.50,235.81 L177.00,233.35 L177.50,230.54 L178.00,227.44 L178.50,224.16 L179.00,220.90 L179.50,217.87 L180.00,215.26 L180.50,213.21 L181.00,211.74 L181.50,210.73 L182.00,210.01 L182.50,209.36 L183.00,208.59 L183.50,207.55 L184.00,206.17 L184.50,204.46 L185.00,202.45 L185.50,200.21 L186.00,197.79 L186.50,195.25 L187.00,192.63 L187.50,189.95 L188.00,187.23 L188.50,184.50 L189.00,181.75 L189.50,178.99 L190.00,176.23 L190.50,173.48 L191.00,170.75 L191.50,168.04 L192.00,165.36 L192.50,162.71 L193.00,160.11 L193.50,157.55 L194.00,155.06 L194.50,152.63 L195.00,150.26 L195.50,147.98 L196.00,145.78 L196.50,143.66 L197.00,141.64 L197.50,139.71 L198.00,137.89 L198.50,136.18 L199.00,134.58 L199.50,133.08 L200.00,131.71 L200.50,130.45 L201.00,129.32 L201.50,128.30 L202.00,127.40 L202.50,126.63 L203.00,125.98 L203.50,125.45 L204.00,125.05 L204.50,124.76 L205.00,124.59 L205.50,124.53 L206.00,124.59 L206.50,124.77 L207.00,125.05 L207.50,125.44 L208.00,125.94 L208.50,126.54 L209.00,127.24 L209.50,128.03 L210.00,128.93 L210.50,129.91 L211.00,130.99 L211.50,132.15 L212.00,133.39 L212.50,134.72 L213.00,136.13 L213.50,137.62 L214.00,139.18 L214.50,140.81 L215.00,142.52 L215.50,144.28 L216.00,146.12 L216.50,148.01 L217.00,149.97 L217.50,151.98 L218.00,154.04 L218.50,156.16 L219.00,158.32 L219.50,160.52 L220.00,162.76 L220.50,165.04 L221.00,167.35 L221.50,169.68 L222.00,172.04 L222.50,174.42 L223.00,176.81 L223.50,179.21 L224.00,181.62 L224.50,184.03 L225.00,186.44 L225.50,188.84 L226.00,191.22 L226.50,193.59 L227.00,195.94 L227.50,198.27 L228.00,200.56 L228.50,202.83 L229.00,205.05 L229.50,207.24 L230.00,209.39 L230.50,211.50 L231.00,213.56 L231.50,215.56 L232.00,217.52 L232.50,219.43 L233.00,221.29 L233.50,223.09 L234.00,224.83 L234.50,226.53 L235.00,228.16 L235.50,229.75 L236.00,231.28 L236.50,232.75 L237.00,234.17 L237.50,235.54 L238.00,236.86 L238.50,238.13 L239.00,239.36 L239.50,240.53 L240.00,241.66 L240.50,242.75 L241.00,243.79 L241.50,244.80 L242.00,245.76 L242.50,246.69 L243.00,247.58 L243.50,248.44 L244.00,249.27 L244.50,250.06 L245.00,250.83 L245.50,251.56 L246.00,252.28 L246.50,252.96 L247.00,253.62 L247.50,254.26 L248.00,254.88 L248.50,255.47 L249.00,256.04 L249.50,256.60 L250.00,257.14 L250.50,257.66 L251.00,258.16 L251.50,258.65 L252.00,259.12 L252.50,259.57 L253.00,260.01 L253.50,260.44 L254.00,260.85 L254.50,261.26 L255.00,261.64 L255.50,262.02 L256.00,262.38 L256.50,262.74 L257.00,263.08 L257.50,263.41 L258.00,263.73 L258.50,264.04 L259.00,264.34 L259.50,264.63 L260.00,264.91 L260.50,265.18 L261.00,265.45 L261.50,265.70 L262.00,265.95 L262.50,266.18 L263.00,266.41 L263.50,266.64 L264.00,266.85 L264.50,267.06 L265.00,267.26 L265.50,267.45 L266.00,267.64 L266.50,267.82 L267.00,267.99 L267.50,268.16 L268.00,268.32 L268.50,268.47 L269.00,268.62 L269.50,268.77 L270.00,268.90 L270.50,269.04 L271.00,269.17 L271.50,269.29 L272.00,269.41 L272.50,269.53 L273.00,269.64 L273.50,269.74 L274.00,269.85 L274.50,269.94 L275.00,270.04 L275.50,270.13 L276.00,270.22 L276.50,270.30 L277.00,270.38 L277.50,270.46 L278.00,270.54 L278.50,270.61 L279.00,270.68 L279.50,270.75 L280.00,270.81 L280.50,270.87 L281.00,270.93 L281.50,270.99 L282.00,271.04 L282.50,271.10 L283.00,271.15 L283.50,271.19 L284.00,271.24 L284.50,271.28 L285.00,271.33 L285.50,271.37 L286.00,271.41 L286.50,271.45 L287.00,271.48 L287.50,271.52 L288.00,271.55 L288.50,271.58 L289.00,271.61 L289.50,271.64 L290.00,271.67 L290.50,271.70 L291.00,271.73 L291.50,271.75 L292.00,271.78 L292.50,271.80 L293.00,271.82 L293.50,271.84 L294.00,271.86 L294.50,271.88 L295.00,271.90 L295.50,271.92 L296.00,271.94 L296.50,271.95 L297.00,271.97 L297.50,271.98 L298.00,272.00 L298.50,272.01 L299.00,272.02 L299.50,272.04 L300.00,272.05 L300.50,272.06 L301.00,272.07 L301.50,272.08 L302.00,272.09 L302.50,272.10 L303.00,272.11 L303.50,272.12 L304.00,272.13 L304.50,272.14 L305.00,272.15 L305.50,272.15 L306.00,272.16 L306.50,272.17 L307.00,272.17 L307.50,272.18 L308.00,272.19 L308.50,272.19 L309.00,272.20 L309.50,272.20 L310.00,272.21 L310.50,272.21 L311.00,272.22 L311.50,272.22 L312.00,272.22 L312.50,272.23 L313.00,272.23 L313.50,272.24 L314.00,272.24 L314.50,272.24 L315.00,272.24 L315.50,272.25 L316.00,272.25 L316.50,272.25 L317.00,272.26 L317.50,272.26 L318.00,272.26 L318.50,272.26 L319.00,272.26 L319.50,272.27 L320.00,272.27 L320.50,272.27 L321.00,272.27 L321.50,272.27 L322.00,272.27 L322.50,272.28 L323.00,272.28 L323.50,272.28 L324.00,272.28 L324.50,272.28 L325.00,272.28 L325.50,272.28 L326.00,272.28 L326.50,272.28 L327.00,272.29 L327.50,272.29 L328.00,272.29 L328.50,272.29 L329.00,272.29 L329.50,272.29 L330.00,272.29 L330.50,272.29 L331.00,272.29 L331.50,272.29" fill="none" stroke="#bcbcbc" stroke-width="2.2" stroke-dasharray="8 9" stroke-dashoffset="0"/>
<g transform="translate(0.6,0.5)">
<line x1="218" y1="34.2" x2="240.6" y2="34.2" stroke="#1cb0a2" stroke-width="2.4"/>
<line x1="218" y1="47.0" x2="240.6" y2="47.0" stroke="#0e6a92" stroke-width="2.4"/>
<line x1="218" y1="59.2" x2="240.6" y2="59.2" stroke="#bcbcbc" stroke-width="2.4" stroke-dasharray="8.2 9.4"/>
<text x="245.5" y="37.8" class="tk">solitary</text>
<text x="245.5" y="49.9" class="tk">social</text>
<text x="245.5" y="62" class="tk">contrast</text>
</g>
</g>
</svg></body></html>
